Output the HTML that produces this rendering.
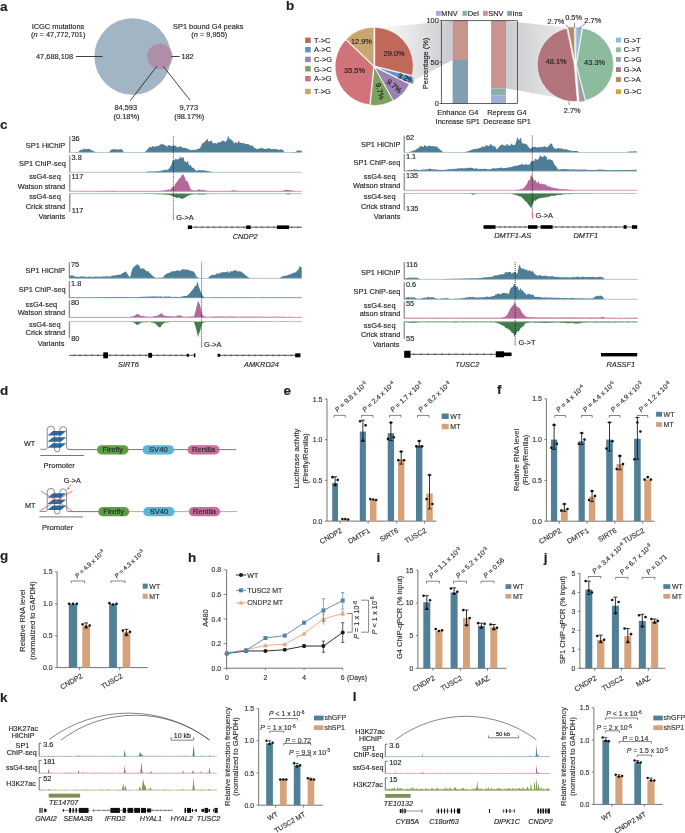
<!DOCTYPE html>
<html><head><meta charset="utf-8"><style>
html,body{margin:0;padding:0;background:#fff;width:685px;height:833px;overflow:hidden}
svg{display:block;will-change:transform;font-family:"Liberation Sans", sans-serif;fill:#231f20}
</style></head><body>
<svg width="685" height="833" viewBox="0 0 685 833">
<rect width="685" height="833" fill="#fff"/>
<text x="0" y="10.6" font-size="13.5" font-weight="bold" stroke="#231f20" stroke-width="0.15">a</text>
<circle cx="132.7" cy="56.5" r="38.3" fill="#a2b5c5"/>
<circle cx="159.9" cy="56.5" r="12.7" fill="#b2819f" fill-opacity="0.75"/>
<text x="58" y="28.9" font-size="7.4" text-anchor="middle" stroke="#231f20" stroke-width="0.15">ICGC mutations</text>
<text x="58.2" y="37.4" font-size="7.4" text-anchor="middle" stroke="#231f20" stroke-width="0.15">(<tspan font-style="italic">n</tspan> = 47,772,701)</text>
<text x="73" y="59.2" font-size="7.4" text-anchor="end" stroke="#231f20" stroke-width="0.15">47,688,108</text>
<line x1="76" y1="56.5" x2="102.5" y2="56.5" stroke="#231f20" stroke-width="0.85"/>
<text x="208.2" y="29.3" font-size="7.4" text-anchor="middle" stroke="#231f20" stroke-width="0.15">SP1 bound G4 peaks</text>
<text x="209.3" y="37.4" font-size="7.4" text-anchor="middle" stroke="#231f20" stroke-width="0.15">(<tspan font-style="italic">n</tspan> = 9,955)</text>
<line x1="171.2" y1="56.5" x2="179.6" y2="56.5" stroke="#231f20" stroke-width="0.85"/>
<text x="181.4" y="59.4" font-size="7.4" stroke="#231f20" stroke-width="0.15">182</text>
<line x1="156.8" y1="66.4" x2="130.2" y2="100.7" stroke="#231f20" stroke-width="0.85"/>
<line x1="163.3" y1="66.4" x2="190.1" y2="100.2" stroke="#231f20" stroke-width="0.85"/>
<text x="125.8" y="110.2" font-size="7.4" text-anchor="middle" stroke="#231f20" stroke-width="0.15">84,593</text>
<text x="126.5" y="118.8" font-size="7.4" text-anchor="middle" stroke="#231f20" stroke-width="0.15">(0.18%)</text>
<text x="188.8" y="110.2" font-size="7.4" text-anchor="middle" stroke="#231f20" stroke-width="0.15">9,773</text>
<text x="189.2" y="118.8" font-size="7.4" text-anchor="middle" stroke="#231f20" stroke-width="0.15">(98.17%)</text>
<text x="285.9" y="10.3" font-size="13.5" font-weight="bold" stroke="#231f20" stroke-width="0.15">b</text>
<defs><linearGradient id="gl" x1="374" y1="0" x2="453" y2="0" gradientUnits="userSpaceOnUse"><stop offset="0" stop-color="#ffffff"/><stop offset="1" stop-color="#c9cacd"/></linearGradient><linearGradient id="gr" x1="506" y1="0" x2="575" y2="0" gradientUnits="userSpaceOnUse"><stop offset="0" stop-color="#cbccce"/><stop offset="1" stop-color="#eeeef0"/></linearGradient></defs>
<path d="M374.6 27.9 L452.6 20.7 L452.6 59.9 L408.1 83.3Z" fill="url(#gl)"/>
<path d="M506 20.7 L569 28 L577 101 L506 88.5Z" fill="url(#gr)"/>
<rect x="305.1" y="37.6" width="5.6" height="5.4" fill="#c0695a"/>
<text x="314.1" y="43" font-size="7.4" stroke="#231f20" stroke-width="0.15">T-&gt;C</text>
<rect x="305.1" y="47" width="5.6" height="5.4" fill="#5f93c5"/>
<text x="314.1" y="52.4" font-size="7.4" stroke="#231f20" stroke-width="0.15">A-&gt;C</text>
<rect x="305.1" y="56.7" width="5.6" height="5.4" fill="#9c82b4"/>
<text x="314.1" y="62.1" font-size="7.4" stroke="#231f20" stroke-width="0.15">C-&gt;G</text>
<rect x="305.1" y="66.1" width="5.6" height="5.4" fill="#79a35e"/>
<text x="314.1" y="71.5" font-size="7.4" stroke="#231f20" stroke-width="0.15">G-&gt;C</text>
<rect x="305.1" y="76" width="5.6" height="5.4" fill="#d0737a"/>
<text x="314.1" y="81.4" font-size="7.4" stroke="#231f20" stroke-width="0.15">A-&gt;G</text>
<rect x="305.1" y="88.8" width="5.6" height="5.4" fill="#c9a66f"/>
<text x="314.1" y="94.2" font-size="7.4" stroke="#231f20" stroke-width="0.15">T-&gt;G</text>
<path d="M374.8 66 L374.8 27.5 A38.5 38.5 0 0 1 412.09 75.57 Z" fill="#c0695a" stroke="#fff" stroke-width="0.6"/>
<path d="M375.8 67 L413.09 76.57 A38.5 38.5 0 0 1 410.43 83.83 Z" fill="#5f93c5" stroke="#fff" stroke-width="0.6"/>
<path d="M374.7 67.2 L409.33 84.03 A38.5 38.5 0 0 1 393.46 100.82 Z" fill="#9c82b4" stroke="#fff" stroke-width="0.6"/>
<path d="M374.2 67 L392.96 100.62 A38.5 38.5 0 0 1 370.34 105.31 Z" fill="#79a35e" stroke="#fff" stroke-width="0.6"/>
<path d="M373.6 66.4 L369.74 104.71 A38.5 38.5 0 0 1 345.7 39.87 Z" fill="#d0737a" stroke="#fff" stroke-width="0.6"/>
<path d="M373.9 65.8 L346 39.27 A38.5 38.5 0 0 1 373.9 27.3 Z" fill="#c9a66f" stroke="#fff" stroke-width="0.6"/>
<text x="394.2" y="55.9" font-size="7.4" text-anchor="middle" stroke="#231f20" stroke-width="0.15">29.0%</text>
<text x="361.4" y="44.3" font-size="7.4" text-anchor="middle" stroke="#231f20" stroke-width="0.15">12.9%</text>
<text x="354.5" y="73" font-size="7.4" text-anchor="middle" stroke="#231f20" stroke-width="0.15">35.5%</text>
<text x="405" y="80.6" font-size="7.4" text-anchor="middle" stroke="#231f20" stroke-width="0.15" transform="rotate(22 405 80.6)">3.2%</text>
<text x="392.5" y="88" font-size="7.4" text-anchor="middle" stroke="#231f20" stroke-width="0.15" transform="rotate(40 392.5 88)">9.7%</text>
<text x="377.6" y="92" font-size="7.4" text-anchor="middle" stroke="#231f20" stroke-width="0.15" transform="rotate(75 377.6 92)">9.7%</text>
<rect x="453.3" y="20.7" width="14.7" height="39.2" fill="#c9938f"/>
<rect x="452.6" y="20.7" width="15.4" height="39.2" fill="#c9938f"/>
<rect x="452.6" y="59.9" width="15.4" height="43.6" fill="#819fb3"/>
<rect x="491.1" y="20.7" width="14.9" height="67.8" fill="#c9938f"/>
<rect x="491.1" y="88.5" width="14.9" height="7" fill="#86b0a8"/>
<rect x="491.1" y="95.5" width="14.9" height="8" fill="#a0b0d4"/>
<rect x="441.3" y="20.7" width="76" height="82.8" fill="none" stroke="#231f20" stroke-width="0.7"/>
<line x1="439.6" y1="103.5" x2="441.3" y2="103.5" stroke="#231f20" stroke-width="0.7"/>
<text x="438.8" y="106.1" font-size="7.4" text-anchor="end" stroke="#231f20" stroke-width="0.15">0</text>
<line x1="439.6" y1="62.1" x2="441.3" y2="62.1" stroke="#231f20" stroke-width="0.7"/>
<text x="438.8" y="64.7" font-size="7.4" text-anchor="end" stroke="#231f20" stroke-width="0.15">50</text>
<line x1="439.6" y1="20.7" x2="441.3" y2="20.7" stroke="#231f20" stroke-width="0.7"/>
<text x="438.8" y="23.3" font-size="7.4" text-anchor="end" stroke="#231f20" stroke-width="0.15">100</text>
<text x="427.6" y="63.4" font-size="7.4" text-anchor="middle" stroke="#231f20" stroke-width="0.15" transform="rotate(-90 427.6 63.4)">Percentage (%)</text>
<text x="457.8" y="115.4" font-size="7.4" text-anchor="middle" stroke="#231f20" stroke-width="0.15">Enhance G4</text>
<text x="457.8" y="124.2" font-size="7.4" text-anchor="middle" stroke="#231f20" stroke-width="0.15">Increase SP1</text>
<text x="507" y="115.4" font-size="7.4" text-anchor="middle" stroke="#231f20" stroke-width="0.15">Repress G4</text>
<text x="507" y="124.2" font-size="7.4" text-anchor="middle" stroke="#231f20" stroke-width="0.15">Decrease SP1</text>
<rect x="436" y="10.9" width="4.8" height="4.9" fill="#a0b0d4"/>
<text x="441.3" y="15.8" font-size="7.4" stroke="#231f20" stroke-width="0.15">MNV</text>
<rect x="462.4" y="10.9" width="4.8" height="4.9" fill="#86b0a8"/>
<text x="467.7" y="15.8" font-size="7.4" stroke="#231f20" stroke-width="0.15">Del</text>
<rect x="483" y="10.9" width="4.8" height="4.9" fill="#c9938f"/>
<text x="488.3" y="15.8" font-size="7.4" stroke="#231f20" stroke-width="0.15">SNV</text>
<rect x="507.2" y="10.9" width="4.8" height="4.9" fill="#819fb3"/>
<text x="512.5" y="15.8" font-size="7.4" stroke="#231f20" stroke-width="0.15">Ins</text>
<path d="M576 64 L576 27 A37 37 0 0 1 582.25 27.53 Z" fill="#8fb8d9" stroke="#fff" stroke-width="0.5"/>
<path d="M576.5 64.6 L582.75 28.13 A37 37 0 0 1 585.7 100.44 Z" fill="#8dbb9d" stroke="#fff" stroke-width="0.5"/>
<path d="M576.1 65.2 L585.3 101.04 A37 37 0 0 1 579.12 102.08 Z" fill="#9b9ea6" stroke="#fff" stroke-width="0.5"/>
<path d="M574.2 64.6 L577.22 101.48 A37 37 0 0 1 566.81 28.35 Z" fill="#b2747c" stroke="#fff" stroke-width="0.5"/>
<path d="M575.3 63.8 L567.91 27.55 A37 37 0 0 1 574.14 26.82 Z" fill="#b08b6b" stroke="#fff" stroke-width="0.5"/>
<path d="M575.6 63.8 L574.44 26.82 A37 37 0 0 1 575.6 26.8 Z" fill="#d9a531" stroke="#fff" stroke-width="0.5"/>
<text x="556.2" y="64.3" font-size="7.4" text-anchor="middle" stroke="#231f20" stroke-width="0.15">48.1%</text>
<text x="594.6" y="64.8" font-size="7.4" text-anchor="middle" stroke="#231f20" stroke-width="0.15">43.3%</text>
<text x="556" y="23.7" font-size="7.4" text-anchor="middle" stroke="#231f20" stroke-width="0.15">2.7%</text>
<text x="573.6" y="20.2" font-size="7.4" text-anchor="middle" stroke="#231f20" stroke-width="0.15">0.5%</text>
<text x="592.8" y="22.8" font-size="7.4" text-anchor="middle" stroke="#231f20" stroke-width="0.15">2.7%</text>
<text x="572.2" y="113" font-size="7.4" text-anchor="middle" stroke="#231f20" stroke-width="0.15">2.7%</text>
<line x1="565.8" y1="25" x2="569.5" y2="28.4" stroke="#231f20" stroke-width="0.5"/>
<line x1="574.4" y1="22.6" x2="574.6" y2="27.6" stroke="#231f20" stroke-width="0.5"/>
<line x1="585.6" y1="23.4" x2="579" y2="28.4" stroke="#231f20" stroke-width="0.5"/>
<line x1="568.6" y1="101.8" x2="569.6" y2="105" stroke="#231f20" stroke-width="0.5"/>
<rect x="616" y="37.7" width="4.9" height="4.8" fill="#8fb8d9"/>
<text x="623.7" y="42.6" font-size="7.4" stroke="#231f20" stroke-width="0.15">G-&gt;T</text>
<rect x="616" y="47.4" width="4.9" height="4.8" fill="#8dbb9d"/>
<text x="623.7" y="52.3" font-size="7.4" stroke="#231f20" stroke-width="0.15">C-&gt;T</text>
<rect x="616" y="57" width="4.9" height="4.8" fill="#9b9ea6"/>
<text x="623.7" y="61.9" font-size="7.4" stroke="#231f20" stroke-width="0.15">C-&gt;G</text>
<rect x="616" y="67.2" width="4.9" height="4.8" fill="#b2747c"/>
<text x="623.7" y="72.1" font-size="7.4" stroke="#231f20" stroke-width="0.15">G-&gt;A</text>
<rect x="616" y="77.1" width="4.9" height="4.8" fill="#b08b6b"/>
<text x="623.7" y="82" font-size="7.4" stroke="#231f20" stroke-width="0.15">C-&gt;A</text>
<rect x="616" y="89.3" width="4.9" height="4.8" fill="#d9a531"/>
<text x="623.7" y="94.2" font-size="7.4" stroke="#231f20" stroke-width="0.15">G-&gt;C</text>
<text x="0" y="129.2" font-size="13.5" font-weight="bold" stroke="#231f20" stroke-width="0.15">c</text>
<text x="65.3" y="147.8" font-size="7.4" text-anchor="end" stroke="#231f20" stroke-width="0.15">SP1 HiChIP</text>
<text x="65.9" y="166.2" font-size="7.4" text-anchor="end" stroke="#231f20" stroke-width="0.15">SP1 ChIP-seq</text>
<text x="60.8" y="178.9" font-size="7.4" text-anchor="end" stroke="#231f20" stroke-width="0.15">ssG4-seq</text>
<text x="65.2" y="188.7" font-size="7.4" text-anchor="end" stroke="#231f20" stroke-width="0.15">Watson strand</text>
<text x="60.8" y="199.3" font-size="7.4" text-anchor="end" stroke="#231f20" stroke-width="0.15">ssG4-seq</text>
<text x="65.2" y="209.1" font-size="7.4" text-anchor="end" stroke="#231f20" stroke-width="0.15">Crick strand</text>
<text x="65.2" y="219.3" font-size="7.4" text-anchor="end" stroke="#231f20" stroke-width="0.15">Variants</text>
<path d="M70.2 152.6L70.2 152.39L70.7 152.36L71.2 152.34L71.7 152.31L72.2 152.3L72.7 152.26L73.2 152.22L73.7 152.21L74.2 152.18L74.7 152.21L75.2 152.19L75.7 152.18L76.2 152.01L76.7 151.99L77.2 151.96L77.7 152.09L78.2 151.88L78.7 151.46L79.2 150.98L79.7 150.56L80.2 150.19L80.7 149.85L81.2 149.8L81.7 149.68L82.2 149.53L82.7 149.47L83.2 149.4L83.7 148.7L84.2 148.61L84.7 148.52L85.2 149.26L85.7 149.3L86.2 149.39L86.7 148.93L87.2 148.9L87.7 149.04L88.2 148.83L88.7 149.05L89.2 149.07L89.7 149.12L90.2 149.15L90.7 149.48L91.2 150.28L91.7 150.44L92.2 150.69L92.7 150.85L93.2 150.96L93.7 151.16L94.2 151.44L94.7 151.7L95.2 151.95L95.7 152.1L96.2 152.27L96.7 152.28L97.2 152.32L97.7 152.33L98.2 152.32L98.7 152.33L99.2 152.34L99.7 152.34L100.2 152.25L100.7 152.26L101.2 152.25L101.7 152.33L102.2 152.32L102.7 152.32L103.2 152.32L103.7 152.34L104.2 152.34L104.7 152.28L105.2 152.28L105.7 152.28L106.2 152.33L106.7 152.34L107.2 152.33L107.7 152.31L108.2 152.3L108.7 152.31L109.2 152.05L109.7 151.49L110.2 150.92L110.7 150.04L111.2 149.7L111.7 149.6L112.2 149.49L112.7 149.52L113.2 149.27L113.7 149.1L114.2 149.03L114.7 148.98L115.2 149.51L115.7 149.57L116.2 149.44L116.7 149.23L117.2 149.32L117.7 149.42L118.2 149.45L118.7 149.62L119.2 149.62L119.7 149.18L120.2 149.27L120.7 149.38L121.2 149.12L121.7 149.2L122.2 149.49L122.7 150.57L123.2 151.23L123.7 151.9L124.2 152.3L124.7 152.3L125.2 152.29L125.7 152.26L126.2 152.26L126.7 152.26L127.2 152.34L127.7 152.34L128.2 152.32L128.7 152.27L129.2 152.29L129.7 152.28L130.2 152.3L130.7 152.3L131.2 152.29L131.7 152.33L132.2 152.33L132.7 152.33L133.2 152.28L133.7 152.27L134.2 152.27L134.7 152.31L135.2 152.31L135.7 152.31L136.2 152.3L136.7 152.3L137.2 152.31L137.7 152.29L138.2 152.29L138.7 152.29L139.2 152.33L139.7 152.33L140.2 152.33L140.7 152.28L141.2 152.28L141.7 152.28L142.2 152.3L142.7 152.31L143.2 152.3L143.7 152.34L144.2 152.34L144.7 152.34L145.2 152.01L145.7 151.31L146.2 150.58L146.7 150.31L147.2 149.66L147.7 148.96L148.2 148.53L148.7 147.71L149.2 147.4L149.7 146.9L150.2 147.05L150.7 146.89L151.2 147.33L151.7 147.16L152.2 147.08L152.7 146.1L153.2 145.99L153.7 146.04L154.2 147.18L154.7 147.02L155.2 146.96L155.7 145.82L156.2 145.97L156.7 145.91L157.2 146.24L157.7 146.17L158.2 145.99L158.7 145.52L159.2 145.49L159.7 145.17L160.2 144.47L160.7 144.42L161.2 144.22L161.7 144.23L162.2 143.7L162.7 143.55L163.2 144.54L163.7 144.74L164.2 144.88L164.7 144.89L165.2 144.82L165.7 145.4L166.2 146.41L166.7 146.44L167.2 146.65L167.7 145.55L168.2 145.38L168.7 145.22L169.2 145.32L169.7 145.1L170.2 145.13L170.7 146.28L171.2 146.08L171.7 146.24L172.2 145.62L172.7 145.64L173.2 145.9L173.7 145.31L174.2 145.65L174.7 145.69L175.2 145.63L175.7 145.52L176.2 145.75L176.7 147.23L177.2 147.22L177.7 147.18L178.2 146.95L178.7 146.91L179.2 147L179.7 146.27L180.2 146.3L180.7 146.56L181.2 146.8L181.7 146.97L182.2 147.05L182.7 147.82L183.2 147.9L183.7 147.99L184.2 147.71L184.7 147.94L185.2 147.92L185.7 147.89L186.2 148.17L186.7 148.3L187.2 148.77L187.7 149.03L188.2 149.33L188.7 149.29L189.2 149.37L189.7 149.7L190.2 150.08L190.7 150.18L191.2 150.17L191.7 149.95L192.2 149.93L192.7 149.96L193.2 149.68L193.7 149.61L194.2 149.74L194.7 150.2L195.2 150.16L195.7 149.91L196.2 149.4L196.7 149.12L197.2 148.97L197.7 149.14L198.2 148.84L198.7 148.64L199.2 148.58L199.7 148.36L200.2 148L200.7 146.59L201.2 145.44L201.7 144.43L202.2 143.84L202.7 142.95L203.2 142.81L203.7 142.82L204.2 142.6L204.7 142.28L205.2 141.3L205.7 140.59L206.2 140.39L206.7 139.03L207.2 139.36L207.7 139.09L208.2 141.8L208.7 141.42L209.2 141.4L209.7 140.93L210.2 141.31L210.7 141.31L211.2 140.56L211.7 140.47L212.2 141.28L212.7 143.44L213.2 143.17L213.7 143.4L214.2 142.76L214.7 143.08L215.2 142.71L215.7 143.51L216.2 143.67L216.7 143.71L217.2 142.41L217.7 142.46L218.2 142.44L218.7 142.61L219.2 142.59L219.7 142.33L220.2 142.05L220.7 141.75L221.2 141.79L221.7 141.28L222.2 140.85L222.7 140.7L223.2 140.77L223.7 140.66L224.2 140.15L224.7 142.1L225.2 141.88L225.7 141.83L226.2 140.75L226.7 140.53L227.2 140.1L227.7 136.85L228.2 136.28L228.7 136.73L229.2 138.17L229.7 139.3L230.2 139.69L230.7 138.67L231.2 139.15L231.7 140.13L232.2 140.6L232.7 141.11L233.2 141.32L233.7 143.02L234.2 143.19L234.7 143.27L235.2 141.94L235.7 141.95L236.2 142.25L236.7 143.33L237.2 142.97L237.7 142.91L238.2 141.37L238.7 141.44L239.2 140.94L239.7 142.42L240.2 142.77L240.7 142.83L241.2 142.86L241.7 142.91L242.2 143.4L242.7 142.6L243.2 143.12L243.7 143.13L244.2 143.22L244.7 143.49L245.2 143.64L245.7 144.37L246.2 144.04L246.7 144.2L247.2 143.85L247.7 144.08L248.2 144.3L248.7 144.6L249.2 144.5L249.7 144.7L250.2 145.48L250.7 145.66L251.2 145.75L251.7 145.17L252.2 145.43L252.7 145.9L253.2 146.6L253.7 147.05L254.2 147.6L254.7 148.09L255.2 148.29L255.7 148.27L256.2 149.12L256.7 149.06L257.2 149.07L257.7 148.75L258.2 148.83L258.7 148.92L259.2 148.39L259.7 148.41L260.2 148.45L260.7 148.02L261.2 148.02L261.7 148.02L262.2 148.23L262.7 148.1L263.2 148.08L263.7 148.96L264.2 149.06L264.7 149.03L265.2 148.93L265.7 148.91L266.2 148.76L266.7 148.68L267.2 148.58L267.7 148.68L268.2 148.2L268.7 148.17L269.2 148.35L269.7 148.63L270.2 148.81L270.7 148.65L271.2 149.24L271.7 149.34L272.2 149.3L272.7 148.97L273.2 148.82L273.7 148.97L274.2 149.05L274.7 149.13L275.2 149.18L275.7 149.04L276.2 149.13L276.7 149.08L277.2 149.59L277.7 149.58L278.2 149.65L278.7 149.67L279.2 149.77L279.7 149.7L280.2 149.37L280.7 149.19L281.2 149.2L281.7 149.79L282.2 149.88L282.7 149.87L283.2 149.76L283.7 151.31L284.2 152.25L284.7 152.26L285.2 152.24L285.7 152.23L286.2 152.24L286.7 152.22L287.2 152.21L287.7 152.25L288.2 152.23L288.7 152.23L289.2 152.17L289.7 152.17L290.2 152.16L290.7 152.12L291.2 152.1L291.7 152.1L292.2 152.01L292.7 152L293.2 152L293.7 152.1L294.2 152.1L294.7 152.09L295.2 152.05L295.7 152.02L296.2 151.73L296.7 150.89L297.2 150.41L297.7 150.49L298.2 150.59L298.7 150.6L299.2 150.6L299.7 150.83L300.2 150.8L300.7 150.78L301.2 150.48L301.7 150.42L301.7 152.6Z" fill="#4d7d97"/>
<path d="M70.2 172.4L70.2 172.2L70.7 172.2L71.2 172.21L71.7 172.23L72.2 172.23L72.7 172.22L73.2 172.19L73.7 172.19L74.2 172.19L74.7 172.22L75.2 172.22L75.7 172.21L76.2 172.22L76.7 172.23L77.2 172.22L77.7 172.21L78.2 172.21L78.7 172.21L79.2 172.22L79.7 172.22L80.2 172.23L80.7 172.17L81.2 172.18L81.7 172.17L82.2 172.22L82.7 172.22L83.2 172.22L83.7 172.19L84.2 172.19L84.7 172.19L85.2 172.21L85.7 172.2L86.2 172.21L86.7 172.21L87.2 172.2L87.7 172.2L88.2 172.17L88.7 172.18L89.2 172.17L89.7 172.19L90.2 172.19L90.7 172.19L91.2 172.21L91.7 172.2L92.2 172.21L92.7 172.22L93.2 172.23L93.7 172.23L94.2 172.22L94.7 172.22L95.2 172.21L95.7 172.22L96.2 172.23L96.7 172.22L97.2 172.23L97.7 172.23L98.2 172.22L98.7 172.23L99.2 172.23L99.7 172.23L100.2 172.2L100.7 172.2L101.2 172.2L101.7 172.21L102.2 172.22L102.7 172.22L103.2 172.18L103.7 172.19L104.2 172.19L104.7 172.19L105.2 172.19L105.7 172.19L106.2 172.22L106.7 172.22L107.2 172.22L107.7 172.21L108.2 172.2L108.7 172.2L109.2 172.18L109.7 172.18L110.2 172.18L110.7 172.2L111.2 172.2L111.7 172.2L112.2 172.18L112.7 172.18L113.2 172.17L113.7 172.21L114.2 172.21L114.7 172.21L115.2 172.19L115.7 172.19L116.2 172.19L116.7 172.19L117.2 172.19L117.7 172.19L118.2 172.21L118.7 172.21L119.2 172.2L119.7 172.2L120.2 172.19L120.7 172.19L121.2 172.19L121.7 172.18L122.2 172.18L122.7 172.18L123.2 172.19L123.7 172.19L124.2 172.19L124.7 172.19L125.2 172.18L125.7 172.17L126.2 172.17L126.7 172.17L127.2 172.19L127.7 172.2L128.2 172.2L128.7 172.21L129.2 172.2L129.7 172.21L130.2 172.2L130.7 172.2L131.2 172.2L131.7 172.19L132.2 172.19L132.7 172.19L133.2 172.21L133.7 172.21L134.2 172.21L134.7 172.21L135.2 172.21L135.7 172.21L136.2 172.18L136.7 172.18L137.2 172.18L137.7 172.21L138.2 172.2L138.7 172.21L139.2 172.22L139.7 172.21L140.2 172.22L140.7 172.21L141.2 172.21L141.7 172.21L142.2 172.21L142.7 172.22L143.2 172.21L143.7 172.22L144.2 172.22L144.7 172.21L145.2 172.14L145.7 171.94L146.2 171.82L146.7 171.81L147.2 171.77L147.7 171.76L148.2 171.63L148.7 171.59L149.2 171.58L149.7 171.55L150.2 171.51L150.7 171.5L151.2 171.51L151.7 171.49L152.2 171.47L152.7 171.49L153.2 171.48L153.7 171.47L154.2 171.25L154.7 171.18L155.2 171.17L155.7 171.26L156.2 171.23L156.7 171.24L157.2 171.28L157.7 171.24L158.2 171.23L158.7 170.98L159.2 170.93L159.7 170.93L160.2 171.01L160.7 170.92L161.2 170.83L161.7 170.57L162.2 170.46L162.7 170.36L163.2 170.13L163.7 170.09L164.2 169.88L164.7 169.84L165.2 169.8L165.7 169.64L166.2 170.03L166.7 169.83L167.2 169.74L167.7 169.72L168.2 169.56L168.7 168.84L169.2 168.48L169.7 167.86L170.2 167.05L170.7 165.95L171.2 165.06L171.7 164.11L172.2 161.48L172.7 160.74L173.2 159.62L173.7 160.61L174.2 160.34L174.7 160.03L175.2 159L175.7 158.67L176.2 158.68L176.7 159.38L177.2 159.41L177.7 159.39L178.2 159.33L178.7 158.9L179.2 159.02L179.7 157.73L180.2 156.87L180.7 156.46L181.2 158.14L181.7 158.09L182.2 158.1L182.7 157.12L183.2 157.32L183.7 157.42L184.2 160.69L184.7 161.23L185.2 161.54L185.7 161.64L186.2 162.22L186.7 162.51L187.2 160.74L187.7 161.21L188.2 162.31L188.7 164.18L189.2 164.89L189.7 165.49L190.2 164.81L190.7 165.31L191.2 165.91L191.7 167.31L192.2 167.58L192.7 167.93L193.2 167.52L193.7 167.96L194.2 168.56L194.7 169.51L195.2 169.96L195.7 170.35L196.2 170.78L196.7 170.73L197.2 170.68L197.7 170.2L198.2 170.23L198.7 170.19L199.2 170.07L199.7 170.11L200.2 170.13L200.7 170.24L201.2 170.27L201.7 170.3L202.2 170.4L202.7 170.47L203.2 170.42L203.7 170.09L204.2 170.16L204.7 170.15L205.2 170.63L205.7 170.74L206.2 170.89L206.7 170.74L207.2 170.86L207.7 170.99L208.2 171.18L208.7 171.24L209.2 171.39L209.7 171.44L210.2 171.6L210.7 171.78L211.2 172.02L211.7 172.2L212.2 172.31L212.7 172.29L213.2 172.29L213.7 172.29L214.2 172.3L214.7 172.3L215.2 172.31L215.7 172.3L216.2 172.3L216.7 172.29L217.2 172.29L217.7 172.29L218.2 172.29L218.7 172.3L219.2 172.31L219.7 172.31L220.2 172.3L220.7 172.3L221.2 172.3L221.7 172.29L222.2 172.28L222.7 172.29L223.2 172.3L223.7 172.3L224.2 172.3L224.7 172.31L225.2 172.31L225.7 172.31L226.2 172.29L226.7 172.29L227.2 172.3L227.7 172.31L228.2 172.3L228.7 172.3L229.2 172.3L229.7 172.3L230.2 172.31L230.7 172.29L231.2 172.29L231.7 172.29L232.2 172.31L232.7 172.31L233.2 172.3L233.7 172.31L234.2 172.31L234.7 172.3L235.2 172.3L235.7 172.3L236.2 172.3L236.7 172.31L237.2 172.31L237.7 172.31L238.2 172.29L238.7 172.29L239.2 172.29L239.7 172.29L240.2 172.29L240.7 172.29L241.2 172.31L241.7 172.3L242.2 172.31L242.7 172.3L243.2 172.29L243.7 172.29L244.2 172.3L244.7 172.3L245.2 172.3L245.7 172.3L246.2 172.31L246.7 172.3L247.2 172.3L247.7 172.3L248.2 172.3L248.7 172.3L249.2 172.3L249.7 172.3L250.2 172.29L250.7 172.29L251.2 172.29L251.7 172.29L252.2 172.3L252.7 172.3L253.2 172.29L253.7 172.29L254.2 172.29L254.7 172.29L255.2 172.29L255.7 172.3L256.2 172.31L256.7 172.31L257.2 172.31L257.7 172.29L258.2 172.29L258.7 172.29L259.2 172.29L259.7 172.29L260.2 172.28L260.7 172.29L261.2 172.29L261.7 172.29L262.2 172.3L262.7 172.3L263.2 172.29L263.7 172.29L264.2 172.29L264.7 172.29L265.2 172.29L265.7 172.29L266.2 172.3L266.7 172.3L267.2 172.3L267.7 172.3L268.2 172.3L268.7 172.3L269.2 172.3L269.7 172.3L270.2 172.3L270.7 172.3L271.2 172.29L271.7 172.29L272.2 172.29L272.7 172.3L273.2 172.3L273.7 172.3L274.2 172.31L274.7 172.31L275.2 172.31L275.7 172.31L276.2 172.31L276.7 172.31L277.2 172.28L277.7 172.29L278.2 172.28L278.7 172.31L279.2 172.3L279.7 172.3L280.2 172.3L280.7 172.3L281.2 172.3L281.7 172.31L282.2 172.31L282.7 172.31L283.2 172.29L283.7 172.29L284.2 172.29L284.7 172.29L285.2 172.29L285.7 172.29L286.2 172.29L286.7 172.3L287.2 172.3L287.7 172.3L288.2 172.3L288.7 172.3L289.2 172.31L289.7 172.31L290.2 172.31L290.7 172.29L291.2 172.3L291.7 172.3L292.2 172.31L292.7 172.31L293.2 172.31L293.7 172.3L294.2 172.3L294.7 172.3L295.2 172.3L295.7 172.31L296.2 172.31L296.7 172.29L297.2 172.29L297.7 172.3L298.2 172.31L298.7 172.31L299.2 172.31L299.7 172.3L300.2 172.3L300.7 172.3L301.2 172.29L301.7 172.29L301.7 172.4Z" fill="#4d7d97"/>
<path d="M70.2 191.4L70.2 191.21L70.7 191.21L71.2 191.2L71.7 191.21L72.2 191.21L72.7 191.21L73.2 191.17L73.7 191.17L74.2 191.17L74.7 191.19L75.2 191.18L75.7 191.18L76.2 191.2L76.7 191.2L77.2 191.19L77.7 191.14L78.2 191.13L78.7 191.13L79.2 191.12L79.7 191.12L80.2 191.11L80.7 191.14L81.2 191.14L81.7 191.14L82.2 191.15L82.7 191.15L83.2 191.15L83.7 191.1L84.2 191.1L84.7 191.1L85.2 191.12L85.7 191.12L86.2 191.11L86.7 191.13L87.2 191.12L87.7 191.12L88.2 191.13L88.7 191.12L89.2 191.13L89.7 191.13L90.2 191.13L90.7 191.13L91.2 191.12L91.7 191.13L92.2 191.11L92.7 191.05L93.2 191.04L93.7 191.03L94.2 191.13L94.7 191.11L95.2 191.11L95.7 191.07L96.2 191.06L96.7 191.05L97.2 191.02L97.7 191.03L98.2 191.01L98.7 191.06L99.2 191.07L99.7 191.05L100.2 191.03L100.7 191.04L101.2 191.03L101.7 191.03L102.2 191.03L102.7 191.02L103.2 191.05L103.7 191.06L104.2 191.04L104.7 191.07L105.2 191.07L105.7 191.06L106.2 191.01L106.7 191.02L107.2 191.01L107.7 191.04L108.2 191.04L108.7 191.01L109.2 191.05L109.7 191.05L110.2 191L110.7 190.92L111.2 190.84L111.7 190.73L112.2 190.74L112.7 190.79L113.2 190.83L113.7 190.82L114.2 190.89L114.7 190.96L115.2 191.05L115.7 191.04L116.2 191.05L116.7 191.02L117.2 191.02L117.7 191.03L118.2 190.99L118.7 191L119.2 191L119.7 191.04L120.2 191.04L120.7 191.04L121.2 191.04L121.7 191.04L122.2 191.06L122.7 190.98L123.2 190.97L123.7 190.97L124.2 191.02L124.7 191.02L125.2 191.03L125.7 190.97L126.2 190.95L126.7 190.97L127.2 191.02L127.7 191.03L128.2 191.03L128.7 191.02L129.2 191.01L129.7 191L130.2 191.05L130.7 191.06L131.2 191.04L131.7 191.01L132.2 191.02L132.7 191.03L133.2 191.06L133.7 191.05L134.2 191.06L134.7 191.01L135.2 191.01L135.7 191L136.2 191.03L136.7 191.03L137.2 191.02L137.7 190.99L138.2 191L138.7 191L139.2 190.98L139.7 190.98L140.2 191L140.7 191.04L141.2 191.03L141.7 191.04L142.2 191.01L142.7 191.03L143.2 191.03L143.7 191.06L144.2 191.04L144.7 191.06L145.2 190.97L145.7 190.96L146.2 190.97L146.7 191.01L147.2 191L147.7 191L148.2 191.02L148.7 191.03L149.2 191.03L149.7 190.95L150.2 190.95L150.7 190.94L151.2 191.02L151.7 191.02L152.2 191.01L152.7 191.01L153.2 191.02L153.7 191.01L154.2 190.96L154.7 190.95L155.2 190.95L155.7 191.01L156.2 191L156.7 190.99L157.2 191L157.7 191L158.2 191L158.7 191.03L159.2 191.05L159.7 191.03L160.2 191.02L160.7 190.93L161.2 190.86L161.7 190.64L162.2 190.55L162.7 190.44L163.2 190.53L163.7 190.48L164.2 190.43L164.7 190.16L165.2 190.02L165.7 190L166.2 189.97L166.7 189.9L167.2 189.79L167.7 189.7L168.2 189.61L168.7 189.52L169.2 189.78L169.7 189.78L170.2 189.67L170.7 189.07L171.2 188.57L171.7 188.08L172.2 187.55L172.7 186.91L173.2 186.43L173.7 186.72L174.2 186.27L174.7 185.86L175.2 184.01L175.7 183.16L176.2 182.36L176.7 182.35L177.2 181.67L177.7 180.54L178.2 180.2L178.7 179.03L179.2 178.41L179.7 178.16L180.2 177.65L180.7 177.64L181.2 175.91L181.7 175.4L182.2 175.08L182.7 174.28L183.2 174.32L183.7 175.36L184.2 176.39L184.7 177.05L185.2 177.76L185.7 180.25L186.2 180.88L186.7 181.49L187.2 180.31L187.7 181.71L188.2 182.81L188.7 184.17L189.2 185.54L189.7 186.75L190.2 188.37L190.7 189.49L191.2 189.75L191.7 189.87L192.2 190.07L192.7 190.22L193.2 190.12L193.7 190.29L194.2 190.46L194.7 190.8L195.2 190.81L195.7 190.64L196.2 190.45L196.7 190.33L197.2 190.14L197.7 189.65L198.2 189.56L198.7 189.57L199.2 189.52L199.7 189.53L200.2 189.63L200.7 189.91L201.2 189.93L201.7 189.95L202.2 189.67L202.7 189.64L203.2 189.73L203.7 190.02L204.2 190.13L204.7 190.23L205.2 190.29L205.7 190.45L206.2 190.54L206.7 190.76L207.2 190.89L207.7 190.97L208.2 190.95L208.7 190.94L209.2 190.95L209.7 191.03L210.2 191.02L210.7 191.03L211.2 190.98L211.7 190.98L212.2 190.97L212.7 191.03L213.2 191.03L213.7 191.04L214.2 190.97L214.7 190.97L215.2 190.95L215.7 190.97L216.2 190.97L216.7 190.97L217.2 191.06L217.7 191.06L218.2 191.06L218.7 190.97L219.2 190.96L219.7 190.95L220.2 190.98L220.7 190.97L221.2 190.97L221.7 190.97L222.2 190.98L222.7 190.98L223.2 190.97L223.7 190.97L224.2 190.96L224.7 190.99L225.2 191L225.7 190.98L226.2 191.02L226.7 191.02L227.2 191.02L227.7 191L228.2 191.01L228.7 191.01L229.2 190.97L229.7 190.97L230.2 190.91L230.7 190.79L231.2 190.66L231.7 190.55L232.2 190.49L232.7 190.37L233.2 190.32L233.7 190.37L234.2 190.49L234.7 190.55L235.2 190.56L235.7 190.61L236.2 190.72L236.7 190.78L237.2 190.85L237.7 190.94L238.2 191L238.7 191.01L239.2 191.01L239.7 191.02L240.2 191L240.7 191.01L241.2 190.97L241.7 190.98L242.2 190.97L242.7 191.03L243.2 191.05L243.7 191.03L244.2 190.99L244.7 190.98L245.2 190.99L245.7 191.01L246.2 190.99L246.7 191L247.2 191.04L247.7 191.03L248.2 191.02L248.7 190.96L249.2 190.97L249.7 190.95L250.2 191.03L250.7 191.03L251.2 191.02L251.7 191.03L252.2 191.03L252.7 191.05L253.2 191L253.7 190.99L254.2 190.98L254.7 190.98L255.2 190.98L255.7 190.99L256.2 191.01L256.7 191L257.2 191.01L257.7 191L258.2 191L258.7 191.01L259.2 191.05L259.7 191.05L260.2 191.04L260.7 190.97L261.2 190.99L261.7 190.98L262.2 190.99L262.7 190.99L263.2 190.99L263.7 190.99L264.2 190.99L264.7 191L265.2 191.04L265.7 191.05L266.2 191.06L266.7 190.99L267.2 190.99L267.7 190.99L268.2 190.98L268.7 190.97L269.2 190.98L269.7 190.97L270.2 190.99L270.7 190.98L271.2 191.01L271.7 191.01L272.2 191L272.7 190.96L273.2 190.98L273.7 190.96L274.2 190.99L274.7 191L275.2 190.99L275.7 190.98L276.2 190.99L276.7 190.97L277.2 191.02L277.7 191L278.2 191.02L278.7 191.01L279.2 191.01L279.7 191.01L280.2 191.03L280.7 191.03L281.2 191.04L281.7 190.98L282.2 190.91L282.7 190.74L283.2 190.66L283.7 190.54L284.2 190.36L284.7 190.07L285.2 189.91L285.7 189.77L286.2 189.66L286.7 189.68L287.2 189.79L287.7 189.95L288.2 190.04L288.7 190.06L289.2 190.22L289.7 190.28L290.2 190.31L290.7 190.41L291.2 190.45L291.7 190.47L292.2 190.53L292.7 190.63L293.2 190.73L293.7 190.79L294.2 190.88L294.7 190.96L295.2 191.05L295.7 191.13L296.2 191.2L296.7 191.22L297.2 191.22L297.7 191.22L298.2 191.19L298.7 191.18L299.2 191.19L299.7 191.18L300.2 191.18L300.7 191.17L301.2 191.18L301.7 191.19L301.7 191.4Z" fill="#b4689a"/>
<path d="M70.2 193.5L70.2 193.77L70.7 193.77L71.2 193.77L71.7 193.78L72.2 193.78L72.7 193.78L73.2 193.79L73.7 193.78L74.2 193.79L74.7 193.76L75.2 193.78L75.7 193.77L76.2 193.79L76.7 193.78L77.2 193.77L77.7 193.81L78.2 193.8L78.7 193.81L79.2 193.77L79.7 193.76L80.2 193.76L80.7 193.84L81.2 193.85L81.7 193.84L82.2 193.82L82.7 193.81L83.2 193.8L83.7 193.81L84.2 193.8L84.7 193.8L85.2 193.83L85.7 193.83L86.2 193.83L86.7 193.78L87.2 193.78L87.7 193.77L88.2 193.82L88.7 193.82L89.2 193.82L89.7 193.81L90.2 193.82L90.7 193.81L91.2 193.8L91.7 193.8L92.2 193.8L92.7 193.8L93.2 193.8L93.7 193.79L94.2 193.79L94.7 193.8L95.2 193.81L95.7 193.76L96.2 193.77L96.7 193.76L97.2 193.76L97.7 193.77L98.2 193.76L98.7 193.79L99.2 193.8L99.7 193.78L100.2 193.78L100.7 193.79L101.2 193.78L101.7 193.78L102.2 193.77L102.7 193.78L103.2 193.84L103.7 193.84L104.2 193.85L104.7 193.78L105.2 193.78L105.7 193.78L106.2 193.77L106.7 193.78L107.2 193.77L107.7 193.78L108.2 193.79L108.7 193.78L109.2 193.82L109.7 193.82L110.2 193.82L110.7 193.84L111.2 193.84L111.7 193.84L112.2 193.79L112.7 193.8L113.2 193.79L113.7 193.82L114.2 193.83L114.7 193.82L115.2 193.79L115.7 193.78L116.2 193.78L116.7 193.77L117.2 193.77L117.7 193.78L118.2 193.77L118.7 193.77L119.2 193.77L119.7 193.8L120.2 193.79L120.7 193.79L121.2 193.79L121.7 193.79L122.2 193.79L122.7 193.81L123.2 193.82L123.7 193.81L124.2 193.82L124.7 193.81L125.2 193.82L125.7 193.81L126.2 193.81L126.7 193.81L127.2 193.78L127.7 193.79L128.2 193.79L128.7 193.77L129.2 193.77L129.7 193.76L130.2 193.77L130.7 193.76L131.2 193.77L131.7 193.84L132.2 193.84L132.7 193.82L133.2 193.82L133.7 193.82L134.2 193.82L134.7 193.8L135.2 193.81L135.7 193.81L136.2 193.8L136.7 193.8L137.2 193.81L137.7 193.78L138.2 193.78L138.7 193.77L139.2 193.84L139.7 193.85L140.2 193.85L140.7 193.86L141.2 193.86L141.7 193.87L142.2 193.84L142.7 193.83L143.2 193.84L143.7 193.93L144.2 193.94L144.7 193.96L145.2 193.91L145.7 193.92L146.2 193.94L146.7 193.88L147.2 193.89L147.7 193.91L148.2 193.96L148.7 193.98L149.2 193.97L149.7 193.94L150.2 193.97L150.7 193.98L151.2 194.02L151.7 194.02L152.2 194.04L152.7 194.03L153.2 194.06L153.7 194.06L154.2 194.07L154.7 194.07L155.2 194.06L155.7 194.21L156.2 194.23L156.7 194.25L157.2 194.19L157.7 194.23L158.2 194.24L158.7 194.29L159.2 194.31L159.7 194.35L160.2 194.29L160.7 194.31L161.2 194.35L161.7 194.35L162.2 194.39L162.7 194.38L163.2 194.38L163.7 194.37L164.2 194.44L164.7 194.49L165.2 194.5L165.7 194.49L166.2 194.65L166.7 194.71L167.2 194.8L167.7 194.84L168.2 194.85L168.7 194.98L169.2 194.87L169.7 194.89L170.2 194.99L170.7 195.52L171.2 195.62L171.7 195.8L172.2 195.91L172.7 196.04L173.2 196.2L173.7 196.7L174.2 196.84L174.7 197.11L175.2 197.35L175.7 197.45L176.2 197.69L176.7 197.73L177.2 197.92L177.7 198.24L178.2 197.46L178.7 197.36L179.2 197.48L179.7 198.09L180.2 198.36L180.7 198.35L181.2 198.76L181.7 198.65L182.2 198.73L182.7 198.5L183.2 198.47L183.7 198.23L184.2 197.91L184.7 197.69L185.2 197.54L185.7 196.92L186.2 196.63L186.7 196.43L187.2 196.13L187.7 195.78L188.2 195.63L188.7 195.56L189.2 195.25L189.7 195.08L190.2 194.95L190.7 194.7L191.2 194.58L191.7 194.66L192.2 194.63L192.7 194.54L193.2 194.32L193.7 194.3L194.2 194.24L194.7 194.24L195.2 194.24L195.7 194.25L196.2 194.17L196.7 194.19L197.2 194.21L197.7 194.38L198.2 194.42L198.7 194.45L199.2 194.41L199.7 194.49L200.2 194.47L200.7 194.46L201.2 194.44L201.7 194.45L202.2 194.54L202.7 194.48L203.2 194.51L203.7 194.45L204.2 194.42L204.7 194.4L205.2 194.31L205.7 194.29L206.2 194.2L206.7 194.15L207.2 194.08L207.7 194.02L208.2 193.97L208.7 193.91L209.2 193.87L209.7 193.85L210.2 193.82L210.7 193.81L211.2 193.78L211.7 193.77L212.2 193.78L212.7 193.82L213.2 193.83L213.7 193.83L214.2 193.81L214.7 193.8L215.2 193.8L215.7 193.77L216.2 193.76L216.7 193.77L217.2 193.82L217.7 193.82L218.2 193.82L218.7 193.81L219.2 193.8L219.7 193.79L220.2 193.8L220.7 193.82L221.2 193.81L221.7 193.79L222.2 193.79L222.7 193.79L223.2 193.82L223.7 193.82L224.2 193.82L224.7 193.84L225.2 193.84L225.7 193.85L226.2 193.79L226.7 193.79L227.2 193.79L227.7 193.81L228.2 193.82L228.7 193.82L229.2 193.83L229.7 193.82L230.2 193.83L230.7 193.85L231.2 193.84L231.7 193.84L232.2 193.79L232.7 193.79L233.2 193.79L233.7 193.79L234.2 193.78L234.7 193.79L235.2 193.78L235.7 193.79L236.2 193.79L236.7 193.84L237.2 193.83L237.7 193.85L238.2 193.76L238.7 193.77L239.2 193.77L239.7 193.81L240.2 193.8L240.7 193.8L241.2 193.79L241.7 193.77L242.2 193.78L242.7 193.8L243.2 193.81L243.7 193.79L244.2 193.77L244.7 193.76L245.2 193.76L245.7 193.8L246.2 193.79L246.7 193.79L247.2 193.83L247.7 193.83L248.2 193.82L248.7 193.79L249.2 193.81L249.7 193.79L250.2 193.76L250.7 193.77L251.2 193.76L251.7 193.8L252.2 193.81L252.7 193.8L253.2 193.83L253.7 193.82L254.2 193.82L254.7 193.79L255.2 193.78L255.7 193.79L256.2 193.8L256.7 193.8L257.2 193.8L257.7 193.81L258.2 193.8L258.7 193.8L259.2 193.79L259.7 193.8L260.2 193.8L260.7 193.78L261.2 193.77L261.7 193.77L262.2 193.84L262.7 193.83L263.2 193.84L263.7 193.76L264.2 193.77L264.7 193.76L265.2 193.83L265.7 193.83L266.2 193.83L266.7 193.77L267.2 193.77L267.7 193.77L268.2 193.81L268.7 193.81L269.2 193.8L269.7 193.78L270.2 193.8L270.7 193.79L271.2 193.8L271.7 193.79L272.2 193.8L272.7 193.82L273.2 193.82L273.7 193.82L274.2 193.84L274.7 193.83L275.2 193.84L275.7 193.79L276.2 193.79L276.7 193.78L277.2 193.77L277.7 193.77L278.2 193.76L278.7 193.83L279.2 193.84L279.7 193.83L280.2 193.83L280.7 193.82L281.2 193.83L281.7 193.8L282.2 193.79L282.7 193.79L283.2 193.78L283.7 193.78L284.2 193.78L284.7 193.83L285.2 193.87L285.7 194L286.2 194.01L286.7 194.13L287.2 194.2L287.7 194.49L288.2 194.49L288.7 194.4L289.2 194.31L289.7 194.23L290.2 194.15L290.7 194.02L291.2 193.93L291.7 193.85L292.2 193.83L292.7 193.83L293.2 193.83L293.7 193.78L294.2 193.79L294.7 193.77L295.2 193.8L295.7 193.8L296.2 193.8L296.7 193.77L297.2 193.76L297.7 193.77L298.2 193.83L298.7 193.83L299.2 193.82L299.7 193.82L300.2 193.83L300.7 193.82L301.2 193.82L301.7 193.83L301.7 193.5Z" fill="#3f7c4c"/>
<line x1="69.8" y1="152.4" x2="302" y2="152.4" stroke="#a6c0cf" stroke-width="0.6"/>
<line x1="69.8" y1="172.2" x2="302" y2="172.2" stroke="#a6c0cf" stroke-width="0.6"/>
<line x1="69.8" y1="191.2" x2="302" y2="191.2" stroke="#c985b0" stroke-width="0.6"/>
<line x1="69.8" y1="193.7" x2="302" y2="193.7" stroke="#9fc3a6" stroke-width="0.6"/>
<line x1="69.8" y1="136.2" x2="69.8" y2="152.6" stroke="#333333" stroke-width="0.7"/>
<line x1="69.8" y1="155.2" x2="69.8" y2="172.4" stroke="#333333" stroke-width="0.7"/>
<line x1="69.8" y1="174" x2="69.8" y2="191.4" stroke="#333333" stroke-width="0.7"/>
<line x1="69.8" y1="193.5" x2="69.8" y2="211.9" stroke="#333333" stroke-width="0.7"/>
<text x="71.5" y="140.8" font-size="7.4" stroke="#231f20" stroke-width="0.15">36</text>
<text x="71.5" y="159.9" font-size="7.4" stroke="#231f20" stroke-width="0.15">3.8</text>
<text x="71.5" y="178.9" font-size="7.4" stroke="#231f20" stroke-width="0.15">117</text>
<text x="71.7" y="212.5" font-size="7.4" stroke="#231f20" stroke-width="0.15">117</text>
<line x1="173.4" y1="136.2" x2="173.4" y2="213.8" stroke="#111" stroke-width="0.7" stroke-dasharray="1.1,0.9"/>
<line x1="173.4" y1="213.8" x2="173.4" y2="220" stroke="#e2382f" stroke-width="0.8"/>
<text x="176.2" y="219.7" font-size="7.4" stroke="#231f20" stroke-width="0.15">G-&gt;A</text>
<line x1="188" y1="227.2" x2="302" y2="227.2" stroke="#231f20" stroke-width="0.75"/>
<line x1="196" y1="226.1" x2="196" y2="228.3" stroke="#231f20" stroke-width="0.55"/>
<line x1="202" y1="226.1" x2="202" y2="228.3" stroke="#231f20" stroke-width="0.55"/>
<line x1="208" y1="226.1" x2="208" y2="228.3" stroke="#231f20" stroke-width="0.55"/>
<line x1="214" y1="226.1" x2="214" y2="228.3" stroke="#231f20" stroke-width="0.55"/>
<line x1="220" y1="226.1" x2="220" y2="228.3" stroke="#231f20" stroke-width="0.55"/>
<line x1="226" y1="226.1" x2="226" y2="228.3" stroke="#231f20" stroke-width="0.55"/>
<line x1="232" y1="226.1" x2="232" y2="228.3" stroke="#231f20" stroke-width="0.55"/>
<line x1="238" y1="226.1" x2="238" y2="228.3" stroke="#231f20" stroke-width="0.55"/>
<line x1="244" y1="226.1" x2="244" y2="228.3" stroke="#231f20" stroke-width="0.55"/>
<line x1="250" y1="226.1" x2="250" y2="228.3" stroke="#231f20" stroke-width="0.55"/>
<line x1="256" y1="226.1" x2="256" y2="228.3" stroke="#231f20" stroke-width="0.55"/>
<line x1="262" y1="226.1" x2="262" y2="228.3" stroke="#231f20" stroke-width="0.55"/>
<line x1="268" y1="226.1" x2="268" y2="228.3" stroke="#231f20" stroke-width="0.55"/>
<line x1="274" y1="226.1" x2="274" y2="228.3" stroke="#231f20" stroke-width="0.55"/>
<line x1="280" y1="226.1" x2="280" y2="228.3" stroke="#231f20" stroke-width="0.55"/>
<line x1="286" y1="226.1" x2="286" y2="228.3" stroke="#231f20" stroke-width="0.55"/>
<line x1="292" y1="226.1" x2="292" y2="228.3" stroke="#231f20" stroke-width="0.55"/>
<line x1="298" y1="226.1" x2="298" y2="228.3" stroke="#231f20" stroke-width="0.55"/>
<rect x="187.8" y="225.4" width="4.2" height="3.6" fill="#000"/>
<rect x="246.2" y="225.4" width="4.5" height="3.6" fill="#000"/>
<rect x="276.9" y="225.4" width="12.2" height="3.6" fill="#000"/>
<text x="245.2" y="239" font-size="7.4" text-anchor="middle" font-style="italic" stroke="#231f20" stroke-width="0.15">CNDP2</text>
<text x="400.4" y="146.8" font-size="7.4" text-anchor="end" stroke="#231f20" stroke-width="0.15">SP1 HiChIP</text>
<text x="400.4" y="165.4" font-size="7.4" text-anchor="end" stroke="#231f20" stroke-width="0.15">SP1 ChIP-seq</text>
<text x="395.5" y="178.9" font-size="7.4" text-anchor="end" stroke="#231f20" stroke-width="0.15">ssG4-seq</text>
<text x="400.4" y="188.4" font-size="7.4" text-anchor="end" stroke="#231f20" stroke-width="0.15">Watson strand</text>
<text x="395.5" y="199.3" font-size="7.4" text-anchor="end" stroke="#231f20" stroke-width="0.15">ssG4-seq</text>
<text x="400.4" y="208.7" font-size="7.4" text-anchor="end" stroke="#231f20" stroke-width="0.15">Crick strand</text>
<text x="400.4" y="218.7" font-size="7.4" text-anchor="end" stroke="#231f20" stroke-width="0.15">Variants</text>
<path d="M404.6 152.6L404.6 152.41L405.1 152.38L405.6 152.35L406.1 152.3L406.6 152.27L407.1 152.24L407.6 152.18L408.1 152.15L408.6 152.1L409.1 152.07L409.6 152.01L410.1 151.95L410.6 151.85L411.1 151.61L411.6 151.44L412.1 151L412.6 150.83L413.1 150.59L413.6 150.61L414.1 150.3L414.6 150.18L415.1 150.14L415.6 149.95L416.1 149.49L416.6 148.95L417.1 148.66L417.6 148.29L418.1 148.43L418.6 147.88L419.1 147.76L419.6 146.62L420.1 146.26L420.6 146.19L421.1 146.18L421.6 146.15L422.1 146L422.6 147.09L423.1 146.88L423.6 147.04L424.1 145.25L424.6 145.33L425.1 145.26L425.6 146.08L426.1 145.78L426.6 145.98L427.1 146.86L427.6 146.56L428.1 146.4L428.6 145.65L429.1 145.58L429.6 145.44L430.1 146.01L430.6 146.08L431.1 146.09L431.6 146.4L432.1 146.36L432.6 146.16L433.1 146.02L433.6 146.18L434.1 146.3L434.6 146.59L435.1 146.64L435.6 146.84L436.1 145.87L436.6 146.25L437.1 146.7L437.6 147.55L438.1 147.99L438.6 148.52L439.1 148.47L439.6 148.98L440.1 149.48L440.6 149.96L441.1 150.43L441.6 150.82L442.1 151.35L442.6 151.79L443.1 152.18L443.6 152.23L444.1 152.23L444.6 152.24L445.1 152.25L445.6 152.24L446.1 152.24L446.6 152.17L447.1 152.18L447.6 152.16L448.1 152.19L448.6 152.21L449.1 152.2L449.6 152.16L450.1 152.15L450.6 152.16L451.1 152.21L451.6 152.2L452.1 152.21L452.6 152.2L453.1 152.19L453.6 152.21L454.1 152.17L454.6 152.19L455.1 152.18L455.6 152.18L456.1 152.18L456.6 152.19L457.1 152.2L457.6 152.2L458.1 152.22L458.6 152.26L459.1 152.26L459.6 152.25L460.1 152.23L460.6 152.24L461.1 152.25L461.6 152.2L462.1 152.2L462.6 152.2L463.1 152.24L463.6 152.24L464.1 152.23L464.6 152.21L465.1 152.15L465.6 151.96L466.1 151.72L466.6 151.56L467.1 151.34L467.6 151.38L468.1 151.27L468.6 151.06L469.1 150.79L469.6 150.67L470.1 150.58L470.6 150.32L471.1 150.1L471.6 150.06L472.1 149.79L472.6 149.59L473.1 149.6L473.6 149.3L474.1 149.11L474.6 148.91L475.1 149.12L475.6 149.02L476.1 148.86L476.6 148.94L477.1 148.77L477.6 148.79L478.1 148.17L478.6 148.27L479.1 148.14L479.6 148.12L480.1 148L480.6 147.97L481.1 147.14L481.6 146.78L482.1 146.69L482.6 146.73L483.1 146.58L483.6 146.49L484.1 147.09L484.6 147.04L485.1 146.74L485.6 145.19L486.1 145.19L486.6 145.17L487.1 145.81L487.6 145.65L488.1 145.41L488.6 146.14L489.1 146.04L489.6 145.85L490.1 144.08L490.6 144.31L491.1 144.42L491.6 144.99L492.1 145.22L492.6 145.38L493.1 146.24L493.6 146.59L494.1 146.64L494.6 145.64L495.1 145.93L495.6 147.08L496.1 148.43L496.6 149.12L497.1 149.61L497.6 148.79L498.1 148.11L498.6 147.29L499.1 146.55L499.6 146.29L500.1 145.57L500.6 145.55L501.1 145.11L501.6 144.58L502.1 144.72L502.6 144.41L503.1 144.69L503.6 145.37L504.1 145.68L504.6 145.44L505.1 145.59L505.6 145.74L506.1 145.69L506.6 144.08L507.1 144.09L507.6 144.01L508.1 145.6L508.6 145.45L509.1 145.44L509.6 145.26L510.1 145.64L510.6 145.22L511.1 143.54L511.6 143.8L512.1 143.47L512.6 145.28L513.1 145.05L513.6 145.12L514.1 144.86L514.6 144.93L515.1 144.64L515.6 142.94L516.1 141.99L516.6 140.66L517.1 137.6L517.6 137.7L518.1 137.97L518.6 139.91L519.1 139.74L519.6 140.29L520.1 137.75L520.6 138.01L521.1 138.38L521.6 141.85L522.1 143.26L522.6 143.81L523.1 142.99L523.6 143.48L524.1 143.73L524.6 143.49L525.1 143.68L525.6 143.95L526.1 144.24L526.6 144.46L527.1 144.62L527.6 145.71L528.1 145.88L528.6 146.88L529.1 147.76L529.6 148.35L530.1 148.95L530.6 148.54L531.1 148.34L531.6 148L532.1 147.19L532.6 147.31L533.1 147.29L533.6 146.76L534.1 146.77L534.6 146.64L535.1 146.96L535.6 147.07L536.1 146.8L536.6 147.79L537.1 147.66L537.6 147.58L538.1 147.03L538.6 146.82L539.1 146.86L539.6 147.44L540.1 147.43L540.6 147.41L541.1 146.84L541.6 146.67L542.1 146.64L542.6 146.88L543.1 146.87L543.6 147.08L544.1 146.28L544.6 146.34L545.1 146.61L545.6 147.33L546.1 147.34L546.6 147.31L547.1 147.06L547.6 146.83L548.1 146.85L548.6 146.02L549.1 145.13L549.6 144.71L550.1 144.26L550.6 143.61L551.1 143.17L551.6 143.89L552.1 143.72L552.6 145.8L553.1 146.7L553.6 147.53L554.1 148.15L554.6 148.47L555.1 148.61L555.6 148.45L556.1 148.84L556.6 148.63L557.1 148.73L557.6 147.93L558.1 148.03L558.6 148L559.1 148.45L559.6 148.42L560.1 148.44L560.6 148.38L561.1 148.42L561.6 148.51L562.1 148.8L562.6 148.81L563.1 148.91L563.6 149.37L564.1 149.49L564.6 149.51L565.1 148.93L565.6 148.96L566.1 149.17L566.6 149.63L567.1 149.6L567.6 149.81L568.1 149.8L568.6 150.13L569.1 150.33L569.6 150.37L570.1 150.58L570.6 150.67L571.1 150.8L571.6 150.87L572.1 150.91L572.6 150.91L573.1 150.95L573.6 150.97L574.1 150.78L574.6 150.85L575.1 150.9L575.6 150.92L576.1 150.94L576.6 151.05L577.1 150.99L577.6 151.1L578.1 151.51L578.6 151.98L579.1 152.28L579.6 152.29L580.1 152.29L580.6 152.29L581.1 152.29L581.6 152.3L582.1 152.31L582.6 152.3L583.1 152.31L583.6 152.32L584.1 152.32L584.6 152.34L585.1 152.33L585.6 152.33L586.1 152.32L586.6 152.33L587.1 152.34L587.6 152.28L588.1 152.28L588.6 152.28L589.1 152.26L589.6 152.26L590.1 152.26L590.6 152.31L591.1 152.31L591.6 152.31L592.1 152.3L592.6 152.31L593.1 152.3L593.6 152.34L594.1 152.34L594.6 152.35L595.1 152.29L595.6 152.3L596.1 152.29L596.6 152.32L597.1 152.33L597.6 152.33L598.1 152.33L598.6 152.33L599.1 152.33L599.6 152.28L600.1 152.29L600.6 152.3L601.1 152.3L601.6 152.3L602.1 152.29L602.6 152.32L603.1 152.32L603.6 152.33L604.1 152.32L604.6 152.33L605.1 152.33L605.6 152.29L606.1 152.29L606.6 152.29L607.1 152.34L607.6 152.34L608.1 152.33L608.6 152.31L609.1 152.32L609.6 152.31L610.1 152.26L610.6 152.27L611.1 152.27L611.6 152.27L612.1 152.26L612.6 152.26L613.1 152.28L613.6 152.29L614.1 152.28L614.6 152.28L615.1 152.29L615.6 152.28L616.1 152.34L616.6 152.34L617.1 152.34L617.6 152.27L618.1 152.28L618.6 152.28L619.1 152.33L619.6 152.33L620.1 152.34L620.6 152.3L621.1 152.31L621.6 152.31L622.1 152.29L622.6 152.29L623.1 152.29L623.6 152.33L624.1 152.33L624.6 152.33L625.1 152.3L625.6 152.24L626.1 152.17L626.6 152.13L627.1 152.03L627.6 151.98L628.1 151.78L628.6 151.68L629.1 151.6L629.6 151.49L630.1 151.43L630.6 151.42L631.1 151.41L631.6 151.41L632.1 151.41L632.6 151.45L633.1 151.44L633.6 151.48L634.1 151.3L634.6 151.29L635.1 151.25L635.6 151.22L636.1 151.14L636.6 151.18L636.6 152.6Z" fill="#4d7d97"/>
<path d="M404.6 171.3L404.6 170.95L405.1 170.85L405.6 170.72L406.1 170.77L406.6 170.67L407.1 170.6L407.6 170.36L408.1 170.22L408.6 170.15L409.1 170.1L409.6 170.02L410.1 169.92L410.6 169.9L411.1 169.78L411.6 169.75L412.1 169.9L412.6 169.79L413.1 169.77L413.6 169.41L414.1 169.33L414.6 169.32L415.1 169.4L415.6 169.49L416.1 169.47L416.6 169.72L417.1 169.75L417.6 169.83L418.1 169.93L418.6 169.99L419.1 170.08L419.6 170.13L420.1 170.19L420.6 170.08L421.1 169.89L421.6 169.85L422.1 169.77L422.6 169.58L423.1 169.51L423.6 169.44L424.1 169.68L424.6 169.64L425.1 169.6L425.6 169.35L426.1 169.34L426.6 169.19L427.1 169.38L427.6 169.34L428.1 169.22L428.6 168.86L429.1 168.82L429.6 168.81L430.1 168.8L430.6 168.81L431.1 168.89L431.6 169.28L432.1 169.35L432.6 169.41L433.1 169.25L433.6 169.32L434.1 169.43L434.6 169.41L435.1 169.42L435.6 169.43L436.1 169.41L436.6 169.43L437.1 169.52L437.6 169.74L438.1 169.76L438.6 169.83L439.1 169.9L439.6 169.96L440.1 170.01L440.6 169.81L441.1 169.77L441.6 169.69L442.1 169.99L442.6 169.94L443.1 169.92L443.6 169.77L444.1 169.75L444.6 169.73L445.1 169.67L445.6 169.7L446.1 169.68L446.6 169.52L447.1 169.41L447.6 169.44L448.1 169.37L448.6 169.28L449.1 169.27L449.6 169.11L450.1 169.04L450.6 169.02L451.1 169.27L451.6 169.18L452.1 169.27L452.6 169.07L453.1 169.07L453.6 168.99L454.1 168.65L454.6 168.65L455.1 168.63L455.6 168.96L456.1 168.84L456.6 168.9L457.1 168.33L457.6 168.4L458.1 168.3L458.6 168.57L459.1 168.47L459.6 168.52L460.1 168.37L460.6 168.24L461.1 168.15L461.6 168.19L462.1 168.11L462.6 168.15L463.1 168.41L463.6 168.39L464.1 168.52L464.6 168.35L465.1 168.41L465.6 168.27L466.1 167.84L466.6 167.85L467.1 167.73L467.6 168.17L468.1 168.13L468.6 168.12L469.1 167.73L469.6 167.67L470.1 167.64L470.6 167.69L471.1 167.7L471.6 167.67L472.1 168L472.6 168.01L473.1 168.15L473.6 168.72L474.1 168.7L474.6 168.77L475.1 168.42L475.6 168.6L476.1 168.59L476.6 168.37L477.1 168.44L477.6 168.46L478.1 169.08L478.6 169.16L479.1 169.19L479.6 168.8L480.1 168.85L480.6 168.83L481.1 168.94L481.6 168.94L482.1 169.01L482.6 168.89L483.1 168.94L483.6 168.86L484.1 168.68L484.6 168.66L485.1 168.67L485.6 168.93L486.1 168.93L486.6 168.94L487.1 169.23L487.6 169.31L488.1 169.35L488.6 169.17L489.1 169.13L489.6 169.14L490.1 169.2L490.6 169.17L491.1 169.13L491.6 168.65L492.1 168.56L492.6 168.46L493.1 168.37L493.6 168.37L494.1 168.17L494.6 168.58L495.1 168.54L495.6 168.47L496.1 168.61L496.6 168.58L497.1 168.36L497.6 168.04L498.1 167.91L498.6 167.8L499.1 168.17L499.6 168.07L500.1 168.01L500.6 167.57L501.1 167.56L501.6 167.5L502.1 168.29L502.6 168.24L503.1 168.25L503.6 168L504.1 168.03L504.6 168L505.1 168.1L505.6 168.01L506.1 168.1L506.6 167.67L507.1 167.64L507.6 167.75L508.1 167.14L508.6 167.17L509.1 167.16L509.6 167.22L510.1 167.31L510.6 167.14L511.1 167.19L511.6 166.99L512.1 166.7L512.6 166.57L513.1 166.58L513.6 166.27L514.1 166.03L514.6 165.82L515.1 165.65L515.6 165.86L516.1 165.86L516.6 165.64L517.1 165.79L517.6 165.82L518.1 165.5L518.6 165.28L519.1 165.1L519.6 165.09L520.1 164.73L520.6 164.41L521.1 164.42L521.6 164.31L522.1 163.99L522.6 163.86L523.1 165.05L523.6 164.86L524.1 164.65L524.6 164.78L525.1 164.5L525.6 164.29L526.1 164.4L526.6 164.54L527.1 164.65L527.6 164.63L528.1 164.54L528.6 164.63L529.1 164.46L529.6 164.53L530.1 163.9L530.6 162.15L531.1 161.46L531.6 160.93L532.1 160.75L532.6 161.2L533.1 161.05L533.6 160.82L534.1 160.93L534.6 160.56L535.1 159.01L535.6 158.83L536.1 158.5L536.6 159.69L537.1 159.86L537.6 159.92L538.1 158.91L538.6 159.01L539.1 158.18L539.6 156.05L540.1 155.49L540.6 155.51L541.1 157.34L541.6 156.53L542.1 156.42L542.6 157.09L543.1 157.23L543.6 156.62L544.1 155.33L544.6 155.66L545.1 155.63L545.6 156.5L546.1 156.64L546.6 156.6L547.1 159.48L547.6 160.01L548.1 159.74L548.6 158.9L549.1 159.16L549.6 159.23L550.1 159.58L550.6 159.72L551.1 160.01L551.6 160.01L552.1 160.14L552.6 160.56L553.1 161.57L553.6 162.81L554.1 163.91L554.6 164.41L555.1 165.2L555.6 166.21L556.1 166.23L556.6 167.3L557.1 168.03L557.6 169.06L558.1 169.17L558.6 169.18L559.1 169.63L559.6 169.59L560.1 169.49L560.6 169.1L561.1 169.04L561.6 169.04L562.1 169.34L562.6 169.31L563.1 169.32L563.6 169.01L564.1 168.9L564.6 168.92L565.1 169.01L565.6 169.1L566.1 169.14L566.6 169.36L567.1 169.39L567.6 169.35L568.1 169.25L568.6 169.33L569.1 169.38L569.6 169.4L570.1 169.37L570.6 169.48L571.1 169.56L571.6 169.58L572.1 169.53L572.6 169.26L573.1 169.32L573.6 169.3L574.1 169.55L574.6 169.54L575.1 169.53L575.6 169.82L576.1 169.82L576.6 169.81L577.1 169.61L577.6 169.6L578.1 169.64L578.6 169.62L579.1 169.61L579.6 169.64L580.1 169.81L580.6 169.76L581.1 169.79L581.6 169.57L582.1 169.6L582.6 169.61L583.1 169.54L583.6 169.53L584.1 169.55L584.6 169.61L585.1 169.59L585.6 169.56L586.1 169.74L586.6 169.73L587.1 169.71L587.6 169.92L588.1 169.9L588.6 169.88L589.1 169.83L589.6 169.81L590.1 169.89L590.6 169.9L591.1 169.9L591.6 169.92L592.1 169.97L592.6 169.98L593.1 170.02L593.6 170.01L594.1 170.01L594.6 170.09L595.1 170.13L595.6 170.06L596.1 170.03L596.6 169.85L597.1 169.8L597.6 169.76L598.1 169.65L598.6 169.62L599.1 169.62L599.6 169.62L600.1 169.56L600.6 169.55L601.1 169.59L601.6 169.61L602.1 169.71L602.6 169.77L603.1 169.81L603.6 169.83L604.1 169.62L604.6 169.69L605.1 169.72L605.6 169.89L606.1 169.97L606.6 170.01L607.1 170.11L607.6 170.12L608.1 170.19L608.6 170.05L609.1 170.08L609.6 170.14L610.1 170.28L610.6 170.28L611.1 170.21L611.6 170.13L612.1 170.1L612.6 170.12L613.1 170.1L613.6 170.07L614.1 170.01L614.6 170.11L615.1 170.11L615.6 170.08L616.1 170.12L616.6 170.08L617.1 170.09L617.6 170.11L618.1 170.04L618.6 169.99L619.1 169.74L619.6 169.75L620.1 169.67L620.6 170L621.1 169.97L621.6 169.95L622.1 169.89L622.6 169.94L623.1 169.9L623.6 169.75L624.1 169.75L624.6 169.77L625.1 170.02L625.6 170.03L626.1 170.02L626.6 170.03L627.1 170.06L627.6 170.08L628.1 169.96L628.6 169.99L629.1 170.01L629.6 170.1L630.1 170.1L630.6 170.09L631.1 170.03L631.6 170L632.1 169.94L632.6 169.78L633.1 169.73L633.6 169.72L634.1 169.92L634.6 169.89L635.1 169.84L635.6 169.69L636.1 169.62L636.6 169.58L636.6 171.3Z" fill="#4d7d97"/>
<path d="M404.6 190.4L404.6 190.29L405.1 190.29L405.6 190.29L406.1 190.3L406.6 190.3L407.1 190.3L407.6 190.31L408.1 190.31L408.6 190.31L409.1 190.31L409.6 190.31L410.1 190.31L410.6 190.29L411.1 190.29L411.6 190.3L412.1 190.28L412.6 190.28L413.1 190.28L413.6 190.28L414.1 190.28L414.6 190.28L415.1 190.29L415.6 190.29L416.1 190.29L416.6 190.29L417.1 190.29L417.6 190.29L418.1 190.29L418.6 190.28L419.1 190.28L419.6 190.28L420.1 190.28L420.6 190.28L421.1 190.3L421.6 190.3L422.1 190.3L422.6 190.29L423.1 190.29L423.6 190.29L424.1 190.27L424.6 190.27L425.1 190.27L425.6 190.27L426.1 190.27L426.6 190.27L427.1 190.27L427.6 190.28L428.1 190.27L428.6 190.29L429.1 190.29L429.6 190.29L430.1 190.29L430.6 190.29L431.1 190.29L431.6 190.26L432.1 190.26L432.6 190.26L433.1 190.27L433.6 190.26L434.1 190.27L434.6 190.29L435.1 190.28L435.6 190.29L436.1 190.25L436.6 190.26L437.1 190.26L437.6 190.27L438.1 190.27L438.6 190.27L439.1 190.28L439.6 190.27L440.1 190.28L440.6 190.27L441.1 190.27L441.6 190.27L442.1 190.26L442.6 190.26L443.1 190.26L443.6 190.26L444.1 190.26L444.6 190.26L445.1 190.25L445.6 190.25L446.1 190.25L446.6 190.28L447.1 190.28L447.6 190.28L448.1 190.25L448.6 190.24L449.1 190.25L449.6 190.26L450.1 190.26L450.6 190.26L451.1 190.26L451.6 190.26L452.1 190.26L452.6 190.26L453.1 190.26L453.6 190.26L454.1 190.27L454.6 190.27L455.1 190.27L455.6 190.26L456.1 190.25L456.6 190.26L457.1 190.24L457.6 190.24L458.1 190.24L458.6 190.26L459.1 190.26L459.6 190.26L460.1 190.23L460.6 190.23L461.1 190.23L461.6 190.25L462.1 190.25L462.6 190.24L463.1 190.25L463.6 190.26L464.1 190.26L464.6 190.25L465.1 190.25L465.6 190.25L466.1 190.26L466.6 190.26L467.1 190.26L467.6 190.25L468.1 190.25L468.6 190.26L469.1 190.25L469.6 190.24L470.1 190.24L470.6 190.23L471.1 190.22L471.6 190.23L472.1 190.22L472.6 190.22L473.1 190.21L473.6 190.25L474.1 190.25L474.6 190.24L475.1 190.25L475.6 190.26L476.1 190.25L476.6 190.25L477.1 190.24L477.6 190.24L478.1 190.24L478.6 190.24L479.1 190.25L479.6 190.25L480.1 190.26L480.6 190.25L481.1 190.23L481.6 190.23L482.1 190.23L482.6 190.21L483.1 190.21L483.6 190.21L484.1 190.25L484.6 190.24L485.1 190.25L485.6 190.23L486.1 190.23L486.6 190.23L487.1 190.21L487.6 190.21L488.1 190.21L488.6 190.21L489.1 190.21L489.6 190.21L490.1 190.19L490.6 190.2L491.1 190.2L491.6 190.2L492.1 190.21L492.6 190.21L493.1 190.21L493.6 190.21L494.1 190.21L494.6 190.23L495.1 190.22L495.6 190.22L496.1 190.2L496.6 190.2L497.1 190.2L497.6 190.22L498.1 190.23L498.6 190.23L499.1 190.2L499.6 190.19L500.1 190.2L500.6 190.21L501.1 190.2L501.6 190.2L502.1 190.18L502.6 190.19L503.1 190.19L503.6 190.19L504.1 190.19L504.6 190.2L505.1 190.24L505.6 190.23L506.1 190.23L506.6 190.19L507.1 190.2L507.6 190.2L508.1 190.21L508.6 190.2L509.1 190.2L509.6 190.21L510.1 190.21L510.6 190.2L511.1 190.22L511.6 190.22L512.1 190.22L512.6 190.19L513.1 190.19L513.6 190.19L514.1 190.2L514.6 190.21L515.1 190.2L515.6 190.12L516.1 190.04L516.6 189.98L517.1 189.86L517.6 189.75L518.1 189.68L518.6 189.63L519.1 189.53L519.6 189.44L520.1 189.44L520.6 189.19L521.1 188.99L521.6 189.03L522.1 188.94L522.6 188.78L523.1 188.14L523.6 187.9L524.1 187.64L524.6 187.23L525.1 186.5L525.6 185.72L526.1 184.87L526.6 184.4L527.1 183.44L527.6 182.5L528.1 181.08L528.6 180.36L529.1 180.92L529.6 179.6L530.1 179.16L530.6 176.1L531.1 174.94L531.6 174.66L532.1 176.86L532.6 177.18L533.1 177.8L533.6 179.6L534.1 180.34L534.6 180.64L535.1 179.81L535.6 180.62L536.1 180.87L536.6 182.72L537.1 182.93L537.6 183.14L538.1 181.84L538.6 181.78L539.1 182L539.6 183.93L540.1 183.92L540.6 183.94L541.1 183.45L541.6 183.63L542.1 183.71L542.6 184.15L543.1 184.3L543.6 184.34L544.1 184.1L544.6 184.48L545.1 184.55L545.6 184.66L546.1 184.77L546.6 184.97L547.1 186.19L547.6 186.38L548.1 186.56L548.6 186.07L549.1 186.28L549.6 186.6L550.1 186.96L550.6 186.99L551.1 187.23L551.6 187.44L552.1 187.64L552.6 187.82L553.1 187.46L553.6 187.66L554.1 187.82L554.6 188.23L555.1 188.31L555.6 188.37L556.1 188.37L556.6 188.35L557.1 188.52L557.6 188.44L558.1 188.51L558.6 188.65L559.1 189.02L559.6 189.1L560.1 189.14L560.6 189.07L561.1 189.13L561.6 189.14L562.1 189.24L562.6 189.27L563.1 189.37L563.6 189.14L564.1 189.19L564.6 189.26L565.1 189.3L565.6 189.35L566.1 189.37L566.6 189.37L567.1 189.4L567.6 189.48L568.1 189.65L568.6 189.69L569.1 189.71L569.6 189.71L570.1 189.75L570.6 189.79L571.1 189.87L571.6 189.92L572.1 189.97L572.6 190.02L573.1 190.06L573.6 190.1L574.1 190.15L574.6 190.18L575.1 190.21L575.6 190.17L576.1 190.18L576.6 190.17L577.1 190.22L577.6 190.22L578.1 190.22L578.6 190.18L579.1 190.18L579.6 190.18L580.1 190.23L580.6 190.23L581.1 190.23L581.6 190.18L582.1 190.19L582.6 190.18L583.1 190.19L583.6 190.19L584.1 190.19L584.6 190.21L585.1 190.2L585.6 190.2L586.1 190.21L586.6 190.2L587.1 190.2L587.6 190.21L588.1 190.21L588.6 190.21L589.1 190.24L589.6 190.24L590.1 190.24L590.6 190.24L591.1 190.25L591.6 190.25L592.1 190.22L592.6 190.21L593.1 190.22L593.6 190.21L594.1 190.21L594.6 190.21L595.1 190.24L595.6 190.24L596.1 190.24L596.6 190.22L597.1 190.22L597.6 190.23L598.1 190.24L598.6 190.23L599.1 190.23L599.6 190.22L600.1 190.22L600.6 190.23L601.1 190.22L601.6 190.23L602.1 190.23L602.6 190.23L603.1 190.23L603.6 190.23L604.1 190.24L604.6 190.24L605.1 190.25L605.6 190.25L606.1 190.25L606.6 190.25L607.1 190.24L607.6 190.24L608.1 190.24L608.6 190.28L609.1 190.27L609.6 190.27L610.1 190.27L610.6 190.27L611.1 190.27L611.6 190.26L612.1 190.26L612.6 190.26L613.1 190.28L613.6 190.27L614.1 190.28L614.6 190.26L615.1 190.26L615.6 190.27L616.1 190.27L616.6 190.28L617.1 190.27L617.6 190.28L618.1 190.28L618.6 190.28L619.1 190.26L619.6 190.26L620.1 190.26L620.6 190.29L621.1 190.29L621.6 190.29L622.1 190.29L622.6 190.29L623.1 190.29L623.6 190.28L624.1 190.28L624.6 190.28L625.1 190.3L625.6 190.3L626.1 190.3L626.6 190.28L627.1 190.28L627.6 190.28L628.1 190.29L628.6 190.3L629.1 190.29L629.6 190.27L630.1 190.27L630.6 190.27L631.1 190.28L631.6 190.28L632.1 190.28L632.6 190.28L633.1 190.28L633.6 190.29L634.1 190.28L634.6 190.28L635.1 190.28L635.6 190.31L636.1 190.3L636.6 190.31L636.6 190.4Z" fill="#b4689a"/>
<path d="M404.6 193.2L404.6 193.42L405.1 193.41L405.6 193.42L406.1 193.39L406.6 193.38L407.1 193.39L407.6 193.39L408.1 193.39L408.6 193.39L409.1 193.41L409.6 193.41L410.1 193.4L410.6 193.42L411.1 193.41L411.6 193.41L412.1 193.41L412.6 193.4L413.1 193.4L413.6 193.43L414.1 193.43L414.6 193.43L415.1 193.42L415.6 193.42L416.1 193.43L416.6 193.41L417.1 193.4L417.6 193.4L418.1 193.43L418.6 193.44L419.1 193.44L419.6 193.44L420.1 193.45L420.6 193.45L421.1 193.4L421.6 193.4L422.1 193.4L422.6 193.43L423.1 193.43L423.6 193.42L424.1 193.44L424.6 193.43L425.1 193.43L425.6 193.42L426.1 193.41L426.6 193.42L427.1 193.44L427.6 193.45L428.1 193.44L428.6 193.44L429.1 193.43L429.6 193.43L430.1 193.44L430.6 193.45L431.1 193.44L431.6 193.43L432.1 193.43L432.6 193.43L433.1 193.44L433.6 193.43L434.1 193.45L434.6 193.47L435.1 193.46L435.6 193.46L436.1 193.44L436.6 193.44L437.1 193.44L437.6 193.43L438.1 193.44L438.6 193.44L439.1 193.46L439.6 193.46L440.1 193.47L440.6 193.47L441.1 193.47L441.6 193.48L442.1 193.44L442.6 193.45L443.1 193.44L443.6 193.47L444.1 193.47L444.6 193.48L445.1 193.43L445.6 193.44L446.1 193.43L446.6 193.49L447.1 193.49L447.6 193.49L448.1 193.44L448.6 193.43L449.1 193.44L449.6 193.48L450.1 193.47L450.6 193.48L451.1 193.49L451.6 193.49L452.1 193.49L452.6 193.47L453.1 193.48L453.6 193.48L454.1 193.49L454.6 193.49L455.1 193.49L455.6 193.49L456.1 193.5L456.6 193.5L457.1 193.5L457.6 193.5L458.1 193.5L458.6 193.46L459.1 193.45L459.6 193.46L460.1 193.47L460.6 193.46L461.1 193.46L461.6 193.51L462.1 193.52L462.6 193.5L463.1 193.46L463.6 193.47L464.1 193.48L464.6 193.5L465.1 193.49L465.6 193.5L466.1 193.5L466.6 193.5L467.1 193.51L467.6 193.53L468.1 193.52L468.6 193.52L469.1 193.49L469.6 193.49L470.1 193.51L470.6 193.69L471.1 193.89L471.6 194.05L472.1 194.39L472.6 194.62L473.1 194.75L473.6 194.57L474.1 194.41L474.6 194.29L475.1 194.13L475.6 193.96L476.1 193.8L476.6 193.61L477.1 193.49L477.6 193.49L478.1 193.5L478.6 193.5L479.1 193.51L479.6 193.55L480.1 193.54L480.6 193.54L481.1 193.53L481.6 193.53L482.1 193.52L482.6 193.52L483.1 193.51L483.6 193.51L484.1 193.47L484.6 193.47L485.1 193.47L485.6 193.51L486.1 193.5L486.6 193.51L487.1 193.5L487.6 193.49L488.1 193.5L488.6 193.47L489.1 193.48L489.6 193.46L490.1 193.49L490.6 193.5L491.1 193.5L491.6 193.54L492.1 193.55L492.6 193.54L493.1 193.53L493.6 193.52L494.1 193.53L494.6 193.47L495.1 193.46L495.6 193.47L496.1 193.53L496.6 193.52L497.1 193.52L497.6 193.5L498.1 193.49L498.6 193.49L499.1 193.48L499.6 193.49L500.1 193.49L500.6 193.5L501.1 193.5L501.6 193.49L502.1 193.51L502.6 193.52L503.1 193.5L503.6 193.48L504.1 193.48L504.6 193.48L505.1 193.5L505.6 193.51L506.1 193.51L506.6 193.53L507.1 193.52L507.6 193.52L508.1 193.5L508.6 193.49L509.1 193.49L509.6 193.46L510.1 193.49L510.6 193.6L511.1 193.74L511.6 193.83L512.1 193.97L512.6 194.21L513.1 194.33L513.6 194.42L514.1 194.46L514.6 194.56L515.1 194.71L515.6 195.11L516.1 195.29L516.6 195.43L517.1 195.32L517.6 195.38L518.1 195.6L518.6 196.04L519.1 196.21L519.6 196.7L520.1 196.36L520.6 196.58L521.1 196.82L521.6 197.15L522.1 197.64L522.6 197.9L523.1 198.77L523.6 199.14L524.1 199.44L524.6 200.49L525.1 201.11L525.6 201.7L526.1 201.62L526.6 202L527.1 202.52L527.6 203.65L528.1 204.29L528.6 204.68L529.1 205.42L529.6 205.71L530.1 206.78L530.6 207.56L531.1 207.97L531.6 207.06L532.1 204.81L532.6 204.7L533.1 203.83L533.6 202.24L534.1 200.81L534.6 199.96L535.1 200.92L535.6 200.68L536.1 200.5L536.6 199.41L537.1 199.29L537.6 199.23L538.1 199.05L538.6 198.6L539.1 198.62L539.6 198.3L540.1 197.98L540.6 197.96L541.1 197.91L541.6 197.8L542.1 197.71L542.6 197.79L543.1 197.69L543.6 197.77L544.1 197.53L544.6 197.54L545.1 197.43L545.6 197.42L546.1 197.19L546.6 197.22L547.1 196.88L547.6 196.79L548.1 196.63L548.6 197.03L549.1 196.82L549.6 196.83L550.1 195.99L550.6 196.01L551.1 195.87L551.6 195.81L552.1 195.64L552.6 195.68L553.1 195.9L553.6 195.82L554.1 195.65L554.6 195.86L555.1 195.78L555.6 195.6L556.1 195.18L556.6 195.13L557.1 195.01L557.6 194.93L558.1 194.83L558.6 194.81L559.1 195.13L559.6 195.02L560.1 195.03L560.6 194.89L561.1 194.8L561.6 194.81L562.1 194.49L562.6 194.51L563.1 194.42L563.6 194.31L564.1 194.31L564.6 194.22L565.1 194.27L565.6 194.23L566.1 194.21L566.6 194.09L567.1 194.07L567.6 194.06L568.1 194.25L568.6 194.19L569.1 194.18L569.6 193.97L570.1 193.95L570.6 193.93L571.1 194.07L571.6 194.03L572.1 194.02L572.6 193.89L573.1 193.83L573.6 193.81L574.1 193.76L574.6 193.76L575.1 193.71L575.6 193.82L576.1 193.8L576.6 193.81L577.1 193.83L577.6 193.82L578.1 193.8L578.6 193.74L579.1 193.73L579.6 193.72L580.1 193.75L580.6 193.74L581.1 193.75L581.6 193.67L582.1 193.68L582.6 193.65L583.1 193.63L583.6 193.63L584.1 193.64L584.6 193.75L585.1 193.74L585.6 193.72L586.1 193.7L586.6 193.7L587.1 193.7L587.6 193.66L588.1 193.68L588.6 193.66L589.1 193.65L589.6 193.65L590.1 193.63L590.6 193.61L591.1 193.63L591.6 193.61L592.1 193.6L592.6 193.6L593.1 193.58L593.6 193.53L594.1 193.54L594.6 193.52L595.1 193.52L595.6 193.5L596.1 193.5L596.6 193.57L597.1 193.57L597.6 193.57L598.1 193.48L598.6 193.47L599.1 193.47L599.6 193.52L600.1 193.51L600.6 193.51L601.1 193.48L601.6 193.47L602.1 193.47L602.6 193.48L603.1 193.46L603.6 193.46L604.1 193.52L604.6 193.51L605.1 193.51L605.6 193.5L606.1 193.5L606.6 193.5L607.1 193.47L607.6 193.47L608.1 193.47L608.6 193.48L609.1 193.48L609.6 193.48L610.1 193.48L610.6 193.48L611.1 193.48L611.6 193.45L612.1 193.45L612.6 193.45L613.1 193.46L613.6 193.45L614.1 193.44L614.6 193.47L615.1 193.47L615.6 193.46L616.1 193.46L616.6 193.45L617.1 193.45L617.6 193.42L618.1 193.42L618.6 193.43L619.1 193.42L619.6 193.42L620.1 193.42L620.6 193.42L621.1 193.43L621.6 193.42L622.1 193.45L622.6 193.45L623.1 193.45L623.6 193.45L624.1 193.44L624.6 193.43L625.1 193.42L625.6 193.42L626.1 193.41L626.6 193.44L627.1 193.44L627.6 193.44L628.1 193.41L628.6 193.41L629.1 193.41L629.6 193.43L630.1 193.43L630.6 193.43L631.1 193.43L631.6 193.42L632.1 193.43L632.6 193.42L633.1 193.42L633.6 193.41L634.1 193.4L634.6 193.4L635.1 193.39L635.6 193.38L636.1 193.38L636.6 193.38L636.6 193.2Z" fill="#3f7c4c"/>
<line x1="404.2" y1="152.4" x2="636.7" y2="152.4" stroke="#a6c0cf" stroke-width="0.6"/>
<line x1="404.2" y1="171.1" x2="636.7" y2="171.1" stroke="#a6c0cf" stroke-width="0.6"/>
<line x1="404.2" y1="190.2" x2="636.7" y2="190.2" stroke="#c985b0" stroke-width="0.6"/>
<line x1="404.2" y1="193.4" x2="636.7" y2="193.4" stroke="#9fc3a6" stroke-width="0.6"/>
<line x1="404.2" y1="135.5" x2="404.2" y2="152.6" stroke="#333333" stroke-width="0.7"/>
<line x1="404.2" y1="154.2" x2="404.2" y2="171.3" stroke="#333333" stroke-width="0.7"/>
<line x1="404.2" y1="172.9" x2="404.2" y2="190.4" stroke="#333333" stroke-width="0.7"/>
<line x1="404.2" y1="193.2" x2="404.2" y2="210.3" stroke="#333333" stroke-width="0.7"/>
<text x="405.9" y="140.1" font-size="7.4" stroke="#231f20" stroke-width="0.15">62</text>
<text x="405.9" y="158.9" font-size="7.4" stroke="#231f20" stroke-width="0.15">1.1</text>
<text x="405.9" y="177.8" font-size="7.4" stroke="#231f20" stroke-width="0.15">135</text>
<text x="406.1" y="210.9" font-size="7.4" stroke="#231f20" stroke-width="0.15">135</text>
<line x1="532.3" y1="135.5" x2="532.3" y2="212.5" stroke="#111" stroke-width="0.7" stroke-dasharray="1.1,0.9"/>
<line x1="532.3" y1="212.5" x2="532.3" y2="218.7" stroke="#e2382f" stroke-width="0.8"/>
<text x="535.5" y="218.4" font-size="7.4" stroke="#231f20" stroke-width="0.15">G-&gt;A</text>
<line x1="483.5" y1="227" x2="637" y2="227" stroke="#231f20" stroke-width="0.75"/>
<line x1="500" y1="225.9" x2="500" y2="228.1" stroke="#231f20" stroke-width="0.55"/>
<line x1="505" y1="225.9" x2="505" y2="228.1" stroke="#231f20" stroke-width="0.55"/>
<line x1="510" y1="225.9" x2="510" y2="228.1" stroke="#231f20" stroke-width="0.55"/>
<line x1="515" y1="225.9" x2="515" y2="228.1" stroke="#231f20" stroke-width="0.55"/>
<line x1="520" y1="225.9" x2="520" y2="228.1" stroke="#231f20" stroke-width="0.55"/>
<line x1="525" y1="225.9" x2="525" y2="228.1" stroke="#231f20" stroke-width="0.55"/>
<line x1="556" y1="225.9" x2="556" y2="228.1" stroke="#231f20" stroke-width="0.55"/>
<line x1="562" y1="225.9" x2="562" y2="228.1" stroke="#231f20" stroke-width="0.55"/>
<line x1="568" y1="225.9" x2="568" y2="228.1" stroke="#231f20" stroke-width="0.55"/>
<line x1="574" y1="225.9" x2="574" y2="228.1" stroke="#231f20" stroke-width="0.55"/>
<line x1="580" y1="225.9" x2="580" y2="228.1" stroke="#231f20" stroke-width="0.55"/>
<line x1="586" y1="225.9" x2="586" y2="228.1" stroke="#231f20" stroke-width="0.55"/>
<line x1="592" y1="225.9" x2="592" y2="228.1" stroke="#231f20" stroke-width="0.55"/>
<line x1="598" y1="225.9" x2="598" y2="228.1" stroke="#231f20" stroke-width="0.55"/>
<line x1="604" y1="225.9" x2="604" y2="228.1" stroke="#231f20" stroke-width="0.55"/>
<line x1="610" y1="225.9" x2="610" y2="228.1" stroke="#231f20" stroke-width="0.55"/>
<line x1="616" y1="225.9" x2="616" y2="228.1" stroke="#231f20" stroke-width="0.55"/>
<rect x="483.5" y="225.2" width="12" height="3.6" fill="#000"/>
<rect x="528" y="225.2" width="9.4" height="3.6" fill="#000"/>
<rect x="540.7" y="225.2" width="11.9" height="3.6" fill="#000"/>
<rect x="623.6" y="225.2" width="3" height="3.6" fill="#000"/>
<rect x="632" y="225.2" width="5.2" height="3.6" fill="#000"/>
<text x="512.7" y="238.3" font-size="7.4" text-anchor="middle" font-style="italic" stroke="#231f20" stroke-width="0.15">DMTF1-AS</text>
<text x="585.8" y="238.3" font-size="7.4" text-anchor="middle" font-style="italic" stroke="#231f20" stroke-width="0.15">DMTF1</text>
<text x="65" y="273.2" font-size="7.4" text-anchor="end" stroke="#231f20" stroke-width="0.15">SP1 HiChIP</text>
<text x="65.7" y="292" font-size="7.4" text-anchor="end" stroke="#231f20" stroke-width="0.15">SP1 ChIP-seq</text>
<text x="57.2" y="306.5" font-size="7.4" text-anchor="end" stroke="#231f20" stroke-width="0.15">ssG4-seq</text>
<text x="65" y="315.1" font-size="7.4" text-anchor="end" stroke="#231f20" stroke-width="0.15">Watson strand</text>
<text x="60.6" y="327" font-size="7.4" text-anchor="end" stroke="#231f20" stroke-width="0.15">ssG4-seq</text>
<text x="65" y="335.3" font-size="7.4" text-anchor="end" stroke="#231f20" stroke-width="0.15">Crick strand</text>
<text x="64.4" y="345.5" font-size="7.4" text-anchor="end" stroke="#231f20" stroke-width="0.15">Variants</text>
<path d="M69.7 278.4L69.7 275.92L70.2 275.75L70.7 275.57L71.2 275.44L71.7 275.3L72.2 275.22L72.7 275.49L73.2 275.78L73.7 276.13L74.2 276.1L74.7 276.41L75.2 276.53L75.7 276.86L76.2 276.77L76.7 276.84L77.2 276.8L77.7 276.8L78.2 276.74L78.7 276.82L79.2 276.79L79.7 276.8L80.2 276.41L80.7 276.47L81.2 276.49L81.7 276.48L82.2 276.58L82.7 276.52L83.2 276.52L83.7 276.57L84.2 276.52L84.7 276.65L85.2 276.61L85.7 276.66L86.2 276.98L86.7 276.98L87.2 276.98L87.7 276.67L88.2 276.66L88.7 276.67L89.2 276.54L89.7 276.59L90.2 276.61L90.7 276.73L91.2 276.7L91.7 276.75L92.2 276.86L92.7 276.88L93.2 276.86L93.7 276.93L94.2 276.87L94.7 276.88L95.2 276.49L95.7 276.45L96.2 276.41L96.7 276.66L97.2 276.68L97.7 276.71L98.2 276.78L98.7 276.87L99.2 276.85L99.7 276.67L100.2 276.64L100.7 276.66L101.2 276.52L101.7 276.56L102.2 276.53L102.7 276.42L103.2 276.46L103.7 276.44L104.2 276.6L104.7 276.59L105.2 276.54L105.7 276.25L106.2 276.17L106.7 276.12L107.2 276.46L107.7 276.4L108.2 276.39L108.7 276.51L109.2 276.48L109.7 276.36L110.2 276.44L110.7 276.43L111.2 276.36L111.7 275.75L112.2 275.69L112.7 275.57L113.2 275.57L113.7 275.44L114.2 275.43L114.7 275.44L115.2 275.41L115.7 275.28L116.2 275.37L116.7 275.3L117.2 275.09L117.7 274.73L118.2 274.65L118.7 274.47L119.2 274.83L119.7 274.83L120.2 274.59L120.7 274.46L121.2 274.32L121.7 274.12L122.2 273.12L122.7 273.01L123.2 272.64L123.7 272.39L124.2 272.46L124.7 272.06L125.2 271.71L125.7 271.53L126.2 271.45L126.7 273.12L127.2 273.59L127.7 274.32L128.2 275.15L128.7 275.75L129.2 276.34L129.7 276.91L130.2 276.71L130.7 275.01L131.2 272.88L131.7 271.09L132.2 269.13L132.7 268.85L133.2 267.85L133.7 267.07L134.2 266.54L134.7 266.43L135.2 266.1L135.7 265L136.2 265.21L136.7 264.53L137.2 264.24L137.7 264.37L138.2 265.24L138.7 265.11L139.2 265.78L139.7 266.36L140.2 268.24L140.7 268.86L141.2 269.11L141.7 267.86L142.2 268.38L142.7 268.73L143.2 268.27L143.7 268.5L144.2 268.62L144.7 269.86L145.2 270.02L145.7 270.07L146.2 271.07L146.7 271.6L147.2 271.43L147.7 271.06L148.2 271.05L148.7 271.4L149.2 272.97L149.7 273.1L150.2 273.26L150.7 273.97L151.2 274.4L151.7 274.98L152.2 275.14L152.7 275.73L153.2 276.24L153.7 276.69L154.2 277.02L154.7 277.3L155.2 277.46L155.7 277.79L156.2 277.98L156.7 277.93L157.2 277.89L157.7 277.86L158.2 277.8L158.7 277.75L159.2 277.69L159.7 277.77L160.2 277.74L160.7 277.68L161.2 277.57L161.7 277.57L162.2 277.5L162.7 277.54L163.2 277.24L163.7 276.62L164.2 275.69L164.7 274.95L165.2 274.48L165.7 274.41L166.2 274.15L166.7 273.89L167.2 273.31L167.7 272.96L168.2 272.92L168.7 273.02L169.2 272.8L169.7 272.4L170.2 272.38L170.7 272.22L171.2 271.97L171.7 271.35L172.2 271.22L172.7 271.01L173.2 271.36L173.7 271.52L174.2 271.08L174.7 271.22L175.2 271.3L175.7 270.88L176.2 270.42L176.7 270.53L177.2 270.31L177.7 270.34L178.2 270.53L178.7 270.5L179.2 271.04L179.7 270.92L180.2 271.05L180.7 269.97L181.2 269.66L181.7 269.77L182.2 269.64L182.7 269.32L183.2 269.1L183.7 269.44L184.2 269.27L184.7 269.64L185.2 269.48L185.7 269.68L186.2 269.81L186.7 268.97L187.2 269.44L187.7 269.64L188.2 270.25L188.7 269.94L189.2 270.27L189.7 270.37L190.2 270.44L190.7 270.86L191.2 271.1L191.7 271.06L192.2 271.42L192.7 270.92L193.2 271.37L193.7 271.64L194.2 272.38L194.7 272.78L195.2 273.39L195.7 275.13L196.2 275.78L196.7 276.68L197.2 277.04L197.7 277.39L198.2 277.75L198.7 278.07L199.2 278.29L199.7 278.28L200.2 278.28L200.7 278.28L201.2 278.27L201.7 278.26L202.2 278.25L202.7 278.25L203.2 278.27L203.7 278.27L204.2 278.27L204.7 278.24L205.2 278.25L205.7 278.24L206.2 278.22L206.7 278.22L207.2 278.21L207.7 278.22L208.2 278.01L208.7 277.51L209.2 276.73L209.7 276.13L210.2 275.59L210.7 275.59L211.2 275.49L211.7 275.29L212.2 274.9L212.7 274.85L213.2 274.63L213.7 275.11L214.2 274.89L214.7 274.86L215.2 274.57L215.7 274.46L216.2 274.49L216.7 273.25L217.2 273.16L217.7 273.06L218.2 273.93L218.7 273.85L219.2 273.78L219.7 272.81L220.2 272.58L220.7 272.44L221.2 272.68L221.7 272.67L222.2 272.53L222.7 272.04L223.2 272.25L223.7 271.97L224.2 272.13L224.7 271.95L225.2 272.02L225.7 272.34L226.2 272.3L226.7 272.32L227.2 271.14L227.7 271.17L228.2 271.16L228.7 272.81L229.2 272.69L229.7 272.63L230.2 271.22L230.7 270.78L231.2 270.89L231.7 271.72L232.2 271.39L232.7 271.33L233.2 270.46L233.7 270.67L234.2 270.27L234.7 270.47L235.2 270.56L235.7 270.29L236.2 270.39L236.7 270.78L237.2 270.59L237.7 271.53L238.2 271.63L238.7 271.82L239.2 270.93L239.7 271.02L240.2 271.17L240.7 271.64L241.2 271.79L241.7 271.78L242.2 272.7L242.7 272.73L243.2 273.16L243.7 273.86L244.2 273.98L244.7 274.49L245.2 274.92L245.7 275.42L246.2 275.81L246.7 276.06L247.2 276.44L247.7 276.83L248.2 277.18L248.7 277.47L249.2 277.73L249.7 278.08L250.2 278.23L250.7 278.23L251.2 278.19L251.7 278.19L252.2 278.19L252.7 278.19L253.2 278.2L253.7 278.2L254.2 278.21L254.7 278.22L255.2 278.22L255.7 278.23L256.2 278.23L256.7 278.24L257.2 278.22L257.7 278.22L258.2 278.23L258.7 278.21L259.2 278.22L259.7 278.22L260.2 278.25L260.7 278.25L261.2 278.25L261.7 278.23L262.2 278.24L262.7 278.24L263.2 278.25L263.7 278.25L264.2 278.25L264.7 278.24L265.2 278.24L265.7 278.24L266.2 278.26L266.7 278.27L267.2 278.27L267.7 278.24L268.2 278.25L268.7 278.25L269.2 278.26L269.7 278.26L270.2 278.26L270.7 278.28L271.2 278.29L271.7 278.28L272.2 278.27L272.7 278.27L273.2 278.27L273.7 278.28L274.2 278.28L274.7 278.28L275.2 278.28L275.7 278.29L276.2 278.29L276.7 278.3L277.2 278.3L277.7 278.3L278.2 278.29L278.7 278.29L279.2 278.16L279.7 277.95L280.2 277.69L280.7 277.41L281.2 277.02L281.7 276.78L282.2 276.49L282.7 276.35L283.2 276.22L283.7 276.07L284.2 275.95L284.7 275.79L285.2 275.64L285.7 275.86L286.2 275.84L286.7 275.62L287.2 275.23L287.7 275.15L288.2 275.08L288.7 274.67L289.2 274.48L289.7 274.19L290.2 274.51L290.7 274.28L291.2 274.18L291.7 273.55L292.2 273.35L292.7 273.39L293.2 272.72L293.7 272.7L294.2 272.48L294.7 273.13L295.2 272.61L295.7 272.1L296.2 271.47L296.7 271.15L297.2 270.41L297.7 270.25L298.2 269.4L298.7 268.96L299.2 266.98L299.7 266.36L300.2 265.64L300.7 267.7L301.2 267.47L301.7 266.55L301.7 278.4Z" fill="#4d7d97"/>
<path d="M69.7 298.1L69.7 297.41L70.2 297.4L70.7 297.37L71.2 297.28L71.7 297.31L72.2 297.29L72.7 297.21L73.2 297.18L73.7 297.18L74.2 297.33L74.7 297.29L75.2 297.32L75.7 297.38L76.2 297.37L76.7 297.37L77.2 297.18L77.7 297.18L78.2 297.18L78.7 297.17L79.2 297.16L79.7 297.17L80.2 297.38L80.7 297.37L81.2 297.37L81.7 297.27L82.2 297.31L82.7 297.27L83.2 297.18L83.7 297.18L84.2 297.17L84.7 297.23L85.2 297.22L85.7 297.22L86.2 297.23L86.7 297.25L87.2 297.27L87.7 297.21L88.2 297.23L88.7 297.21L89.2 297.34L89.7 297.31L90.2 297.34L90.7 297.27L91.2 297.27L91.7 297.28L92.2 297.3L92.7 297.32L93.2 297.3L93.7 297.17L94.2 297.18L94.7 297.19L95.2 297.18L95.7 297.2L96.2 297.19L96.7 297.14L97.2 297.11L97.7 297.12L98.2 297.13L98.7 297.14L99.2 297.17L99.7 297.26L100.2 297.26L100.7 297.21L101.2 297.11L101.7 297.12L102.2 297.15L102.7 297.01L103.2 297.04L103.7 297.05L104.2 297.22L104.7 297.21L105.2 297.22L105.7 297.06L106.2 297.1L106.7 297.07L107.2 297.12L107.7 297.09L108.2 297.12L108.7 297.07L109.2 297.02L109.7 297.06L110.2 297.24L110.7 297.25L111.2 297.25L111.7 297.05L112.2 297.07L112.7 297.05L113.2 296.96L113.7 297L114.2 296.99L114.7 297.1L115.2 297.15L115.7 297.1L116.2 297.17L116.7 297.19L117.2 297.19L117.7 296.99L118.2 296.96L118.7 296.96L119.2 297.04L119.7 297.01L120.2 296.98L120.7 297.11L121.2 297.1L121.7 297.05L122.2 296.95L122.7 296.95L123.2 296.92L123.7 297.09L124.2 297.04L124.7 297.06L125.2 297.13L125.7 297.1L126.2 297.08L126.7 297.18L127.2 297.13L127.7 297.12L128.2 297.09L128.7 297.08L129.2 297.08L129.7 297.17L130.2 297.17L130.7 297.17L131.2 297.17L131.7 297.18L132.2 297.13L132.7 297.05L133.2 297.06L133.7 297.1L134.2 297.12L134.7 297.13L135.2 297.12L135.7 297.13L136.2 297.11L136.7 297.13L137.2 297.06L137.7 297.1L138.2 297.05L138.7 296.98L139.2 296.95L139.7 296.97L140.2 296.91L140.7 296.9L141.2 296.82L141.7 296.81L142.2 296.78L142.7 296.79L143.2 296.68L143.7 296.64L144.2 296.61L144.7 296.81L145.2 296.72L145.7 296.73L146.2 296.7L146.7 296.68L147.2 296.66L147.7 296.46L148.2 296.45L148.7 296.4L149.2 296.47L149.7 296.45L150.2 296.44L150.7 296.44L151.2 296.45L151.7 296.5L152.2 296.5L152.7 296.52L153.2 296.47L153.7 296.37L154.2 296.33L154.7 296.34L155.2 296.38L155.7 296.4L156.2 296.46L156.7 296.46L157.2 296.46L157.7 296.43L158.2 296.63L158.7 296.6L159.2 296.69L159.7 296.32L160.2 296.36L160.7 296.33L161.2 296.74L161.7 296.67L162.2 296.72L162.7 296.73L163.2 296.71L163.7 296.71L164.2 296.4L164.7 296.38L165.2 296.4L165.7 296.55L166.2 296.63L166.7 296.58L167.2 296.57L167.7 296.59L168.2 296.55L168.7 296.55L169.2 296.57L169.7 296.55L170.2 296.65L170.7 296.66L171.2 296.69L171.7 296.89L172.2 296.86L172.7 296.92L173.2 296.88L173.7 296.91L174.2 296.92L174.7 296.73L175.2 296.72L175.7 296.78L176.2 296.83L176.7 296.87L177.2 296.9L177.7 297.08L178.2 297.09L178.7 297.13L179.2 296.99L179.7 297.04L180.2 296.98L180.7 296.71L181.2 296.64L181.7 296.51L182.2 296.41L182.7 296.31L183.2 296.24L183.7 296.14L184.2 296.1L184.7 296.02L185.2 296.12L185.7 296.09L186.2 295.88L186.7 295.88L187.2 295.53L187.7 295.1L188.2 294.96L188.7 294.59L189.2 293.82L189.7 293.18L190.2 292.48L190.7 291.66L191.2 291.26L191.7 290.89L192.2 290.2L192.7 289.39L193.2 288.93L193.7 288.31L194.2 287.29L194.7 286.39L195.2 286.11L195.7 286.06L196.2 285.07L196.7 284.78L197.2 281.6L197.7 282.59L198.2 283.42L198.7 286.71L199.2 287.64L199.7 288.69L200.2 290.21L200.7 291.59L201.2 292.87L201.7 293.56L202.2 294.66L202.7 295.75L203.2 296.49L203.7 296.72L204.2 296.97L204.7 297.26L205.2 297.4L205.7 297.36L206.2 297.39L206.7 297.38L207.2 297.41L207.7 297.38L208.2 297.38L208.7 297.41L209.2 297.29L209.7 297.29L210.2 297.31L210.7 297.4L211.2 297.41L211.7 297.41L212.2 297.27L212.7 297.28L213.2 297.28L213.7 297.27L214.2 297.27L214.7 297.31L215.2 297.25L215.7 297.24L216.2 297.25L216.7 297.35L217.2 297.35L217.7 297.36L218.2 297.35L218.7 297.35L219.2 297.34L219.7 297.39L220.2 297.38L220.7 297.39L221.2 297.27L221.7 297.29L222.2 297.3L222.7 297.29L223.2 297.29L223.7 297.26L224.2 297.31L224.7 297.31L225.2 297.29L225.7 297.25L226.2 297.25L226.7 297.28L227.2 297.24L227.7 297.24L228.2 297.23L228.7 297.39L229.2 297.4L229.7 297.36L230.2 297.25L230.7 297.27L231.2 297.26L231.7 297.28L232.2 297.24L232.7 297.25L233.2 297.19L233.7 297.21L234.2 297.22L234.7 297.33L235.2 297.32L235.7 297.34L236.2 297.35L236.7 297.34L237.2 297.37L237.7 297.2L238.2 297.21L238.7 297.21L239.2 297.23L239.7 297.24L240.2 297.25L240.7 297.36L241.2 297.35L241.7 297.33L242.2 297.31L242.7 297.33L243.2 297.32L243.7 297.34L244.2 297.35L244.7 297.35L245.2 297.23L245.7 297.25L246.2 297.22L246.7 297.2L247.2 297.18L247.7 297.19L248.2 297.22L248.7 297.23L249.2 297.26L249.7 297.31L250.2 297.33L250.7 297.3L251.2 297.36L251.7 297.35L252.2 297.33L252.7 297.28L253.2 297.27L253.7 297.26L254.2 297.24L254.7 297.24L255.2 297.23L255.7 297.38L256.2 297.37L256.7 297.38L257.2 297.41L257.7 297.41L258.2 297.4L258.7 297.18L259.2 297.2L259.7 297.21L260.2 297.28L260.7 297.27L261.2 297.25L261.7 297.22L262.2 297.23L262.7 297.23L263.2 297.18L263.7 297.18L264.2 297.18L264.7 297.19L265.2 297.2L265.7 297.19L266.2 297.36L266.7 297.37L267.2 297.38L267.7 297.25L268.2 297.26L268.7 297.27L269.2 297.32L269.7 297.3L270.2 297.32L270.7 297.3L271.2 297.29L271.7 297.27L272.2 297.27L272.7 297.28L273.2 297.23L273.7 297.34L274.2 297.31L274.7 297.3L275.2 297.29L275.7 297.28L276.2 297.29L276.7 297.19L277.2 297.21L277.7 297.19L278.2 297.25L278.7 297.25L279.2 297.23L279.7 297.27L280.2 297.27L280.7 297.26L281.2 297.28L281.7 297.26L282.2 297.27L282.7 297.34L283.2 297.36L283.7 297.35L284.2 297.34L284.7 297.34L285.2 297.31L285.7 297.21L286.2 297.23L286.7 297.21L287.2 297.22L287.7 297.21L288.2 297.19L288.7 297.36L289.2 297.35L289.7 297.36L290.2 297.21L290.7 297.22L291.2 297.21L291.7 297.34L292.2 297.35L292.7 297.33L293.2 297.26L293.7 297.27L294.2 297.29L294.7 297.39L295.2 297.36L295.7 297.38L296.2 297.21L296.7 297.21L297.2 297.22L297.7 297.38L298.2 297.36L298.7 297.34L299.2 297.23L299.7 297.24L300.2 297.22L300.7 297.28L301.2 297.27L301.7 297.26L301.7 298.1Z" fill="#4d7d97"/>
<path d="M69.7 317.5L69.7 316.99L70.2 316.98L70.7 317L71.2 316.97L71.7 316.97L72.2 316.99L72.7 316.98L73.2 316.98L73.7 316.96L74.2 317L74.7 316.98L75.2 316.99L75.7 317.03L76.2 317.03L76.7 317.04L77.2 316.98L77.7 316.99L78.2 316.97L78.7 316.94L79.2 316.93L79.7 316.95L80.2 317.05L80.7 317.07L81.2 317.07L81.7 316.94L82.2 316.96L82.7 316.95L83.2 317.04L83.7 317.05L84.2 317.04L84.7 317.03L85.2 317.04L85.7 317.04L86.2 317.05L86.7 317.06L87.2 317.06L87.7 317.06L88.2 317.06L88.7 317.06L89.2 317.07L89.7 317.07L90.2 317.07L90.7 316.98L91.2 316.98L91.7 316.98L92.2 316.99L92.7 317L93.2 317.01L93.7 317.01L94.2 316.99L94.7 317.01L95.2 316.96L95.7 316.95L96.2 316.95L96.7 317.01L97.2 317.02L97.7 317.04L98.2 317L98.7 317.01L99.2 317.01L99.7 316.98L100.2 316.99L100.7 316.99L101.2 317.01L101.7 316.99L102.2 316.99L102.7 317.02L103.2 317.01L103.7 316.99L104.2 317.04L104.7 317.03L105.2 317.02L105.7 316.99L106.2 316.98L106.7 316.98L107.2 316.92L107.7 316.94L108.2 316.93L108.7 316.93L109.2 316.93L109.7 316.94L110.2 316.99L110.7 316.99L111.2 316.99L111.7 317.05L112.2 317.04L112.7 317.04L113.2 317L113.7 317L114.2 316.98L114.7 317.05L115.2 317.05L115.7 317.06L116.2 316.93L116.7 316.95L117.2 316.92L117.7 317L118.2 317L118.7 317.02L119.2 317.08L119.7 317.06L120.2 317.06L120.7 317.05L121.2 317.04L121.7 317.03L122.2 316.96L122.7 316.95L123.2 316.96L123.7 316.97L124.2 316.97L124.7 316.94L125.2 316.99L125.7 316.99L126.2 316.99L126.7 317.02L127.2 317.02L127.7 317.03L128.2 317.07L128.7 317.07L129.2 317.07L129.7 317.02L130.2 316.95L130.7 316.84L131.2 316.7L131.7 316.6L132.2 316.49L132.7 316.48L133.2 316.36L133.7 316.26L134.2 315.91L134.7 315.64L135.2 315.23L135.7 314.84L136.2 314.4L136.7 314.13L137.2 314.16L137.7 313.63L138.2 314.16L138.7 314.32L139.2 314.77L139.7 315.1L140.2 315.38L140.7 315.88L141.2 316.11L141.7 315.94L142.2 315.97L142.7 316.05L143.2 316.09L143.7 316.1L144.2 316.18L144.7 316.4L145.2 316.47L145.7 316.49L146.2 316.51L146.7 316.54L147.2 316.6L147.7 316.65L148.2 316.68L148.7 316.73L149.2 316.75L149.7 316.8L150.2 316.78L150.7 316.81L151.2 316.77L151.7 316.71L152.2 316.58L152.7 316.54L153.2 316.47L153.7 316.32L154.2 316.26L154.7 316.17L155.2 316.03L155.7 315.99L156.2 315.97L156.7 315.84L157.2 315.66L157.7 315.32L158.2 315.26L158.7 314.91L159.2 314.54L159.7 314.2L160.2 313.91L160.7 313.53L161.2 313.2L161.7 313.53L162.2 313.8L162.7 314.59L163.2 314.92L163.7 315.17L164.2 315.48L164.7 315.83L165.2 316.06L165.7 315.94L166.2 315.94L166.7 315.94L167.2 316.2L167.7 316.2L168.2 316.22L168.7 316.27L169.2 316.3L169.7 316.3L170.2 316.26L170.7 316.25L171.2 316.28L171.7 316.27L172.2 316.33L172.7 316.34L173.2 316.47L173.7 316.5L174.2 316.49L174.7 316.4L175.2 316.3L175.7 316.17L176.2 316.16L176.7 315.94L177.2 315.83L177.7 315.63L178.2 315.48L178.7 315.32L179.2 315.49L179.7 315.35L180.2 315.55L180.7 315.52L181.2 315.72L181.7 316.08L182.2 316.41L182.7 316.67L183.2 316.79L183.7 316.75L184.2 316.74L184.7 316.69L185.2 316.78L185.7 316.76L186.2 316.75L186.7 316.69L187.2 316.66L187.7 316.67L188.2 316.65L188.7 316.65L189.2 316.6L189.7 316.5L190.2 316.5L190.7 316.5L191.2 316.56L191.7 316.55L192.2 316.51L192.7 316.61L193.2 316.59L193.7 316.62L194.2 315.82L194.7 314.14L195.2 312.35L195.7 310.2L196.2 308.08L196.7 306.24L197.2 304.41L197.7 301.99L198.2 300.48L198.7 302.37L199.2 303.09L199.7 304.07L200.2 305.78L200.7 307.84L201.2 310.05L201.7 312.17L202.2 314.43L202.7 315.14L203.2 315.49L203.7 315.86L204.2 316.23L204.7 316.53L205.2 316.72L205.7 316.7L206.2 316.66L206.7 316.66L207.2 316.65L207.7 316.76L208.2 316.73L208.7 316.74L209.2 316.73L209.7 316.71L210.2 316.73L210.7 316.74L211.2 316.7L211.7 316.67L212.2 316.63L212.7 316.66L213.2 316.64L213.7 316.51L214.2 316.51L214.7 316.48L215.2 316.55L215.7 316.54L216.2 316.58L216.7 316.6L217.2 316.59L217.7 316.62L218.2 316.56L218.7 316.58L219.2 316.6L219.7 316.44L220.2 316.43L220.7 316.45L221.2 316.53L221.7 316.51L222.2 316.52L222.7 316.62L223.2 316.59L223.7 316.63L224.2 316.66L224.7 316.68L225.2 316.69L225.7 316.45L226.2 316.48L226.7 316.46L227.2 316.66L227.7 316.63L228.2 316.63L228.7 316.59L229.2 316.61L229.7 316.63L230.2 316.6L230.7 316.6L231.2 316.61L231.7 316.48L232.2 316.46L232.7 316.46L233.2 316.48L233.7 316.48L234.2 316.51L234.7 316.64L235.2 316.67L235.7 316.66L236.2 316.67L236.7 316.67L237.2 316.65L237.7 316.7L238.2 316.66L238.7 316.66L239.2 316.7L239.7 316.73L240.2 316.73L240.7 316.72L241.2 316.73L241.7 316.72L242.2 316.61L242.7 316.6L243.2 316.62L243.7 316.75L244.2 316.71L244.7 316.72L245.2 316.62L245.7 316.63L246.2 316.65L246.7 316.76L247.2 316.74L247.7 316.74L248.2 316.83L248.7 316.81L249.2 316.79L249.7 316.6L250.2 316.64L250.7 316.63L251.2 316.65L251.7 316.66L252.2 316.63L252.7 316.82L253.2 316.81L253.7 316.82L254.2 316.65L254.7 316.64L255.2 316.63L255.7 316.82L256.2 316.79L256.7 316.83L257.2 316.67L257.7 316.7L258.2 316.67L258.7 316.71L259.2 316.67L259.7 316.68L260.2 316.78L260.7 316.75L261.2 316.77L261.7 316.74L262.2 316.72L262.7 316.71L263.2 316.74L263.7 316.74L264.2 316.74L264.7 316.77L265.2 316.78L265.7 316.82L266.2 316.79L266.7 316.76L267.2 316.78L267.7 316.71L268.2 316.71L268.7 316.75L269.2 316.88L269.7 316.9L270.2 316.89L270.7 316.83L271.2 316.82L271.7 316.84L272.2 316.83L272.7 316.83L273.2 316.85L273.7 316.84L274.2 316.84L274.7 316.83L275.2 316.85L275.7 316.86L276.2 316.88L276.7 316.85L277.2 316.84L277.7 316.87L278.2 316.8L278.7 316.81L279.2 316.81L279.7 316.91L280.2 316.89L280.7 316.91L281.2 316.82L281.7 316.82L282.2 316.8L282.7 316.81L283.2 316.84L283.7 316.85L284.2 316.87L284.7 316.88L285.2 316.89L285.7 316.94L286.2 316.93L286.7 316.92L287.2 316.96L287.7 316.97L288.2 316.96L288.7 316.83L289.2 316.86L289.7 316.84L290.2 316.89L290.7 316.91L291.2 316.89L291.7 316.91L292.2 316.92L292.7 316.92L293.2 317.01L293.7 317.01L294.2 317.03L294.7 316.9L295.2 316.92L295.7 316.93L296.2 316.94L296.7 316.96L297.2 316.95L297.7 316.91L298.2 316.9L298.7 316.93L299.2 316.96L299.7 316.98L300.2 316.98L300.7 317.03L301.2 317.03L301.7 317.03L301.7 317.5Z" fill="#b4689a"/>
<path d="M69.7 321.4L69.7 321.7L70.2 321.71L70.7 321.71L71.2 321.73L71.7 321.74L72.2 321.73L72.7 321.68L73.2 321.68L73.7 321.68L74.2 321.68L74.7 321.69L75.2 321.69L75.7 321.66L76.2 321.66L76.7 321.67L77.2 321.73L77.7 321.74L78.2 321.73L78.7 321.71L79.2 321.71L79.7 321.71L80.2 321.7L80.7 321.7L81.2 321.7L81.7 321.69L82.2 321.7L82.7 321.7L83.2 321.73L83.7 321.72L84.2 321.71L84.7 321.69L85.2 321.69L85.7 321.68L86.2 321.72L86.7 321.73L87.2 321.72L87.7 321.73L88.2 321.72L88.7 321.72L89.2 321.66L89.7 321.66L90.2 321.67L90.7 321.66L91.2 321.66L91.7 321.66L92.2 321.69L92.7 321.7L93.2 321.69L93.7 321.71L94.2 321.71L94.7 321.71L95.2 321.72L95.7 321.7L96.2 321.71L96.7 321.68L97.2 321.69L97.7 321.69L98.2 321.68L98.7 321.68L99.2 321.69L99.7 321.71L100.2 321.71L100.7 321.7L101.2 321.68L101.7 321.69L102.2 321.69L102.7 321.71L103.2 321.7L103.7 321.71L104.2 321.74L104.7 321.75L105.2 321.75L105.7 321.69L106.2 321.7L106.7 321.68L107.2 321.7L107.7 321.7L108.2 321.69L108.7 321.72L109.2 321.73L109.7 321.73L110.2 321.73L110.7 321.73L111.2 321.73L111.7 321.69L112.2 321.69L112.7 321.69L113.2 321.67L113.7 321.68L114.2 321.67L114.7 321.75L115.2 321.74L115.7 321.74L116.2 321.74L116.7 321.73L117.2 321.73L117.7 321.72L118.2 321.71L118.7 321.72L119.2 321.72L119.7 321.72L120.2 321.71L120.7 321.74L121.2 321.73L121.7 321.74L122.2 321.68L122.7 321.68L123.2 321.69L123.7 321.73L124.2 321.74L124.7 321.73L125.2 321.74L125.7 321.74L126.2 321.72L126.7 321.68L127.2 321.68L127.7 321.68L128.2 321.66L128.7 321.67L129.2 321.67L129.7 321.74L130.2 321.78L130.7 321.89L131.2 321.93L131.7 322.02L132.2 322.12L132.7 322.14L133.2 322.26L133.7 322.35L134.2 322.72L134.7 323.23L135.2 323.62L135.7 323.99L136.2 324.47L136.7 324.81L137.2 324.68L137.7 324.98L138.2 324.59L138.7 324.36L139.2 323.93L139.7 323.45L140.2 323.27L140.7 322.88L141.2 322.53L141.7 322.46L142.2 322.46L142.7 322.41L143.2 322.31L143.7 322.27L144.2 322.22L144.7 322.37L145.2 322.33L145.7 322.3L146.2 322.16L146.7 322.13L147.2 322.14L147.7 322.07L148.2 322.06L148.7 322.01L149.2 322.12L149.7 322.08L150.2 322.15L150.7 322.23L151.2 322.4L151.7 322.58L152.2 322.57L152.7 322.75L153.2 322.83L153.7 322.95L154.2 323.13L154.7 323.26L155.2 323.47L155.7 323.84L156.2 324.34L156.7 325.04L157.2 325.3L157.7 325.93L158.2 326.4L158.7 326.91L159.2 327.1L159.7 327.46L160.2 327.38L160.7 327.04L161.2 325.65L161.7 325.03L162.2 324.66L162.7 324.11L163.2 323.68L163.7 323.11L164.2 323.02L164.7 322.94L165.2 322.84L165.7 322.61L166.2 322.58L166.7 322.46L167.2 322.55L167.7 322.46L168.2 322.37L168.7 322.32L169.2 322.22L169.7 322.11L170.2 321.92L170.7 321.93L171.2 321.93L171.7 321.92L172.2 321.91L172.7 321.91L173.2 321.94L173.7 321.94L174.2 321.94L174.7 321.92L175.2 321.95L175.7 321.94L176.2 322.07L176.7 322.09L177.2 322.06L177.7 321.94L178.2 321.94L178.7 321.92L179.2 322.01L179.7 322L180.2 321.99L180.7 321.99L181.2 322.01L181.7 321.98L182.2 322L182.7 322L183.2 321.99L183.7 321.96L184.2 321.96L184.7 321.96L185.2 322.1L185.7 322.08L186.2 322.1L186.7 322.04L187.2 322.02L187.7 322.05L188.2 322.02L188.7 322.01L189.2 322.03L189.7 322.02L190.2 322.02L190.7 322.04L191.2 321.94L191.7 321.96L192.2 321.95L192.7 322.01L193.2 322.04L193.7 322.04L194.2 322.68L194.7 324.24L195.2 325.78L195.7 327.53L196.2 328.96L196.7 331L197.2 333.68L197.7 335.41L198.2 337.5L198.7 333.88L199.2 332.75L199.7 332.23L200.2 330.74L200.7 328.83L201.2 326.8L201.7 324.94L202.2 323.15L202.7 322.7L203.2 322.78L203.7 322.57L204.2 322.39L204.7 322.15L205.2 322.02L205.7 322.03L206.2 322.03L206.7 322.01L207.2 322.01L207.7 321.98L208.2 321.96L208.7 321.98L209.2 322L209.7 321.98L210.2 322.01L210.7 321.98L211.2 321.98L211.7 322L212.2 322.07L212.7 322.07L213.2 322.05L213.7 322.07L214.2 322.07L214.7 322.07L215.2 321.91L215.7 321.91L216.2 321.94L216.7 321.96L217.2 321.98L217.7 321.99L218.2 321.93L218.7 321.92L219.2 321.93L219.7 321.93L220.2 321.94L220.7 321.94L221.2 322.04L221.7 322.06L222.2 322.04L222.7 321.95L223.2 321.94L223.7 321.95L224.2 322.02L224.7 322.03L225.2 322.01L225.7 321.92L226.2 321.93L226.7 321.92L227.2 321.88L227.7 321.9L228.2 321.89L228.7 321.96L229.2 321.98L229.7 321.97L230.2 321.91L230.7 321.92L231.2 321.92L231.7 321.92L232.2 321.92L232.7 321.91L233.2 321.89L233.7 321.89L234.2 321.91L234.7 321.88L235.2 321.86L235.7 321.85L236.2 321.92L236.7 321.91L237.2 321.93L237.7 321.98L238.2 321.96L238.7 321.97L239.2 322L239.7 322L240.2 321.98L240.7 321.96L241.2 321.96L241.7 321.95L242.2 321.84L242.7 321.84L243.2 321.85L243.7 321.91L244.2 321.92L244.7 321.9L245.2 321.92L245.7 321.9L246.2 321.93L246.7 321.92L247.2 321.94L247.7 321.93L248.2 321.95L248.7 321.94L249.2 321.92L249.7 321.94L250.2 321.92L250.7 321.92L251.2 321.93L251.7 321.93L252.2 321.95L252.7 321.97L253.2 321.97L253.7 321.97L254.2 321.87L254.7 321.89L255.2 321.87L255.7 321.91L256.2 321.91L256.7 321.9L257.2 321.85L257.7 321.87L258.2 321.84L258.7 321.88L259.2 321.88L259.7 321.89L260.2 321.86L260.7 321.87L261.2 321.88L261.7 321.91L262.2 321.91L262.7 321.92L263.2 321.9L263.7 321.91L264.2 321.91L264.7 321.9L265.2 321.9L265.7 321.92L266.2 321.88L266.7 321.88L267.2 321.86L267.7 321.87L268.2 321.88L268.7 321.86L269.2 321.82L269.7 321.8L270.2 321.8L270.7 321.89L271.2 321.87L271.7 321.89L272.2 321.86L272.7 321.84L273.2 321.86L273.7 321.82L274.2 321.8L274.7 321.82L275.2 321.85L275.7 321.84L276.2 321.85L276.7 321.86L277.2 321.86L277.7 321.86L278.2 321.84L278.7 321.83L279.2 321.83L279.7 321.91L280.2 321.9L280.7 321.9L281.2 321.85L281.7 321.85L282.2 321.86L282.7 321.9L283.2 321.88L283.7 321.88L284.2 321.85L284.7 321.85L285.2 321.85L285.7 321.88L286.2 321.88L286.7 321.89L287.2 321.84L287.7 321.83L288.2 321.82L288.7 321.77L289.2 321.78L289.7 321.78L290.2 321.86L290.7 321.87L291.2 321.87L291.7 321.76L292.2 321.76L292.7 321.76L293.2 321.84L293.7 321.84L294.2 321.82L294.7 321.84L295.2 321.85L295.7 321.83L296.2 321.86L296.7 321.86L297.2 321.84L297.7 321.84L298.2 321.84L298.7 321.84L299.2 321.83L299.7 321.83L300.2 321.81L300.7 321.82L301.2 321.83L301.7 321.81L301.7 321.4Z" fill="#3f7c4c"/>
<line x1="69.3" y1="278.2" x2="302" y2="278.2" stroke="#a6c0cf" stroke-width="0.6"/>
<line x1="69.3" y1="297.9" x2="302" y2="297.9" stroke="#a6c0cf" stroke-width="0.6"/>
<line x1="69.3" y1="317.3" x2="302" y2="317.3" stroke="#c985b0" stroke-width="0.6"/>
<line x1="69.3" y1="321.6" x2="302" y2="321.6" stroke="#9fc3a6" stroke-width="0.6"/>
<line x1="69.3" y1="262.3" x2="69.3" y2="278.4" stroke="#333333" stroke-width="0.7"/>
<line x1="69.3" y1="281" x2="69.3" y2="298.1" stroke="#333333" stroke-width="0.7"/>
<line x1="69.3" y1="300.3" x2="69.3" y2="317.5" stroke="#333333" stroke-width="0.7"/>
<line x1="69.3" y1="321.4" x2="69.3" y2="338.2" stroke="#333333" stroke-width="0.7"/>
<text x="71" y="266.9" font-size="7.4" stroke="#231f20" stroke-width="0.15">75</text>
<text x="71" y="285.7" font-size="7.4" stroke="#231f20" stroke-width="0.15">1.8</text>
<text x="71" y="305.2" font-size="7.4" stroke="#231f20" stroke-width="0.15">80</text>
<text x="71.2" y="341" font-size="7.4" stroke="#231f20" stroke-width="0.15">80</text>
<line x1="201.6" y1="262.3" x2="201.6" y2="341.5" stroke="#111" stroke-width="0.7" stroke-dasharray="1.1,0.9"/>
<line x1="201.6" y1="341.5" x2="201.6" y2="347.7" stroke="#e2382f" stroke-width="0.8"/>
<text x="204" y="347.4" font-size="7.4" stroke="#231f20" stroke-width="0.15">G-&gt;A</text>
<line x1="69.2" y1="355.3" x2="195.3" y2="355.3" stroke="#231f20" stroke-width="0.75"/>
<line x1="74" y1="354.2" x2="74" y2="356.4" stroke="#231f20" stroke-width="0.55"/>
<line x1="80" y1="354.2" x2="80" y2="356.4" stroke="#231f20" stroke-width="0.55"/>
<line x1="86" y1="354.2" x2="86" y2="356.4" stroke="#231f20" stroke-width="0.55"/>
<line x1="92" y1="354.2" x2="92" y2="356.4" stroke="#231f20" stroke-width="0.55"/>
<line x1="98" y1="354.2" x2="98" y2="356.4" stroke="#231f20" stroke-width="0.55"/>
<line x1="104" y1="354.2" x2="104" y2="356.4" stroke="#231f20" stroke-width="0.55"/>
<line x1="110" y1="354.2" x2="110" y2="356.4" stroke="#231f20" stroke-width="0.55"/>
<line x1="116" y1="354.2" x2="116" y2="356.4" stroke="#231f20" stroke-width="0.55"/>
<line x1="122" y1="354.2" x2="122" y2="356.4" stroke="#231f20" stroke-width="0.55"/>
<line x1="128" y1="354.2" x2="128" y2="356.4" stroke="#231f20" stroke-width="0.55"/>
<line x1="134" y1="354.2" x2="134" y2="356.4" stroke="#231f20" stroke-width="0.55"/>
<line x1="140" y1="354.2" x2="140" y2="356.4" stroke="#231f20" stroke-width="0.55"/>
<line x1="146" y1="354.2" x2="146" y2="356.4" stroke="#231f20" stroke-width="0.55"/>
<line x1="152" y1="354.2" x2="152" y2="356.4" stroke="#231f20" stroke-width="0.55"/>
<line x1="158" y1="354.2" x2="158" y2="356.4" stroke="#231f20" stroke-width="0.55"/>
<line x1="164" y1="354.2" x2="164" y2="356.4" stroke="#231f20" stroke-width="0.55"/>
<line x1="170" y1="354.2" x2="170" y2="356.4" stroke="#231f20" stroke-width="0.55"/>
<line x1="176" y1="354.2" x2="176" y2="356.4" stroke="#231f20" stroke-width="0.55"/>
<line x1="182" y1="354.2" x2="182" y2="356.4" stroke="#231f20" stroke-width="0.55"/>
<line x1="188" y1="354.2" x2="188" y2="356.4" stroke="#231f20" stroke-width="0.55"/>
<rect x="103.3" y="352.3" width="4.7" height="6" fill="#000"/>
<rect x="148.3" y="352.9" width="3.7" height="4.8" fill="#000"/>
<rect x="186.7" y="353.8" width="2.1" height="3" fill="#000"/>
<rect x="193.9" y="353.3" width="1.4" height="4" fill="#000"/>
<text x="128.5" y="367" font-size="7.4" text-anchor="middle" font-style="italic" stroke="#231f20" stroke-width="0.15">SIRT6</text>
<line x1="218.6" y1="355.3" x2="300.4" y2="355.3" stroke="#231f20" stroke-width="0.75"/>
<line x1="225" y1="354.2" x2="225" y2="356.4" stroke="#231f20" stroke-width="0.55"/>
<line x1="231" y1="354.2" x2="231" y2="356.4" stroke="#231f20" stroke-width="0.55"/>
<line x1="237" y1="354.2" x2="237" y2="356.4" stroke="#231f20" stroke-width="0.55"/>
<line x1="243" y1="354.2" x2="243" y2="356.4" stroke="#231f20" stroke-width="0.55"/>
<line x1="249" y1="354.2" x2="249" y2="356.4" stroke="#231f20" stroke-width="0.55"/>
<line x1="255" y1="354.2" x2="255" y2="356.4" stroke="#231f20" stroke-width="0.55"/>
<line x1="261" y1="354.2" x2="261" y2="356.4" stroke="#231f20" stroke-width="0.55"/>
<line x1="267" y1="354.2" x2="267" y2="356.4" stroke="#231f20" stroke-width="0.55"/>
<line x1="273" y1="354.2" x2="273" y2="356.4" stroke="#231f20" stroke-width="0.55"/>
<line x1="279" y1="354.2" x2="279" y2="356.4" stroke="#231f20" stroke-width="0.55"/>
<line x1="285" y1="354.2" x2="285" y2="356.4" stroke="#231f20" stroke-width="0.55"/>
<line x1="291" y1="354.2" x2="291" y2="356.4" stroke="#231f20" stroke-width="0.55"/>
<rect x="217.6" y="353.8" width="2.6" height="3" fill="#000"/>
<rect x="295.2" y="353.3" width="5.2" height="4" fill="#000"/>
<text x="261.5" y="367" font-size="7.4" text-anchor="middle" font-style="italic" stroke="#231f20" stroke-width="0.15">AMKRD24</text>
<text x="400.4" y="274.6" font-size="7.4" text-anchor="end" stroke="#231f20" stroke-width="0.15">SP1 HiChIP</text>
<text x="400.4" y="293.6" font-size="7.4" text-anchor="end" stroke="#231f20" stroke-width="0.15">SP1 ChIP-seq</text>
<text x="395.5" y="307.8" font-size="7.4" text-anchor="end" stroke="#231f20" stroke-width="0.15">ssG4-seq</text>
<text x="400.4" y="316" font-size="7.4" text-anchor="end" stroke="#231f20" stroke-width="0.15">atson strand</text>
<text x="395.5" y="327.7" font-size="7.4" text-anchor="end" stroke="#231f20" stroke-width="0.15">ssG4-seq</text>
<text x="400.4" y="336.6" font-size="7.4" text-anchor="end" stroke="#231f20" stroke-width="0.15">Crick strand</text>
<text x="399.5" y="346.8" font-size="7.4" text-anchor="end" stroke="#231f20" stroke-width="0.15">Variants</text>
<path d="M404.6 279.5L404.6 278.54L405.1 278.47L405.6 278.35L406.1 278.23L406.6 278.16L407.1 278.1L407.6 277.95L408.1 277.85L408.6 277.78L409.1 277.68L409.6 277.63L410.1 277.57L410.6 277.62L411.1 277.57L411.6 277.57L412.1 277.89L412.6 277.97L413.1 277.88L413.6 277.56L414.1 277.5L414.6 277.5L415.1 277.87L415.6 277.93L416.1 277.84L416.6 277.55L417.1 277.71L417.6 277.96L418.1 278.24L418.6 278.54L419.1 278.78L419.6 279.05L420.1 279.28L420.6 279.28L421.1 279.3L421.6 279.31L422.1 279.31L422.6 279.33L423.1 279.33L423.6 279.32L424.1 279.3L424.6 279.3L425.1 279.3L425.6 279.29L426.1 279.3L426.6 279.3L427.1 279.32L427.6 279.32L428.1 279.32L428.6 279.32L429.1 279.33L429.6 279.32L430.1 279.29L430.6 279.29L431.1 279.29L431.6 279.27L432.1 279.28L432.6 279.28L433.1 279.28L433.6 279.29L434.1 279.29L434.6 279.28L435.1 279.28L435.6 279.27L436.1 279.31L436.6 279.31L437.1 279.31L437.6 279.3L438.1 279.3L438.6 279.3L439.1 279.32L439.6 279.32L440.1 279.31L440.6 279.26L441.1 279.23L441.6 279.19L442.1 279.21L442.6 279.18L443.1 279.15L443.6 279.12L444.1 279.1L444.6 279.07L445.1 278.99L445.6 278.96L446.1 278.95L446.6 278.92L447.1 278.89L447.6 278.86L448.1 278.89L448.6 278.88L449.1 278.88L449.6 278.83L450.1 278.84L450.6 278.81L451.1 278.83L451.6 278.8L452.1 278.77L452.6 278.73L453.1 278.72L453.6 278.67L454.1 278.72L454.6 278.7L455.1 278.72L455.6 278.71L456.1 278.67L456.6 278.66L457.1 278.74L457.6 278.72L458.1 278.73L458.6 278.72L459.1 278.72L459.6 278.69L460.1 278.47L460.6 278.5L461.1 278.45L461.6 278.5L462.1 278.53L462.6 278.48L463.1 278.61L463.6 278.63L464.1 278.62L464.6 278.58L465.1 278.61L465.6 278.57L466.1 278.5L466.6 278.46L467.1 278.46L467.6 278.58L468.1 278.6L468.6 278.61L469.1 278.34L469.6 278.35L470.1 278.35L470.6 278.39L471.1 278.37L471.6 278.36L472.1 278.31L472.6 278.32L473.1 278.3L473.6 278.26L474.1 278.24L474.6 278.21L475.1 278.22L475.6 278.24L476.1 278.2L476.6 278.28L477.1 278.25L477.6 278.26L478.1 277.99L478.6 277.93L479.1 277.97L479.6 278.08L480.1 278.01L480.6 278.04L481.1 278.1L481.6 277.99L482.1 278.01L482.6 277.62L483.1 277.52L483.6 277.54L484.1 277.41L484.6 277.38L485.1 277.36L485.6 277.29L486.1 277.24L486.6 277.27L487.1 277.19L487.6 277.2L488.1 277.18L488.6 277.07L489.1 277.02L489.6 276.93L490.1 277.21L490.6 276.99L491.1 276.86L491.6 276.84L492.1 276.66L492.6 276.63L493.1 275.89L493.6 275.76L494.1 275.66L494.6 275.63L495.1 275.48L495.6 275.17L496.1 275.66L496.6 275.32L497.1 275.13L497.6 275.13L498.1 274.97L498.6 274.79L499.1 275.12L499.6 275.14L500.1 274.81L500.6 274.09L501.1 274.12L501.6 273.93L502.1 274.58L502.6 274.44L503.1 274.3L503.6 273.94L504.1 273.95L504.6 273.66L505.1 272.01L505.6 272.06L506.1 271.88L506.6 272.41L507.1 272.44L507.6 272.55L508.1 271.88L508.6 271.88L509.1 271.88L509.6 271.89L510.1 271.84L510.6 271.88L511.1 273.32L511.6 273.44L512.1 273.47L512.6 272.73L513.1 272.83L513.6 272.59L514.1 272.44L514.6 272.09L515.1 272.1L515.6 271.77L516.1 272.64L516.6 273.63L517.1 274.5L517.6 272.31L518.1 270.12L518.6 267.71L519.1 265.6L519.6 265.08L520.1 265.43L520.6 267.18L521.1 268.29L521.6 268.38L522.1 268.44L522.6 269.03L523.1 268.45L523.6 268.4L524.1 269.1L524.6 269.3L525.1 269.54L525.6 270.02L526.1 269.61L526.6 269.57L527.1 269.81L527.6 271.03L528.1 270.84L528.6 270.7L529.1 270.22L529.6 270.57L530.1 270.17L530.6 271.23L531.1 271.69L531.6 271.67L532.1 270.26L532.6 271.04L533.1 271.44L533.6 272.8L534.1 273.27L534.6 273.78L535.1 274.18L535.6 274.66L536.1 275L536.6 275.28L537.1 275.23L537.6 275.44L538.1 275.71L538.6 275.79L539.1 275.79L539.6 274.83L540.1 274.92L540.6 274.95L541.1 275.85L541.6 275.95L542.1 275.95L542.6 275.98L543.1 276L543.6 275.91L544.1 275.71L544.6 275.84L545.1 275.84L545.6 275.77L546.1 275.75L546.6 275.87L547.1 276.15L547.6 276.21L548.1 276.19L548.6 276.38L549.1 276.26L549.6 276.48L550.1 276.45L550.6 276.46L551.1 276.43L551.6 276.11L552.1 276.1L552.6 276.12L553.1 276.8L553.6 276.83L554.1 276.8L554.6 276.82L555.1 276.98L555.6 276.94L556.1 276.84L556.6 276.84L557.1 276.81L557.6 277.13L558.1 277.11L558.6 277.14L559.1 277.15L559.6 277.12L560.1 277.2L560.6 277.24L561.1 277.19L561.6 277.26L562.1 277.15L562.6 277.24L563.1 277.23L563.6 277.43L564.1 277.41L564.6 277.43L565.1 277.14L565.6 277.08L566.1 277.07L566.6 277.28L567.1 277.26L567.6 277.27L568.1 277.4L568.6 277.47L569.1 277.41L569.6 277.13L570.1 277.14L570.6 277.17L571.1 277.39L571.6 277.39L572.1 277.39L572.6 276.74L573.1 276.75L573.6 276.72L574.1 277.31L574.6 277.38L575.1 277.3L575.6 276.94L576.1 277.01L576.6 276.93L577.1 276.65L577.6 276.68L578.1 276.76L578.6 276.87L579.1 276.75L579.6 276.88L580.1 277.35L580.6 277.41L581.1 277.28L581.6 276.75L582.1 276.66L582.6 276.75L583.1 276.86L583.6 276.75L584.1 276.82L584.6 277.23L585.1 277.3L585.6 277.3L586.1 277.06L586.6 277L587.1 277.08L587.6 277.21L588.1 277.25L588.6 277.12L589.1 276.98L589.6 276.91L590.1 276.92L590.6 277L591.1 276.95L591.6 276.94L592.1 276.98L592.6 276.94L593.1 276.92L593.6 276.81L594.1 276.82L594.6 276.89L595.1 277.45L595.6 277.4L596.1 277.47L596.6 276.95L597.1 277.01L597.6 276.98L598.1 277L598.6 276.92L599.1 276.91L599.6 276.89L600.1 276.85L600.6 276.83L601.1 277.27L601.6 277.28L602.1 277.25L602.6 277.3L603.1 277.25L603.6 278.12L604.1 279.27L604.6 279.28L605.1 279.27L605.6 279.28L606.1 279.28L606.6 279.29L607.1 279.3L607.6 279.3L608.1 279.29L608.6 279.31L609.1 279.31L609.6 279.32L610.1 279.29L610.6 279.29L611.1 279.3L611.6 279.27L612.1 279.28L612.6 279.27L613.1 279.28L613.6 279.28L614.1 279.28L614.6 279.3L615.1 279.3L615.6 279.3L616.1 279.31L616.6 279.32L617.1 279.31L617.6 279.3L618.1 279.3L618.6 279.3L619.1 279.3L619.6 279.3L620.1 279.3L620.6 279.28L621.1 279.29L621.6 279.28L622.1 279.29L622.6 279.3L623.1 279.29L623.6 279.29L624.1 279.29L624.6 279.29L625.1 279.32L625.6 279.33L626.1 279.33L626.6 279.32L627.1 279.32L627.6 279.32L628.1 279.28L628.6 279.27L629.1 279.28L629.6 279.32L630.1 279.33L630.6 279.32L631.1 279.32L631.6 279.32L632.1 279.32L632.6 279.3L633.1 279.3L633.6 279.3L634.1 279.29L634.6 279.29L635.1 279.29L635.6 279.32L636.1 279.32L636.6 279.31L637.1 279.28L637.6 279.29L637.6 279.5Z" fill="#4d7d97"/>
<path d="M404.6 299.4L404.6 298.45L405.1 298.21L405.6 298L406.1 297.69L406.6 297.44L407.1 297.3L407.6 297.28L408.1 297.1L408.6 297.1L409.1 297.44L409.6 297.41L410.1 297.46L410.6 297.38L411.1 297.39L411.6 297.53L412.1 297.14L412.6 297.23L413.1 297.3L413.6 297.24L414.1 297.34L414.6 297.55L415.1 297.76L415.6 297.95L416.1 298.16L416.6 298.44L417.1 298.66L417.6 298.84L418.1 298.94L418.6 298.81L419.1 298.7L419.6 298.63L420.1 298.52L420.6 298.4L421.1 298.48L421.6 298.39L422.1 298.29L422.6 297.97L423.1 297.86L423.6 297.77L424.1 297.76L424.6 297.69L425.1 297.61L425.6 297.63L426.1 297.67L426.6 297.63L427.1 297.12L427.6 297.11L428.1 297.07L428.6 297.11L429.1 297.16L429.6 297.16L430.1 297.42L430.6 297.41L431.1 297.29L431.6 297.01L432.1 296.98L432.6 297.18L433.1 297.32L433.6 297.5L434.1 297.67L434.6 297.98L435.1 298.1L435.6 298.23L436.1 298.47L436.6 298.58L437.1 298.75L437.6 298.95L438.1 299.04L438.6 298.97L439.1 298.8L439.6 298.74L440.1 298.65L440.6 298.52L441.1 298.42L441.6 298.34L442.1 298.54L442.6 298.48L443.1 298.42L443.6 298.27L444.1 298.24L444.6 298.15L445.1 297.99L445.6 298.07L446.1 298.19L446.6 298.25L447.1 298.27L447.6 298.35L448.1 298.49L448.6 298.56L449.1 298.65L449.6 298.6L450.1 298.67L450.6 298.75L451.1 298.95L451.6 299.02L452.1 299.04L452.6 298.91L453.1 298.89L453.6 298.86L454.1 298.8L454.6 298.79L455.1 298.74L455.6 298.84L456.1 298.81L456.6 298.81L457.1 298.68L457.6 298.67L458.1 298.61L458.6 298.62L459.1 298.57L459.6 298.53L460.1 298.57L460.6 298.46L461.1 298.41L461.6 298.28L462.1 298.23L462.6 298.15L463.1 298.09L463.6 298.05L464.1 297.98L464.6 297.99L465.1 297.96L465.6 297.83L466.1 297.45L466.6 297.35L467.1 297.22L467.6 297.57L468.1 297.4L468.6 297.38L469.1 297.11L469.6 297.03L470.1 297.07L470.6 297.31L471.1 297.33L471.6 297.35L472.1 296.93L472.6 296.92L473.1 297.07L473.6 297.26L474.1 297.22L474.6 297.32L475.1 297.45L475.6 297.47L476.1 297.51L476.6 297.42L477.1 297.51L477.6 297.48L478.1 297.43L478.6 297.34L479.1 297.39L479.6 297.18L480.1 297.2L480.6 297.23L481.1 297.44L481.6 297.38L482.1 297.37L482.6 297.28L483.1 297.33L483.6 297.21L484.1 297.17L484.6 297.05L485.1 297L485.6 296.93L486.1 296.96L486.6 296.9L487.1 296.52L487.6 296.47L488.1 296.39L488.6 297.04L489.1 297.02L489.6 296.92L490.1 296.78L490.6 296.87L491.1 296.8L491.6 296.28L492.1 296.3L492.6 296.26L493.1 295.9L493.6 295.77L494.1 295.69L494.6 296.07L495.1 295.36L495.6 294.35L496.1 294.34L496.6 294.45L497.1 294.34L497.6 293.58L498.1 293.52L498.6 293.3L499.1 294.31L499.6 294.07L500.1 294.03L500.6 294.31L501.1 294.29L501.6 294.05L502.1 292.74L502.6 292.92L503.1 292.99L503.6 292.88L504.1 292.91L504.6 292.78L505.1 293.42L505.6 293.13L506.1 293.32L506.6 293.07L507.1 293.36L507.6 293.37L508.1 294.13L508.6 294.23L509.1 293.25L509.6 291L510.1 289.51L510.6 288.47L511.1 287.65L511.6 287.14L512.1 287.15L512.6 286.72L513.1 286.42L513.6 285.25L514.1 284.28L514.6 283.52L515.1 284.32L515.6 286.21L516.1 286.75L516.6 286.84L517.1 286.23L517.6 286.84L518.1 287.69L518.6 290.29L519.1 290.28L519.6 290.03L520.1 288.35L520.6 288.45L521.1 288.99L521.6 290.65L522.1 290.37L522.6 290.42L523.1 290.86L523.6 291.93L524.1 292.44L524.6 292.51L525.1 293.36L525.6 293.38L526.1 294.72L526.6 294.89L527.1 294.74L527.6 293.67L528.1 293.73L528.6 293.95L529.1 294.06L529.6 293.88L530.1 293.93L530.6 294.77L531.1 294.91L531.6 295L532.1 294.29L532.6 294.39L533.1 294.39L533.6 295.32L534.1 295.92L534.6 296.67L535.1 296.92L535.6 296.86L536.1 296.95L536.6 296.84L537.1 296.75L537.6 296.88L538.1 296.88L538.6 296.93L539.1 296.91L539.6 297.09L540.1 297.08L540.6 297.12L541.1 297.34L541.6 297.4L542.1 297.36L542.6 297.58L543.1 297.65L543.6 297.64L544.1 297.26L544.6 297.32L545.1 297.38L545.6 297.41L546.1 297.44L546.6 297.4L547.1 297.45L547.6 297.46L548.1 297.47L548.6 297.66L549.1 297.7L549.6 297.69L550.1 297.41L550.6 297.41L551.1 297.46L551.6 297.79L552.1 297.86L552.6 297.85L553.1 297.78L553.6 297.79L554.1 297.82L554.6 297.86L555.1 297.85L555.6 297.83L556.1 297.76L556.6 297.79L557.1 297.77L557.6 297.87L558.1 297.85L558.6 297.87L559.1 297.92L559.6 297.94L560.1 297.97L560.6 298.11L561.1 298.09L561.6 298.16L562.1 298.05L562.6 298.1L563.1 298.06L563.6 298.08L564.1 298.05L564.6 298.11L565.1 297.96L565.6 298.02L566.1 298.01L566.6 298.18L567.1 298.22L567.6 298.27L568.1 298.19L568.6 298.22L569.1 298.2L569.6 298.05L570.1 298.09L570.6 298.07L571.1 298.03L571.6 298.03L572.1 298.05L572.6 298.08L573.1 298.06L573.6 298.08L574.1 298.24L574.6 298.25L575.1 298.23L575.6 298.15L576.1 298.15L576.6 298.18L577.1 298.41L577.6 298.42L578.1 298.42L578.6 298.3L579.1 298.3L579.6 298.27L580.1 298.27L580.6 298.26L581.1 298.26L581.6 298.37L582.1 298.37L582.6 298.34L583.1 298.32L583.6 298.31L584.1 298.33L584.6 298.44L585.1 298.43L585.6 298.41L586.1 298.27L586.6 298.31L587.1 298.3L587.6 298.4L588.1 298.43L588.6 298.44L589.1 298.49L589.6 298.48L590.1 298.47L590.6 298.51L591.1 298.5L591.6 298.53L592.1 298.48L592.6 298.47L593.1 298.11L593.6 297.81L594.1 297.39L594.6 296.85L595.1 296.45L595.6 296.48L596.1 296.44L596.6 295.74L597.1 295.65L597.6 295.63L598.1 296.26L598.6 296.27L599.1 296.15L599.6 295.45L600.1 295.4L600.6 295.48L601.1 295.91L601.6 295.97L602.1 296.21L602.6 296.84L603.1 296.92L603.6 297.87L604.1 299.2L604.6 299.19L605.1 299.19L605.6 299.22L606.1 299.22L606.6 299.22L607.1 299.18L607.6 299.19L608.1 299.19L608.6 299.21L609.1 299.21L609.6 299.21L610.1 299.19L610.6 299.19L611.1 299.19L611.6 299.22L612.1 299.22L612.6 299.22L613.1 299.22L613.6 299.22L614.1 299.22L614.6 299.21L615.1 299.2L615.6 299.21L616.1 299.18L616.6 299.19L617.1 299.17L617.6 299.19L618.1 299.19L618.6 299.19L619.1 299.18L619.6 299.19L620.1 299.18L620.6 299.2L621.1 299.2L621.6 299.2L622.1 299.21L622.6 299.21L623.1 299.22L623.6 299.18L624.1 299.18L624.6 299.18L625.1 299.21L625.6 299.2L626.1 299.21L626.6 299.21L627.1 299.22L627.6 299.21L628.1 299.19L628.6 299.19L629.1 299.18L629.6 299.22L630.1 299.22L630.6 299.22L631.1 299.19L631.6 299.19L632.1 299.19L632.6 299.23L633.1 299.22L633.6 299.23L634.1 299.2L634.6 299.2L635.1 299.2L635.6 299.19L636.1 299.18L636.6 299.19L637.1 299.22L637.6 299.22L637.6 299.4Z" fill="#4d7d97"/>
<path d="M404.6 318.5L404.6 317.88L405.1 317.91L405.6 317.89L406.1 317.75L406.6 317.77L407.1 317.77L407.6 317.9L408.1 317.9L408.6 317.88L409.1 317.78L409.6 317.79L410.1 317.8L410.6 317.72L411.1 317.74L411.6 317.75L412.1 317.8L412.6 317.79L413.1 317.79L413.6 317.8L414.1 317.8L414.6 317.82L415.1 317.87L415.6 317.87L416.1 317.89L416.6 317.72L417.1 317.74L417.6 317.71L418.1 317.77L418.6 317.78L419.1 317.8L419.6 317.76L420.1 317.76L420.6 317.78L421.1 317.79L421.6 317.81L422.1 317.78L422.6 317.76L423.1 317.74L423.6 317.75L424.1 317.86L424.6 317.84L425.1 317.86L425.6 317.88L426.1 317.86L426.6 317.86L427.1 317.78L427.6 317.74L428.1 317.75L428.6 317.9L429.1 317.9L429.6 317.87L430.1 317.85L430.6 317.88L431.1 317.87L431.6 317.83L432.1 317.83L432.6 317.79L433.1 317.72L433.6 317.7L434.1 317.69L434.6 317.7L435.1 317.73L435.6 317.71L436.1 317.78L436.6 317.79L437.1 317.79L437.6 317.73L438.1 317.72L438.6 317.75L439.1 317.84L439.6 317.86L440.1 317.85L440.6 317.8L441.1 317.78L441.6 317.77L442.1 317.84L442.6 317.85L443.1 317.85L443.6 317.73L444.1 317.72L444.6 317.73L445.1 317.72L445.6 317.72L446.1 317.72L446.6 317.8L447.1 317.83L447.6 317.82L448.1 317.91L448.6 317.88L449.1 317.88L449.6 317.78L450.1 317.78L450.6 317.78L451.1 317.79L451.6 317.8L452.1 317.77L452.6 317.89L453.1 317.86L453.6 317.88L454.1 317.79L454.6 317.78L455.1 317.8L455.6 317.83L456.1 317.83L456.6 317.84L457.1 317.78L457.6 317.8L458.1 317.8L458.6 317.84L459.1 317.85L459.6 317.84L460.1 317.88L460.6 317.9L461.1 317.9L461.6 317.76L462.1 317.75L462.6 317.76L463.1 317.78L463.6 317.77L464.1 317.77L464.6 317.71L465.1 317.72L465.6 317.7L466.1 317.77L466.6 317.78L467.1 317.78L467.6 317.84L468.1 317.85L468.6 317.84L469.1 317.8L469.6 317.8L470.1 317.76L470.6 317.74L471.1 317.74L471.6 317.77L472.1 317.7L472.6 317.7L473.1 317.7L473.6 317.85L474.1 317.85L474.6 317.86L475.1 317.83L475.6 317.84L476.1 317.85L476.6 317.75L477.1 317.75L477.6 317.73L478.1 317.76L478.6 317.77L479.1 317.75L479.6 317.85L480.1 317.86L480.6 317.83L481.1 317.85L481.6 317.85L482.1 317.87L482.6 317.85L483.1 317.85L483.6 317.87L484.1 317.84L484.6 317.86L485.1 317.85L485.6 317.73L486.1 317.72L486.6 317.7L487.1 317.87L487.6 317.85L488.1 317.85L488.6 317.81L489.1 317.78L489.6 317.81L490.1 317.76L490.6 317.76L491.1 317.74L491.6 317.83L492.1 317.82L492.6 317.82L493.1 317.8L493.6 317.82L494.1 317.8L494.6 317.79L495.1 317.81L495.6 317.8L496.1 317.85L496.6 317.85L497.1 317.86L497.6 317.79L498.1 317.81L498.6 317.82L499.1 317.85L499.6 317.82L500.1 317.8L500.6 317.77L501.1 317.72L501.6 317.62L502.1 317.53L502.6 317.42L503.1 317.38L503.6 317.08L504.1 317.01L504.6 316.96L505.1 316.94L505.6 316.37L506.1 315.64L506.6 315.48L507.1 314.94L507.6 314.31L508.1 313.04L508.6 312.34L509.1 311.46L509.6 310.11L510.1 309.18L510.6 307.83L511.1 307.99L511.6 306.85L512.1 306.1L512.6 305.5L513.1 305.34L513.6 304.68L514.1 302.64L514.6 302.7L515.1 302.3L515.6 306L516.1 305.78L516.6 305.88L517.1 306.63L517.6 307.21L518.1 308.05L518.6 306.89L519.1 307.29L519.6 308.1L520.1 309.24L520.6 309.71L521.1 310.83L521.6 311.94L522.1 312.64L522.6 313.36L523.1 313.74L523.6 314.47L524.1 315.08L524.6 315.45L525.1 315.85L525.6 316.34L526.1 316.69L526.6 316.79L527.1 316.87L527.6 316.91L528.1 316.93L528.6 316.94L529.1 317.27L529.6 317.34L530.1 317.31L530.6 317.33L531.1 317.36L531.6 317.32L532.1 317.3L532.6 317.32L533.1 317.35L533.6 317.23L534.1 317.25L534.6 317.27L535.1 317.35L535.6 317.41L536.1 317.43L536.6 317.43L537.1 317.46L537.6 317.49L538.1 317.44L538.6 317.47L539.1 317.51L539.6 317.52L540.1 317.51L540.6 317.51L541.1 317.56L541.6 317.59L542.1 317.58L542.6 317.54L543.1 317.55L543.6 317.56L544.1 317.51L544.6 317.52L545.1 317.53L545.6 317.39L546.1 317.41L546.6 317.41L547.1 317.41L547.6 317.36L548.1 317.4L548.6 317.6L549.1 317.58L549.6 317.6L550.1 317.49L550.6 317.47L551.1 317.49L551.6 317.56L552.1 317.56L552.6 317.58L553.1 317.47L553.6 317.41L554.1 317.41L554.6 317.61L555.1 317.65L555.6 317.59L556.1 317.5L556.6 317.53L557.1 317.5L557.6 317.61L558.1 317.65L558.6 317.65L559.1 317.52L559.6 317.54L560.1 317.54L560.6 317.53L561.1 317.52L561.6 317.56L562.1 317.42L562.6 317.38L563.1 317.42L563.6 317.52L564.1 317.54L564.6 317.49L565.1 317.46L565.6 317.5L566.1 317.48L566.6 317.57L567.1 317.57L567.6 317.55L568.1 317.5L568.6 317.48L569.1 317.51L569.6 317.39L570.1 317.39L570.6 317.43L571.1 317.39L571.6 317.43L572.1 317.39L572.6 317.36L573.1 317.4L573.6 317.38L574.1 317.41L574.6 317.4L575.1 317.42L575.6 317.38L576.1 317.4L576.6 317.39L577.1 317.48L577.6 317.49L578.1 317.47L578.6 317.55L579.1 317.58L579.6 317.56L580.1 317.61L580.6 317.62L581.1 317.62L581.6 317.6L582.1 317.65L582.6 317.66L583.1 317.5L583.6 317.47L584.1 317.45L584.6 317.63L585.1 317.6L585.6 317.64L586.1 317.63L586.6 317.59L587.1 317.59L587.6 317.53L588.1 317.49L588.6 317.54L589.1 317.4L589.6 317.42L590.1 317.4L590.6 317.52L591.1 317.53L591.6 317.54L592.1 317.39L592.6 317.38L593.1 317.41L593.6 317.51L594.1 317.54L594.6 317.55L595.1 317.42L595.6 317.42L596.1 317.41L596.6 317.59L597.1 317.61L597.6 317.64L598.1 317.63L598.6 317.62L599.1 317.6L599.6 317.4L600.1 317.37L600.6 317.2L601.1 317.3L601.6 317.12L602.1 317.04L602.6 316.82L603.1 316.73L603.6 317.02L604.1 317.25L604.6 317.54L605.1 317.82L605.6 317.73L606.1 317.75L606.6 317.73L607.1 317.77L607.6 317.76L608.1 317.77L608.6 317.85L609.1 317.88L609.6 317.86L610.1 317.82L610.6 317.82L611.1 317.83L611.6 317.69L612.1 317.71L612.6 317.71L613.1 317.71L613.6 317.73L614.1 317.74L614.6 317.79L615.1 317.8L615.6 317.79L616.1 317.89L616.6 317.89L617.1 317.89L617.6 317.89L618.1 317.88L618.6 317.89L619.1 317.8L619.6 317.81L620.1 317.8L620.6 317.72L621.1 317.71L621.6 317.71L622.1 317.89L622.6 317.89L623.1 317.9L623.6 317.87L624.1 317.89L624.6 317.87L625.1 317.8L625.6 317.8L626.1 317.82L626.6 317.9L627.1 317.87L627.6 317.88L628.1 317.7L628.6 317.72L629.1 317.71L629.6 317.78L630.1 317.77L630.6 317.76L631.1 317.88L631.6 317.84L632.1 317.86L632.6 317.76L633.1 317.79L633.6 317.79L634.1 317.84L634.6 317.83L635.1 317.85L635.6 317.72L636.1 317.75L636.6 317.74L637.1 317.82L637.6 317.83L637.6 318.5Z" fill="#b4689a"/>
<path d="M404.6 321.6L404.6 322.29L405.1 322.35L405.6 322.37L406.1 322.36L406.6 322.41L407.1 322.44L407.6 322.5L408.1 322.57L408.6 322.59L409.1 322.68L409.6 322.75L410.1 322.77L410.6 322.74L411.1 322.77L411.6 322.77L412.1 322.79L412.6 322.82L413.1 322.72L413.6 322.94L414.1 322.82L414.6 322.81L415.1 322.75L415.6 322.66L416.1 322.62L416.6 322.5L417.1 322.5L417.6 322.46L418.1 322.43L418.6 322.42L419.1 322.38L419.6 322.36L420.1 322.34L420.6 322.34L421.1 322.32L421.6 322.31L422.1 322.32L422.6 322.37L423.1 322.35L423.6 322.37L424.1 322.35L424.6 322.35L425.1 322.35L425.6 322.22L426.1 322.21L426.6 322.21L427.1 322.39L427.6 322.38L428.1 322.38L428.6 322.28L429.1 322.27L429.6 322.25L430.1 322.27L430.6 322.29L431.1 322.27L431.6 322.24L432.1 322.25L432.6 322.24L433.1 322.27L433.6 322.25L434.1 322.24L434.6 322.26L435.1 322.26L435.6 322.24L436.1 322.38L436.6 322.36L437.1 322.39L437.6 322.24L438.1 322.25L438.6 322.27L439.1 322.32L439.6 322.32L440.1 322.31L440.6 322.26L441.1 322.26L441.6 322.28L442.1 322.21L442.6 322.23L443.1 322.22L443.6 322.21L444.1 322.22L444.6 322.23L445.1 322.24L445.6 322.23L446.1 322.21L446.6 322.32L447.1 322.3L447.6 322.32L448.1 322.29L448.6 322.3L449.1 322.31L449.6 322.25L450.1 322.22L450.6 322.22L451.1 322.32L451.6 322.31L452.1 322.31L452.6 322.32L453.1 322.28L453.6 322.32L454.1 322.39L454.6 322.4L455.1 322.38L455.6 322.4L456.1 322.4L456.6 322.39L457.1 322.25L457.6 322.26L458.1 322.22L458.6 322.26L459.1 322.25L459.6 322.25L460.1 322.22L460.6 322.22L461.1 322.23L461.6 322.31L462.1 322.29L462.6 322.28L463.1 322.39L463.6 322.39L464.1 322.39L464.6 322.27L465.1 322.26L465.6 322.27L466.1 322.34L466.6 322.37L467.1 322.35L467.6 322.19L468.1 322.21L468.6 322.22L469.1 322.37L469.6 322.38L470.1 322.4L470.6 322.39L471.1 322.37L471.6 322.37L472.1 322.22L472.6 322.23L473.1 322.24L473.6 322.32L474.1 322.32L474.6 322.33L475.1 322.38L475.6 322.39L476.1 322.38L476.6 322.37L477.1 322.37L477.6 322.37L478.1 322.35L478.6 322.35L479.1 322.37L479.6 322.3L480.1 322.28L480.6 322.28L481.1 322.24L481.6 322.23L482.1 322.24L482.6 322.38L483.1 322.37L483.6 322.4L484.1 322.25L484.6 322.27L485.1 322.27L485.6 322.27L486.1 322.28L486.6 322.26L487.1 322.28L487.6 322.3L488.1 322.29L488.6 322.34L489.1 322.32L489.6 322.34L490.1 322.37L490.6 322.4L491.1 322.39L491.6 322.37L492.1 322.38L492.6 322.37L493.1 322.27L493.6 322.25L494.1 322.25L494.6 322.37L495.1 322.41L495.6 322.64L496.1 322.72L496.6 322.88L497.1 323.1L497.6 323.15L498.1 323.41L498.6 323.57L499.1 323.51L499.6 323.68L500.1 323.97L500.6 324.55L501.1 324.88L501.6 325.1L502.1 325.27L502.6 325.46L503.1 325.76L503.6 325.9L504.1 326.15L504.6 326.52L505.1 327.77L505.6 328.01L506.1 328.25L506.6 328.23L507.1 328.3L507.6 328.67L508.1 328.53L508.6 329.39L509.1 329.84L509.6 329.92L510.1 330.58L510.6 330.71L511.1 331.59L511.6 332.63L512.1 332.97L512.6 332.69L513.1 333.12L513.6 333.92L514.1 335.98L514.6 336.19L515.1 335.2L515.6 334.58L516.1 333.78L516.6 333.09L517.1 331.49L517.6 331.4L518.1 330.8L518.6 331.68L519.1 330.66L519.6 330.22L520.1 328.72L520.6 328.26L521.1 327.51L521.6 327.78L522.1 327.11L522.6 326.54L523.1 326.58L523.6 325.96L524.1 325.41L524.6 324.07L525.1 323.8L525.6 323.32L526.1 323.19L526.6 323.08L527.1 323L527.6 322.94L528.1 322.9L528.6 322.8L529.1 322.54L529.6 322.45L530.1 322.44L530.6 322.53L531.1 322.55L531.6 322.56L532.1 322.43L532.6 322.45L533.1 322.51L533.6 322.55L534.1 322.59L534.6 322.62L535.1 322.74L535.6 322.72L536.1 322.77L536.6 322.54L537.1 322.58L537.6 322.61L538.1 322.76L538.6 322.76L539.1 322.74L539.6 322.79L540.1 322.78L540.6 322.79L541.1 322.92L541.6 322.98L542.1 322.99L542.6 322.81L543.1 322.84L543.6 322.87L544.1 322.94L544.6 322.92L545.1 322.95L545.6 322.96L546.1 322.88L546.6 322.9L547.1 322.87L547.6 322.84L548.1 322.78L548.6 322.88L549.1 322.89L549.6 322.8L550.1 322.69L550.6 322.65L551.1 322.63L551.6 322.68L552.1 322.69L552.6 322.63L553.1 322.68L553.6 322.6L554.1 322.62L554.6 322.43L555.1 322.4L555.6 322.47L556.1 322.5L556.6 322.55L557.1 322.52L557.6 322.51L558.1 322.48L558.6 322.51L559.1 322.57L559.6 322.61L560.1 322.61L560.6 322.88L561.1 322.87L561.6 322.95L562.1 322.75L562.6 322.71L563.1 322.73L563.6 322.85L564.1 322.88L564.6 322.91L565.1 322.82L565.6 322.88L566.1 322.89L566.6 323.14L567.1 323.16L567.6 323.22L568.1 323.23L568.6 323.23L569.1 323.28L569.6 323.14L570.1 323.11L570.6 323.18L571.1 323.05L571.6 323.05L572.1 323.07L572.6 323.11L573.1 323.14L573.6 323.21L574.1 323.43L574.6 323.43L575.1 323.47L575.6 323.6L576.1 323.56L576.6 323.62L577.1 323.66L577.6 323.67L578.1 323.62L578.6 323.58L579.1 323.52L579.6 323.44L580.1 323.03L580.6 323.03L581.1 322.95L581.6 322.76L582.1 322.73L582.6 322.69L583.1 322.66L583.6 322.57L584.1 322.53L584.6 322.48L585.1 322.42L585.6 322.45L586.1 322.5L586.6 322.5L587.1 322.54L587.6 322.45L588.1 322.45L588.6 322.44L589.1 322.37L589.6 322.41L590.1 322.39L590.6 322.34L591.1 322.35L591.6 322.35L592.1 322.37L592.6 322.33L593.1 322.35L593.6 322.53L594.1 322.53L594.6 322.5L595.1 322.39L595.6 322.4L596.1 322.39L596.6 322.51L597.1 322.52L597.6 322.53L598.1 322.46L598.6 322.49L599.1 322.45L599.6 322.32L600.1 322.32L600.6 322.35L601.1 322.49L601.6 322.5L602.1 322.49L602.6 322.53L603.1 322.52L603.6 322.54L604.1 322.5L604.6 322.52L605.1 322.47L605.6 322.51L606.1 322.51L606.6 322.52L607.1 322.4L607.6 322.38L608.1 322.4L608.6 322.47L609.1 322.44L609.6 322.47L610.1 322.38L610.6 322.39L611.1 322.38L611.6 322.32L612.1 322.33L612.6 322.33L613.1 322.52L613.6 322.5L614.1 322.51L614.6 322.48L615.1 322.49L615.6 322.48L616.1 322.45L616.6 322.45L617.1 322.43L617.6 322.26L618.1 322.29L618.6 322.29L619.1 322.43L619.6 322.46L620.1 322.46L620.6 322.34L621.1 322.37L621.6 322.34L622.1 322.44L622.6 322.41L623.1 322.44L623.6 322.34L624.1 322.32L624.6 322.33L625.1 322.26L625.6 322.26L626.1 322.28L626.6 322.39L627.1 322.41L627.6 322.42L628.1 322.43L628.6 322.42L629.1 322.44L629.6 322.27L630.1 322.26L630.6 322.25L631.1 322.22L631.6 322.21L632.1 322.23L632.6 322.38L633.1 322.37L633.6 322.37L634.1 322.38L634.6 322.39L635.1 322.37L635.6 322.36L636.1 322.33L636.6 322.35L637.1 322.26L637.6 322.21L637.6 321.6Z" fill="#3f7c4c"/>
<line x1="404.2" y1="279.3" x2="637.6" y2="279.3" stroke="#a6c0cf" stroke-width="0.6"/>
<line x1="404.2" y1="299.2" x2="637.6" y2="299.2" stroke="#a6c0cf" stroke-width="0.6"/>
<line x1="404.2" y1="318.3" x2="637.6" y2="318.3" stroke="#c985b0" stroke-width="0.6"/>
<line x1="404.2" y1="321.8" x2="637.6" y2="321.8" stroke="#9fc3a6" stroke-width="0.6"/>
<line x1="404.2" y1="262" x2="404.2" y2="279.5" stroke="#333333" stroke-width="0.7"/>
<line x1="404.2" y1="281.9" x2="404.2" y2="299.4" stroke="#333333" stroke-width="0.7"/>
<line x1="404.2" y1="301.2" x2="404.2" y2="318.5" stroke="#333333" stroke-width="0.7"/>
<line x1="404.2" y1="321.6" x2="404.2" y2="339.1" stroke="#333333" stroke-width="0.7"/>
<text x="405.9" y="266.6" font-size="7.4" stroke="#231f20" stroke-width="0.15">116</text>
<text x="405.9" y="286.6" font-size="7.4" stroke="#231f20" stroke-width="0.15">0.6</text>
<text x="405.9" y="306.1" font-size="7.4" stroke="#231f20" stroke-width="0.15">55</text>
<text x="406.1" y="341.4" font-size="7.4" stroke="#231f20" stroke-width="0.15">55</text>
<line x1="515.2" y1="262" x2="515.2" y2="339.5" stroke="#111" stroke-width="0.7" stroke-dasharray="1.1,0.9"/>
<line x1="515.2" y1="339.5" x2="515.2" y2="345.7" stroke="#e2382f" stroke-width="0.8"/>
<text x="518.5" y="345.4" font-size="7.4" stroke="#231f20" stroke-width="0.15">G-&gt;T</text>
<line x1="404.2" y1="354.3" x2="511.5" y2="354.3" stroke="#231f20" stroke-width="0.75"/>
<line x1="414" y1="353.2" x2="414" y2="355.4" stroke="#231f20" stroke-width="0.55"/>
<line x1="421" y1="353.2" x2="421" y2="355.4" stroke="#231f20" stroke-width="0.55"/>
<line x1="428" y1="353.2" x2="428" y2="355.4" stroke="#231f20" stroke-width="0.55"/>
<line x1="435" y1="353.2" x2="435" y2="355.4" stroke="#231f20" stroke-width="0.55"/>
<line x1="442" y1="353.2" x2="442" y2="355.4" stroke="#231f20" stroke-width="0.55"/>
<line x1="449" y1="353.2" x2="449" y2="355.4" stroke="#231f20" stroke-width="0.55"/>
<line x1="456" y1="353.2" x2="456" y2="355.4" stroke="#231f20" stroke-width="0.55"/>
<line x1="463" y1="353.2" x2="463" y2="355.4" stroke="#231f20" stroke-width="0.55"/>
<line x1="470" y1="353.2" x2="470" y2="355.4" stroke="#231f20" stroke-width="0.55"/>
<line x1="477" y1="353.2" x2="477" y2="355.4" stroke="#231f20" stroke-width="0.55"/>
<line x1="484" y1="353.2" x2="484" y2="355.4" stroke="#231f20" stroke-width="0.55"/>
<line x1="491" y1="353.2" x2="491" y2="355.4" stroke="#231f20" stroke-width="0.55"/>
<rect x="404.2" y="350.8" width="6.3" height="7" fill="#000"/>
<rect x="495.8" y="351.3" width="8.2" height="6" fill="#000"/>
<rect x="504" y="352.5" width="7.5" height="3.6" fill="#000"/>
<text x="467.3" y="366.8" font-size="7.4" text-anchor="middle" font-style="italic" stroke="#231f20" stroke-width="0.15">TUSC2</text>
<rect x="601" y="353" width="36.2" height="3.4" fill="#000"/>
<text x="620.8" y="366.8" font-size="7.4" text-anchor="middle" font-style="italic" stroke="#231f20" stroke-width="0.15">RASSF1</text>
<text x="0" y="395.3" font-size="13.5" font-weight="bold" stroke="#231f20" stroke-width="0.15">d</text>
<text x="23.9" y="445.9" font-size="7.2" stroke="#231f20" stroke-width="0.15">WT</text>
<line x1="68.5" y1="449.6" x2="236" y2="449.6" stroke="#555" stroke-width="0.8"/>
<path d="M52.9 431.05 L66.2 431.05 L60.9 435.45 L47.4 435.45Z" fill="#2b6aa6"/>
<path d="M52.9 437.3 L66.2 437.3 L60.9 441.7 L47.4 441.7Z" fill="#2b6aa6"/>
<path d="M52.9 443.3 L66.2 443.3 L60.9 447.7 L47.4 447.7Z" fill="#2b6aa6"/>
<path d="M40.3 449.3 L45.6 449.3 Q47.2 449.3 47.2 447.5 L47.2 429.9 A3.7 3.7 0 0 1 54.6 429.9 L54.6 449.2 A2.6 2.6 0 0 0 59.8 449.2 L59.8 430 A3.4 3.4 0 0 1 66.6 430 L66.6 447.3 Q66.6 449.3 68.9 449.3" fill="none" stroke="#4a4a4a" stroke-width="0.65"/>
<line x1="40.3" y1="455.5" x2="84" y2="455.5" stroke="#777" stroke-width="1"/>
<text x="43.6" y="468.2" font-size="7.6" stroke="#231f20" stroke-width="0.15">Promoter</text>
<rect x="97" y="445.15" width="31.5" height="9.3" rx="4.65" fill="#5a9e3f"/>
<text x="112.75" y="452.4" font-size="7.6" text-anchor="middle" fill="#2a2a2a" stroke="#2a2a2a" stroke-width="0.15">Firefly</text>
<rect x="142.6" y="445.15" width="31.5" height="9.3" rx="4.65" fill="#5db3d6"/>
<text x="158.35" y="452.4" font-size="7.6" text-anchor="middle" fill="#2a2a2a" stroke="#2a2a2a" stroke-width="0.15">SV40</text>
<rect x="187.6" y="445.15" width="32" height="9.3" rx="4.65" fill="#c96b9f"/>
<text x="203.6" y="452.4" font-size="7.6" text-anchor="middle" fill="#2a2a2a" stroke="#2a2a2a" stroke-width="0.15">Renilla</text>
<text x="24.9" y="507.6" font-size="7.2" stroke="#231f20" stroke-width="0.15">MT</text>
<line x1="68.5" y1="511.6" x2="98.5" y2="511.6" stroke="#555" stroke-width="0.8"/>
<line x1="128" y1="511.6" x2="237.2" y2="511.6" stroke="#999" stroke-width="0.8"/>
<path d="M52.9 493.25 L66.2 493.25 L60.9 497.65 L47.4 497.65Z" fill="#2b6aa6"/>
<path d="M52.9 499.5 L66.2 499.5 L60.9 503.9 L47.4 503.9Z" fill="#2b6aa6"/>
<path d="M52.9 505.5 L66.2 505.5 L60.9 509.9 L47.4 509.9Z" fill="#2b6aa6"/>
<path d="M40.3 511.5 L45.6 511.5 Q47.2 511.5 47.2 509.7 L47.2 492.1 A3.7 3.7 0 0 1 54.6 492.1 L54.6 511.4 A2.6 2.6 0 0 0 59.8 511.4 L59.8 492.2 A3.4 3.4 0 0 1 66.6 492.2 L66.6 509.5 Q66.6 511.5 68.9 511.5" fill="none" stroke="#4a4a4a" stroke-width="0.65"/>
<line x1="39.3" y1="511.1" x2="72.6" y2="491" stroke="#e0463c" stroke-width="0.7"/>
<line x1="41" y1="491" x2="72.6" y2="511.1" stroke="#e0463c" stroke-width="0.7"/>
<line x1="39.3" y1="516.9" x2="83" y2="516.9" stroke="#777" stroke-width="1"/>
<text x="42" y="530.4" font-size="7.6" stroke="#231f20" stroke-width="0.15">Promoter</text>
<text x="63.8" y="482.7" font-size="7.2" stroke="#231f20" stroke-width="0.15">G-&gt;A</text>
<line x1="71.4" y1="484.3" x2="68.2" y2="488.6" stroke="#e0463c" stroke-width="0.6"/>
<path d="M67.4 489.8 L67.6 487.3 L69.5 488.6Z" fill="#e0463c"/>
<rect x="98.2" y="507.05" width="31" height="9.3" rx="4.65" fill="#5a9e3f"/>
<text x="113.7" y="514.3" font-size="7.6" text-anchor="middle" fill="#2a2a2a" stroke="#2a2a2a" stroke-width="0.15">Firefly</text>
<rect x="143.3" y="507.05" width="31.3" height="9.3" rx="4.65" fill="#5db3d6"/>
<text x="158.95" y="514.3" font-size="7.6" text-anchor="middle" fill="#2a2a2a" stroke="#2a2a2a" stroke-width="0.15">SV40</text>
<rect x="188.8" y="507.05" width="31.3" height="9.3" rx="4.65" fill="#c96b9f"/>
<text x="204.45" y="514.3" font-size="7.6" text-anchor="middle" fill="#2a2a2a" stroke="#2a2a2a" stroke-width="0.15">Renilla</text>
<text x="283.6" y="394.6" font-size="13.5" font-weight="bold" stroke="#231f20" stroke-width="0.15">e</text>
<line x1="327" y1="399" x2="327" y2="521.1" stroke="#3a3a3a" stroke-width="0.7"/>
<line x1="324.8" y1="521.1" x2="327" y2="521.1" stroke="#3a3a3a" stroke-width="0.6"/>
<text x="322.4" y="523.6" font-size="6.9" text-anchor="end" fill="#333" stroke="#333" stroke-width="0.15">0.0</text>
<line x1="324.8" y1="480.4" x2="327" y2="480.4" stroke="#3a3a3a" stroke-width="0.6"/>
<text x="322.4" y="482.9" font-size="6.9" text-anchor="end" fill="#333" stroke="#333" stroke-width="0.15">0.5</text>
<line x1="324.8" y1="439.7" x2="327" y2="439.7" stroke="#3a3a3a" stroke-width="0.6"/>
<text x="322.4" y="442.2" font-size="6.9" text-anchor="end" fill="#333" stroke="#333" stroke-width="0.15">1.0</text>
<line x1="324.8" y1="399" x2="327" y2="399" stroke="#3a3a3a" stroke-width="0.6"/>
<text x="322.4" y="401.5" font-size="6.9" text-anchor="end" fill="#333" stroke="#333" stroke-width="0.15">1.5</text>
<line x1="327" y1="521.1" x2="436.5" y2="521.1" stroke="#3a3a3a" stroke-width="0.7"/>
<line x1="340.2" y1="521.1" x2="340.2" y2="523.7" stroke="#3a3a3a" stroke-width="0.6"/>
<line x1="368.1" y1="521.1" x2="368.1" y2="523.7" stroke="#3a3a3a" stroke-width="0.6"/>
<line x1="396.6" y1="521.1" x2="396.6" y2="523.7" stroke="#3a3a3a" stroke-width="0.6"/>
<line x1="424.5" y1="521.1" x2="424.5" y2="523.7" stroke="#3a3a3a" stroke-width="0.6"/>
<rect x="332.2" y="482.84" width="5.8" height="38.26" fill="#517f97"/>
<rect x="342.1" y="519.47" width="6.4" height="1.63" fill="#d6a27a"/>
<rect x="359.8" y="431.56" width="6.1" height="89.54" fill="#517f97"/>
<rect x="370" y="499.94" width="6.5" height="21.16" fill="#d6a27a"/>
<rect x="387.7" y="433.19" width="6.4" height="87.91" fill="#517f97"/>
<rect x="398" y="459.24" width="6.4" height="61.86" fill="#d6a27a"/>
<rect x="416" y="445.4" width="6.4" height="75.7" fill="#517f97"/>
<rect x="426.3" y="493.42" width="6.4" height="27.68" fill="#d6a27a"/>
<line x1="335.1" y1="485.28" x2="335.1" y2="476.74" stroke="#111" stroke-width="0.85"/>
<line x1="333.1" y1="485.28" x2="337.1" y2="485.28" stroke="#111" stroke-width="0.85"/>
<line x1="333.1" y1="476.74" x2="337.1" y2="476.74" stroke="#111" stroke-width="0.85"/>
<circle cx="332.5" cy="477.14" r="1.3" fill="#111"/>
<circle cx="337.7" cy="479.91" r="1.3" fill="#111"/>
<circle cx="335.1" cy="485.28" r="1.3" fill="#111"/>
<circle cx="342.4" cy="519.07" r="1.3" fill="#111"/>
<circle cx="348.2" cy="519.47" r="1.3" fill="#111"/>
<circle cx="345.3" cy="519.07" r="1.3" fill="#111"/>
<line x1="362.85" y1="441.33" x2="362.85" y2="420.16" stroke="#111" stroke-width="0.85"/>
<line x1="360.85" y1="441.33" x2="364.85" y2="441.33" stroke="#111" stroke-width="0.85"/>
<line x1="360.85" y1="420.16" x2="364.85" y2="420.16" stroke="#111" stroke-width="0.85"/>
<circle cx="360.1" cy="421.3" r="1.3" fill="#111"/>
<circle cx="365.6" cy="425.37" r="1.3" fill="#111"/>
<circle cx="362.85" cy="440.6" r="1.3" fill="#111"/>
<circle cx="370.3" cy="499.12" r="1.3" fill="#111"/>
<circle cx="376.2" cy="499.94" r="1.3" fill="#111"/>
<circle cx="373.25" cy="499.53" r="1.3" fill="#111"/>
<line x1="390.9" y1="440.51" x2="390.9" y2="422.61" stroke="#111" stroke-width="0.85"/>
<line x1="388.9" y1="440.51" x2="392.9" y2="440.51" stroke="#111" stroke-width="0.85"/>
<line x1="388.9" y1="422.61" x2="392.9" y2="422.61" stroke="#111" stroke-width="0.85"/>
<circle cx="388" cy="438.89" r="1.3" fill="#111"/>
<circle cx="393.8" cy="437.26" r="1.3" fill="#111"/>
<circle cx="390.9" cy="422.61" r="1.3" fill="#111"/>
<line x1="401.2" y1="464.12" x2="401.2" y2="451.58" stroke="#111" stroke-width="0.85"/>
<line x1="399.2" y1="464.12" x2="403.2" y2="464.12" stroke="#111" stroke-width="0.85"/>
<line x1="399.2" y1="451.58" x2="403.2" y2="451.58" stroke="#111" stroke-width="0.85"/>
<circle cx="398.3" cy="460.29" r="1.3" fill="#111"/>
<circle cx="404.1" cy="460.29" r="1.3" fill="#111"/>
<circle cx="401.2" cy="451.58" r="1.3" fill="#111"/>
<line x1="419.2" y1="447.03" x2="419.2" y2="441" stroke="#111" stroke-width="0.85"/>
<line x1="417.2" y1="447.03" x2="421.2" y2="447.03" stroke="#111" stroke-width="0.85"/>
<line x1="417.2" y1="441" x2="421.2" y2="441" stroke="#111" stroke-width="0.85"/>
<circle cx="416.3" cy="446.37" r="1.3" fill="#111"/>
<circle cx="422.1" cy="446.37" r="1.3" fill="#111"/>
<circle cx="419.2" cy="441" r="1.3" fill="#111"/>
<line x1="429.5" y1="508.89" x2="429.5" y2="475.11" stroke="#111" stroke-width="0.85"/>
<line x1="427.5" y1="508.89" x2="431.5" y2="508.89" stroke="#111" stroke-width="0.85"/>
<line x1="427.5" y1="475.11" x2="431.5" y2="475.11" stroke="#111" stroke-width="0.85"/>
<circle cx="426.6" cy="499.12" r="1.3" fill="#111"/>
<circle cx="432.4" cy="504.01" r="1.3" fill="#111"/>
<circle cx="429.5" cy="475.11" r="1.3" fill="#111"/>
<path d="M334 417.6 L334 415.4 L345.3 415.4 L345.3 417.6" fill="none" stroke="#333" stroke-width="0.6"/>
<text x="337.6" y="412.6" font-size="6.9" fill="#333" stroke="#333" stroke-width="0.15" transform="rotate(-43 337.6 412.6)"><tspan font-style="italic">P</tspan> = 9.8 x 10<tspan font-size="4.83" dy="-2.3">-5</tspan></text>
<path d="M361.5 417.6 L361.5 415.4 L373 415.4 L373 417.6" fill="none" stroke="#333" stroke-width="0.6"/>
<text x="365.1" y="412.6" font-size="6.9" fill="#333" stroke="#333" stroke-width="0.15" transform="rotate(-43 365.1 412.6)"><tspan font-style="italic">P</tspan> = 2.4 x 10<tspan font-size="4.83" dy="-2.3">-4</tspan></text>
<path d="M389.5 417.6 L389.5 415.4 L401 415.4 L401 417.6" fill="none" stroke="#333" stroke-width="0.6"/>
<text x="393.1" y="412.6" font-size="6.9" fill="#333" stroke="#333" stroke-width="0.15" transform="rotate(-43 393.1 412.6)"><tspan font-style="italic">P</tspan> = 1.7 x 10<tspan font-size="4.83" dy="-2.3">-2</tspan></text>
<path d="M417.5 417.6 L417.5 415.4 L429 415.4 L429 417.6" fill="none" stroke="#333" stroke-width="0.6"/>
<text x="421.1" y="412.6" font-size="6.9" fill="#333" stroke="#333" stroke-width="0.15" transform="rotate(-43 421.1 412.6)"><tspan font-style="italic">P</tspan> = 8.2 x 10<tspan font-size="4.83" dy="-2.3">-3</tspan></text>
<rect x="441.7" y="413.5" width="7" height="5.5" fill="#517f97"/>
<text x="450.3" y="419" font-size="7" fill="#333" stroke="#333" stroke-width="0.15">WT</text>
<rect x="441.7" y="423.8" width="7" height="5.5" fill="#d6a27a"/>
<text x="450.3" y="429.3" font-size="7" fill="#333" stroke="#333" stroke-width="0.15">MT</text>
<text x="299.4" y="458.5" font-size="7.5" text-anchor="middle" fill="#333" stroke="#333" stroke-width="0.15" transform="rotate(-90 299.4 458.5)">Luciferase activity</text>
<text x="308.2" y="458.5" font-size="7.5" text-anchor="middle" fill="#333" stroke="#333" stroke-width="0.15" transform="rotate(-90 308.2 458.5)">(Firefly/Renilla)</text>
<text x="342.6" y="532" font-size="7.2" text-anchor="end" fill="#333" stroke="#333" stroke-width="0.15" transform="rotate(-30 342.6 532)">CNDP2</text>
<text x="370.5" y="532" font-size="7.2" text-anchor="end" fill="#333" stroke="#333" stroke-width="0.15" transform="rotate(-30 370.5 532)">DMTF1</text>
<text x="399" y="532" font-size="7.2" text-anchor="end" fill="#333" stroke="#333" stroke-width="0.15" transform="rotate(-30 399 532)">SIRT6</text>
<text x="426.9" y="532" font-size="7.2" text-anchor="end" fill="#333" stroke="#333" stroke-width="0.15" transform="rotate(-30 426.9 532)">TUSC2</text>
<text x="497.1" y="394" font-size="13.5" font-weight="bold" stroke="#231f20" stroke-width="0.15">f</text>
<line x1="546.4" y1="398.8" x2="546.4" y2="521.2" stroke="#3a3a3a" stroke-width="0.7"/>
<line x1="544.2" y1="521.2" x2="546.4" y2="521.2" stroke="#3a3a3a" stroke-width="0.6"/>
<text x="541.8" y="523.7" font-size="6.9" text-anchor="end" fill="#333" stroke="#333" stroke-width="0.15">0.0</text>
<line x1="544.2" y1="480.4" x2="546.4" y2="480.4" stroke="#3a3a3a" stroke-width="0.6"/>
<text x="541.8" y="482.9" font-size="6.9" text-anchor="end" fill="#333" stroke="#333" stroke-width="0.15">0.5</text>
<line x1="544.2" y1="439.6" x2="546.4" y2="439.6" stroke="#3a3a3a" stroke-width="0.6"/>
<text x="541.8" y="442.1" font-size="6.9" text-anchor="end" fill="#333" stroke="#333" stroke-width="0.15">1.0</text>
<line x1="544.2" y1="398.8" x2="546.4" y2="398.8" stroke="#3a3a3a" stroke-width="0.6"/>
<text x="541.8" y="401.3" font-size="6.9" text-anchor="end" fill="#333" stroke="#333" stroke-width="0.15">1.5</text>
<line x1="546.4" y1="521.2" x2="654.5" y2="521.2" stroke="#3a3a3a" stroke-width="0.7"/>
<line x1="559.4" y1="521.2" x2="559.4" y2="523.8" stroke="#3a3a3a" stroke-width="0.6"/>
<line x1="587" y1="521.2" x2="587" y2="523.8" stroke="#3a3a3a" stroke-width="0.6"/>
<line x1="614.8" y1="521.2" x2="614.8" y2="523.8" stroke="#3a3a3a" stroke-width="0.6"/>
<line x1="642.7" y1="521.2" x2="642.7" y2="523.8" stroke="#3a3a3a" stroke-width="0.6"/>
<rect x="551" y="439.6" width="6.2" height="81.6" fill="#517f97"/>
<rect x="560.9" y="508.96" width="6.9" height="12.24" fill="#d6a27a"/>
<rect x="578.6" y="441.23" width="6.2" height="79.97" fill="#517f97"/>
<rect x="588.8" y="496.72" width="6.5" height="24.48" fill="#d6a27a"/>
<rect x="606.2" y="439.6" width="6.6" height="81.6" fill="#517f97"/>
<rect x="616.4" y="464.08" width="6.9" height="57.12" fill="#d6a27a"/>
<rect x="634.1" y="438.78" width="6.6" height="82.42" fill="#517f97"/>
<rect x="644.3" y="479.58" width="6.9" height="41.62" fill="#d6a27a"/>
<line x1="554.1" y1="449.39" x2="554.1" y2="424.91" stroke="#111" stroke-width="0.85"/>
<line x1="552.1" y1="449.39" x2="556.1" y2="449.39" stroke="#111" stroke-width="0.85"/>
<line x1="552.1" y1="424.91" x2="556.1" y2="424.91" stroke="#111" stroke-width="0.85"/>
<circle cx="554.1" cy="424.91" r="1.3" fill="#111"/>
<circle cx="556.9" cy="443.68" r="1.3" fill="#111"/>
<circle cx="551.3" cy="447.76" r="1.3" fill="#111"/>
<line x1="564.35" y1="511.41" x2="564.35" y2="504.06" stroke="#111" stroke-width="0.85"/>
<line x1="562.35" y1="511.41" x2="566.35" y2="511.41" stroke="#111" stroke-width="0.85"/>
<line x1="562.35" y1="504.06" x2="566.35" y2="504.06" stroke="#111" stroke-width="0.85"/>
<circle cx="564.35" cy="504.06" r="1.3" fill="#111"/>
<circle cx="567.5" cy="508.96" r="1.3" fill="#111"/>
<circle cx="561.2" cy="510.59" r="1.3" fill="#111"/>
<line x1="581.7" y1="444.5" x2="581.7" y2="433.07" stroke="#111" stroke-width="0.85"/>
<line x1="579.7" y1="444.5" x2="583.7" y2="444.5" stroke="#111" stroke-width="0.85"/>
<line x1="579.7" y1="433.07" x2="583.7" y2="433.07" stroke="#111" stroke-width="0.85"/>
<circle cx="581.7" cy="433.07" r="1.3" fill="#111"/>
<circle cx="584.5" cy="439.6" r="1.3" fill="#111"/>
<circle cx="578.9" cy="443.68" r="1.3" fill="#111"/>
<line x1="592.05" y1="501.62" x2="592.05" y2="491.01" stroke="#111" stroke-width="0.85"/>
<line x1="590.05" y1="501.62" x2="594.05" y2="501.62" stroke="#111" stroke-width="0.85"/>
<line x1="590.05" y1="491.01" x2="594.05" y2="491.01" stroke="#111" stroke-width="0.85"/>
<circle cx="592.05" cy="491.01" r="1.3" fill="#111"/>
<circle cx="595" cy="495.9" r="1.3" fill="#111"/>
<circle cx="589.1" cy="499.98" r="1.3" fill="#111"/>
<line x1="609.5" y1="451.02" x2="609.5" y2="422.46" stroke="#111" stroke-width="0.85"/>
<line x1="607.5" y1="451.02" x2="611.5" y2="451.02" stroke="#111" stroke-width="0.85"/>
<line x1="607.5" y1="422.46" x2="611.5" y2="422.46" stroke="#111" stroke-width="0.85"/>
<circle cx="609.5" cy="422.46" r="1.3" fill="#111"/>
<circle cx="612.5" cy="441.23" r="1.3" fill="#111"/>
<circle cx="606.5" cy="448.58" r="1.3" fill="#111"/>
<line x1="619.85" y1="469.79" x2="619.85" y2="455.92" stroke="#111" stroke-width="0.85"/>
<line x1="617.85" y1="469.79" x2="621.85" y2="469.79" stroke="#111" stroke-width="0.85"/>
<line x1="617.85" y1="455.92" x2="621.85" y2="455.92" stroke="#111" stroke-width="0.85"/>
<circle cx="619.85" cy="455.92" r="1.3" fill="#111"/>
<circle cx="623" cy="464.08" r="1.3" fill="#111"/>
<circle cx="616.7" cy="468.98" r="1.3" fill="#111"/>
<line x1="637.4" y1="459.18" x2="637.4" y2="417.57" stroke="#111" stroke-width="0.85"/>
<line x1="635.4" y1="459.18" x2="639.4" y2="459.18" stroke="#111" stroke-width="0.85"/>
<line x1="635.4" y1="417.57" x2="639.4" y2="417.57" stroke="#111" stroke-width="0.85"/>
<circle cx="637.4" cy="422.46" r="1.3" fill="#111"/>
<circle cx="640.4" cy="431.44" r="1.3" fill="#111"/>
<circle cx="634.4" cy="459.18" r="1.3" fill="#111"/>
<circle cx="647.75" cy="477.14" r="1.3" fill="#111"/>
<circle cx="650.9" cy="479.58" r="1.3" fill="#111"/>
<circle cx="644.6" cy="479.58" r="1.3" fill="#111"/>
<path d="M554.8 417.7 L554.8 415.5 L565.6 415.5 L565.6 417.7" fill="none" stroke="#333" stroke-width="0.6"/>
<text x="558.8" y="412.4" font-size="6.9" fill="#333" stroke="#333" stroke-width="0.15" transform="rotate(-43 558.8 412.4)"><tspan font-style="italic">P</tspan> = 4 x 10<tspan font-size="4.83" dy="-2.3">-4</tspan></text>
<path d="M581.4 417.7 L581.4 415.5 L592.2 415.5 L592.2 417.7" fill="none" stroke="#333" stroke-width="0.6"/>
<text x="585.4" y="412.4" font-size="6.9" fill="#333" stroke="#333" stroke-width="0.15" transform="rotate(-43 585.4 412.4)"><tspan font-style="italic">P</tspan> = 4.4 x 10<tspan font-size="4.83" dy="-2.3">-5</tspan></text>
<path d="M609.3 417.7 L609.3 415.5 L620.1 415.5 L620.1 417.7" fill="none" stroke="#333" stroke-width="0.6"/>
<text x="613.3" y="412.4" font-size="6.9" fill="#333" stroke="#333" stroke-width="0.15" transform="rotate(-43 613.3 412.4)"><tspan font-style="italic">P</tspan> = 4.9 x 10<tspan font-size="4.83" dy="-2.3">-2</tspan></text>
<path d="M637.2 417.7 L637.2 415.5 L647.8 415.5 L647.8 417.7" fill="none" stroke="#333" stroke-width="0.6"/>
<text x="641.2" y="412.4" font-size="6.9" fill="#333" stroke="#333" stroke-width="0.15" transform="rotate(-43 641.2 412.4)"><tspan font-style="italic">P</tspan> = 1.2 x 10<tspan font-size="4.83" dy="-2.3">-3</tspan></text>
<rect x="656.1" y="411.8" width="5.9" height="4.9" fill="#517f97"/>
<text x="663.6" y="416.7" font-size="7" fill="#333" stroke="#333" stroke-width="0.15">WT</text>
<rect x="656.1" y="422" width="5.9" height="4.9" fill="#d6a27a"/>
<text x="663.6" y="426.9" font-size="7" fill="#333" stroke="#333" stroke-width="0.15">MT</text>
<text x="519" y="460" font-size="7.5" text-anchor="middle" fill="#333" stroke="#333" stroke-width="0.15" transform="rotate(-90 519 460)">Relative RNA level</text>
<text x="527.8" y="460" font-size="7.5" text-anchor="middle" fill="#333" stroke="#333" stroke-width="0.15" transform="rotate(-90 527.8 460)">(Firefly/Renilla)</text>
<text x="561.8" y="532" font-size="7.2" text-anchor="end" fill="#333" stroke="#333" stroke-width="0.15" transform="rotate(-30 561.8 532)">CNDP2</text>
<text x="589.4" y="532" font-size="7.2" text-anchor="end" fill="#333" stroke="#333" stroke-width="0.15" transform="rotate(-30 589.4 532)">DMTF1</text>
<text x="617.2" y="532" font-size="7.2" text-anchor="end" fill="#333" stroke="#333" stroke-width="0.15" transform="rotate(-30 617.2 532)">SIRT6</text>
<text x="645.1" y="532" font-size="7.2" text-anchor="end" fill="#333" stroke="#333" stroke-width="0.15" transform="rotate(-30 645.1 532)">TUSC2</text>
<text x="0" y="560" font-size="13.5" font-weight="bold" stroke="#231f20" stroke-width="0.15">g</text>
<line x1="57.1" y1="571.9" x2="57.1" y2="667.6" stroke="#3a3a3a" stroke-width="0.7"/>
<line x1="54.9" y1="667.6" x2="57.1" y2="667.6" stroke="#3a3a3a" stroke-width="0.6"/>
<text x="52.5" y="670.1" font-size="6.9" text-anchor="end" fill="#333" stroke="#333" stroke-width="0.15">0.0</text>
<line x1="54.9" y1="635.7" x2="57.1" y2="635.7" stroke="#3a3a3a" stroke-width="0.6"/>
<text x="52.5" y="638.2" font-size="6.9" text-anchor="end" fill="#333" stroke="#333" stroke-width="0.15">0.5</text>
<line x1="54.9" y1="603.8" x2="57.1" y2="603.8" stroke="#3a3a3a" stroke-width="0.6"/>
<text x="52.5" y="606.3" font-size="6.9" text-anchor="end" fill="#333" stroke="#333" stroke-width="0.15">1.0</text>
<line x1="54.9" y1="571.9" x2="57.1" y2="571.9" stroke="#3a3a3a" stroke-width="0.6"/>
<text x="52.5" y="574.4" font-size="6.9" text-anchor="end" fill="#333" stroke="#333" stroke-width="0.15">1.5</text>
<line x1="57.1" y1="667.6" x2="147.7" y2="667.6" stroke="#3a3a3a" stroke-width="0.7"/>
<line x1="79.5" y1="667.6" x2="79.5" y2="670.2" stroke="#3a3a3a" stroke-width="0.6"/>
<line x1="119.7" y1="667.6" x2="119.7" y2="670.2" stroke="#3a3a3a" stroke-width="0.6"/>
<rect x="68.8" y="603.8" width="8.4" height="63.8" fill="#517f97"/>
<rect x="82.3" y="625.49" width="7.7" height="42.11" fill="#d6a27a"/>
<rect x="109.1" y="603.8" width="7.8" height="63.8" fill="#517f97"/>
<rect x="122.6" y="631.87" width="7.7" height="35.73" fill="#d6a27a"/>
<circle cx="69.1" cy="603.8" r="1.3" fill="#111"/>
<circle cx="76.9" cy="603.8" r="1.3" fill="#111"/>
<circle cx="73" cy="603.8" r="1.3" fill="#111"/>
<line x1="86.15" y1="628.04" x2="86.15" y2="622.94" stroke="#111" stroke-width="0.85"/>
<line x1="84.15" y1="628.04" x2="88.15" y2="628.04" stroke="#111" stroke-width="0.85"/>
<line x1="84.15" y1="622.94" x2="88.15" y2="622.94" stroke="#111" stroke-width="0.85"/>
<circle cx="82.6" cy="624.22" r="1.3" fill="#111"/>
<circle cx="89.7" cy="625.49" r="1.3" fill="#111"/>
<circle cx="86.15" cy="626.77" r="1.3" fill="#111"/>
<circle cx="109.4" cy="603.16" r="1.3" fill="#111"/>
<circle cx="116.6" cy="603.8" r="1.3" fill="#111"/>
<circle cx="113" cy="604.44" r="1.3" fill="#111"/>
<line x1="126.45" y1="635.7" x2="126.45" y2="629.32" stroke="#111" stroke-width="0.85"/>
<line x1="124.45" y1="635.7" x2="128.45" y2="635.7" stroke="#111" stroke-width="0.85"/>
<line x1="124.45" y1="629.32" x2="128.45" y2="629.32" stroke="#111" stroke-width="0.85"/>
<circle cx="122.9" cy="630.6" r="1.3" fill="#111"/>
<circle cx="130" cy="631.87" r="1.3" fill="#111"/>
<circle cx="126.45" cy="634.42" r="1.3" fill="#111"/>
<path d="M71.2 583.2 L71.2 581 L84.6 581 L84.6 583.2" fill="none" stroke="#333" stroke-width="0.6"/>
<text x="77.4" y="578.6" font-size="6.3" fill="#333" stroke="#333" stroke-width="0.15" transform="rotate(-43 77.4 578.6)"><tspan font-style="italic">P</tspan> = 4.9 x 10<tspan font-size="4.41" dy="-2.3">-3</tspan></text>
<path d="M110.8 583.2 L110.8 581 L125 581 L125 583.2" fill="none" stroke="#333" stroke-width="0.6"/>
<text x="117" y="578.6" font-size="6.3" fill="#333" stroke="#333" stroke-width="0.15" transform="rotate(-43 117 578.6)"><tspan font-style="italic">P</tspan> = 4.3 x 10<tspan font-size="4.41" dy="-2.3">-3</tspan></text>
<rect x="142.7" y="583.6" width="5" height="5.1" fill="#517f97"/>
<text x="149.3" y="588.7" font-size="7" fill="#333" stroke="#333" stroke-width="0.15">WT</text>
<rect x="142.7" y="593.7" width="5" height="5.1" fill="#d6a27a"/>
<text x="149.3" y="598.8" font-size="7" fill="#333" stroke="#333" stroke-width="0.15">MT</text>
<text x="25.4" y="620.6" font-size="7.5" text-anchor="middle" fill="#333" stroke="#333" stroke-width="0.15" transform="rotate(-90 25.4 620.6)">Relative RNA level</text>
<text x="35" y="620.6" font-size="7.5" text-anchor="middle" fill="#333" stroke="#333" stroke-width="0.15" transform="rotate(-90 35 620.6)">(normalized to GAPDH)</text>
<text x="83.1" y="677.5" font-size="7.2" text-anchor="end" fill="#333" stroke="#333" stroke-width="0.15" transform="rotate(-30 83.1 677.5)">CNDP2</text>
<text x="123.3" y="677.5" font-size="7.2" text-anchor="end" fill="#333" stroke="#333" stroke-width="0.15" transform="rotate(-30 123.3 677.5)">TUSC2</text>
<text x="187.9" y="561.9" font-size="13.5" font-weight="bold" stroke="#231f20" stroke-width="0.15">h</text>
<line x1="226.6" y1="569.8" x2="226.6" y2="668.2" stroke="#3a3a3a" stroke-width="0.7"/>
<line x1="223.6" y1="668.2" x2="226.6" y2="668.2" stroke="#3a3a3a" stroke-width="0.6"/>
<text x="221.2" y="670.7" font-size="6.9" text-anchor="end" fill="#333" stroke="#333" stroke-width="0.15">0.0</text>
<line x1="223.6" y1="643.6" x2="226.6" y2="643.6" stroke="#3a3a3a" stroke-width="0.6"/>
<text x="221.2" y="646.1" font-size="6.9" text-anchor="end" fill="#333" stroke="#333" stroke-width="0.15">0.2</text>
<line x1="223.6" y1="619" x2="226.6" y2="619" stroke="#3a3a3a" stroke-width="0.6"/>
<text x="221.2" y="621.5" font-size="6.9" text-anchor="end" fill="#333" stroke="#333" stroke-width="0.15">0.4</text>
<line x1="223.6" y1="594.4" x2="226.6" y2="594.4" stroke="#3a3a3a" stroke-width="0.6"/>
<text x="221.2" y="596.9" font-size="6.9" text-anchor="end" fill="#333" stroke="#333" stroke-width="0.15">0.6</text>
<line x1="223.6" y1="569.8" x2="226.6" y2="569.8" stroke="#3a3a3a" stroke-width="0.6"/>
<text x="221.2" y="572.3" font-size="6.9" text-anchor="end" fill="#333" stroke="#333" stroke-width="0.15">0.8</text>
<line x1="226.8" y1="668.2" x2="342.7" y2="668.2" stroke="#3a3a3a" stroke-width="0.7"/>
<line x1="226.8" y1="668.2" x2="226.8" y2="670" stroke="#3a3a3a" stroke-width="0.6"/>
<line x1="265.44" y1="668.2" x2="265.44" y2="670" stroke="#3a3a3a" stroke-width="0.6"/>
<line x1="304.08" y1="668.2" x2="304.08" y2="670" stroke="#3a3a3a" stroke-width="0.6"/>
<line x1="342.72" y1="668.2" x2="342.72" y2="670" stroke="#3a3a3a" stroke-width="0.6"/>
<text x="226.8" y="679.9" font-size="6.8" text-anchor="middle" fill="#333" stroke="#333" stroke-width="0.15">0</text>
<text x="265.44" y="679.9" font-size="6.8" text-anchor="middle" fill="#333" stroke="#333" stroke-width="0.15">2</text>
<text x="304.08" y="679.9" font-size="6.8" text-anchor="middle" fill="#333" stroke="#333" stroke-width="0.15">4</text>
<text x="342.72" y="679.9" font-size="6.8" text-anchor="middle" fill="#333" stroke="#333" stroke-width="0.15">6</text>
<text x="347" y="679.9" font-size="6.8" fill="#333" stroke="#333" stroke-width="0.15">(Days)</text>
<text x="207.6" y="618" font-size="7.5" text-anchor="middle" fill="#333" stroke="#333" stroke-width="0.15" transform="rotate(-90 207.6 618)">A480</text>
<path d="M226.8 653.44 L246.12 650.98 L265.44 650.98 L284.76 649.75 L304.08 646.06 L323.4 646.06 L342.72 632.53" fill="none" stroke="#1a1a1a" stroke-width="0.9"/>
<line x1="304.08" y1="647.29" x2="304.08" y2="644.83" stroke="#1a1a1a" stroke-width="0.7"/>
<line x1="302.48" y1="647.29" x2="305.68" y2="647.29" stroke="#1a1a1a" stroke-width="0.7"/>
<line x1="302.48" y1="644.83" x2="305.68" y2="644.83" stroke="#1a1a1a" stroke-width="0.7"/>
<line x1="323.4" y1="652.21" x2="323.4" y2="641.14" stroke="#1a1a1a" stroke-width="0.7"/>
<line x1="321.8" y1="652.21" x2="325" y2="652.21" stroke="#1a1a1a" stroke-width="0.7"/>
<line x1="321.8" y1="641.14" x2="325" y2="641.14" stroke="#1a1a1a" stroke-width="0.7"/>
<line x1="342.72" y1="642.37" x2="342.72" y2="622.69" stroke="#1a1a1a" stroke-width="0.7"/>
<line x1="341.12" y1="642.37" x2="344.32" y2="642.37" stroke="#1a1a1a" stroke-width="0.7"/>
<line x1="341.12" y1="622.69" x2="344.32" y2="622.69" stroke="#1a1a1a" stroke-width="0.7"/>
<circle cx="226.8" cy="653.44" r="2" fill="#1a1a1a"/>
<circle cx="246.12" cy="650.98" r="2" fill="#1a1a1a"/>
<circle cx="265.44" cy="650.98" r="2" fill="#1a1a1a"/>
<circle cx="284.76" cy="649.75" r="2" fill="#1a1a1a"/>
<circle cx="304.08" cy="646.06" r="2" fill="#1a1a1a"/>
<circle cx="323.4" cy="646.06" r="2" fill="#1a1a1a"/>
<circle cx="342.72" cy="632.53" r="2" fill="#1a1a1a"/>
<path d="M226.8 652.83 L246.12 649.75 L265.44 645.45 L284.76 644.22 L304.08 633.76 L323.4 619 L342.72 613.47" fill="none" stroke="#e0a57c" stroke-width="0.9"/>
<line x1="323.4" y1="623.92" x2="323.4" y2="614.08" stroke="#e0a57c" stroke-width="0.7"/>
<line x1="321.8" y1="623.92" x2="325" y2="623.92" stroke="#e0a57c" stroke-width="0.7"/>
<line x1="321.8" y1="614.08" x2="325" y2="614.08" stroke="#e0a57c" stroke-width="0.7"/>
<line x1="342.72" y1="615.31" x2="342.72" y2="611.62" stroke="#e0a57c" stroke-width="0.7"/>
<line x1="341.12" y1="615.31" x2="344.32" y2="615.31" stroke="#e0a57c" stroke-width="0.7"/>
<line x1="341.12" y1="611.62" x2="344.32" y2="611.62" stroke="#e0a57c" stroke-width="0.7"/>
<path d="M226.8 650.43 L229.2 654.53 L224.4 654.53Z" fill="#e0a57c"/>
<path d="M246.12 647.35 L248.52 651.45 L243.72 651.45Z" fill="#e0a57c"/>
<path d="M265.44 643.05 L267.84 647.15 L263.04 647.15Z" fill="#e0a57c"/>
<path d="M284.76 641.82 L287.16 645.92 L282.36 645.92Z" fill="#e0a57c"/>
<path d="M304.08 631.36 L306.48 635.46 L301.68 635.46Z" fill="#e0a57c"/>
<path d="M323.4 616.6 L325.8 620.7 L321 620.7Z" fill="#e0a57c"/>
<path d="M342.72 611.07 L345.12 615.17 L340.32 615.17Z" fill="#e0a57c"/>
<path d="M226.8 653.44 L246.12 650.37 L265.44 638.07 L284.76 635.61 L304.08 622.69 L323.4 610.39 L342.72 600.55" fill="none" stroke="#4e86a8" stroke-width="0.9"/>
<line x1="323.4" y1="621.46" x2="323.4" y2="598.71" stroke="#4e86a8" stroke-width="0.7"/>
<line x1="321.8" y1="621.46" x2="325" y2="621.46" stroke="#4e86a8" stroke-width="0.7"/>
<line x1="321.8" y1="598.71" x2="325" y2="598.71" stroke="#4e86a8" stroke-width="0.7"/>
<line x1="342.72" y1="609.16" x2="342.72" y2="592.56" stroke="#4e86a8" stroke-width="0.7"/>
<line x1="341.12" y1="609.16" x2="344.32" y2="609.16" stroke="#4e86a8" stroke-width="0.7"/>
<line x1="341.12" y1="592.56" x2="344.32" y2="592.56" stroke="#4e86a8" stroke-width="0.7"/>
<rect x="224.8" y="651.44" width="4" height="4" fill="#4e86a8"/>
<rect x="244.12" y="648.37" width="4" height="4" fill="#4e86a8"/>
<rect x="263.44" y="636.07" width="4" height="4" fill="#4e86a8"/>
<rect x="282.76" y="633.61" width="4" height="4" fill="#4e86a8"/>
<rect x="302.08" y="620.69" width="4" height="4" fill="#4e86a8"/>
<rect x="321.4" y="608.39" width="4" height="4" fill="#4e86a8"/>
<rect x="340.72" y="598.55" width="4" height="4" fill="#4e86a8"/>
<line x1="236" y1="575" x2="246.3" y2="575" stroke="#1a1a1a" stroke-width="0.9"/>
<circle cx="241" cy="575" r="2" fill="#1a1a1a"/>
<text x="247.3" y="577.5" font-size="7" fill="#333" stroke="#333" stroke-width="0.15">WT</text>
<line x1="236" y1="590.3" x2="246.3" y2="590.3" stroke="#4e86a8" stroke-width="0.9"/>
<rect x="239" y="588.3" width="4" height="4" fill="#4e86a8"/>
<text x="247.3" y="592.8" font-size="7" fill="#333" stroke="#333" stroke-width="0.15">TUSC2 MT</text>
<line x1="236" y1="602.8" x2="246.3" y2="602.8" stroke="#e0a57c" stroke-width="0.9"/>
<path d="M241 600.4 L243.4 604.5 L238.6 604.5Z" fill="#e0a57c"/>
<text x="247.3" y="605.3" font-size="7" fill="#333" stroke="#333" stroke-width="0.15">CNDP2 MT</text>
<path d="M347 613.5 L352.2 613.5 L352.2 632.2 L347 632.2" fill="none" stroke="#333" stroke-width="0.6"/>
<path d="M361.3 600.2 L368.6 600.2 L368.6 632.2 L361.3 632.2" fill="none" stroke="#333" stroke-width="0.6"/>
<text x="359" y="620" font-size="7.4" text-anchor="middle" fill="#333" stroke="#333" stroke-width="0.15" transform="rotate(-90 359 620)"><tspan font-style="italic">P</tspan> = 1 x 10<tspan font-size="5.18" dy="-2.3">-6</tspan></text>
<text x="376.5" y="615.5" font-size="7.4" text-anchor="middle" fill="#333" stroke="#333" stroke-width="0.15" transform="rotate(-90 376.5 615.5)"><tspan font-style="italic">P</tspan> &lt; 1 x 10<tspan font-size="5.18" dy="-2.3">-6</tspan></text>
<text x="376.5" y="561.8" font-size="13.5" font-weight="bold" stroke="#231f20" stroke-width="0.15">i</text>
<line x1="417.9" y1="570.2" x2="417.9" y2="668.3" stroke="#3a3a3a" stroke-width="0.7"/>
<line x1="415.7" y1="668.3" x2="417.9" y2="668.3" stroke="#3a3a3a" stroke-width="0.6"/>
<text x="413.3" y="670.8" font-size="6.9" text-anchor="end" fill="#333" stroke="#333" stroke-width="0.15">0</text>
<line x1="415.7" y1="635.6" x2="417.9" y2="635.6" stroke="#3a3a3a" stroke-width="0.6"/>
<text x="413.3" y="638.1" font-size="6.9" text-anchor="end" fill="#333" stroke="#333" stroke-width="0.15">5</text>
<line x1="415.7" y1="602.9" x2="417.9" y2="602.9" stroke="#3a3a3a" stroke-width="0.6"/>
<text x="413.3" y="605.4" font-size="6.9" text-anchor="end" fill="#333" stroke="#333" stroke-width="0.15">10</text>
<line x1="415.7" y1="570.2" x2="417.9" y2="570.2" stroke="#3a3a3a" stroke-width="0.6"/>
<text x="413.3" y="572.7" font-size="6.9" text-anchor="end" fill="#333" stroke="#333" stroke-width="0.15">15</text>
<line x1="417.9" y1="668.3" x2="506.7" y2="668.3" stroke="#3a3a3a" stroke-width="0.7"/>
<line x1="432.9" y1="668.3" x2="432.9" y2="670.9" stroke="#3a3a3a" stroke-width="0.6"/>
<line x1="460.3" y1="668.3" x2="460.3" y2="670.9" stroke="#3a3a3a" stroke-width="0.6"/>
<line x1="487.6" y1="668.3" x2="487.6" y2="670.9" stroke="#3a3a3a" stroke-width="0.6"/>
<rect x="423.3" y="602.25" width="7" height="66.05" fill="#517f97"/>
<rect x="435.4" y="630.69" width="7" height="37.61" fill="#d6a27a"/>
<rect x="450.6" y="592.44" width="7" height="75.86" fill="#517f97"/>
<rect x="463" y="617.94" width="7" height="50.36" fill="#d6a27a"/>
<rect x="477.9" y="625.79" width="7" height="42.51" fill="#517f97"/>
<rect x="490.3" y="627.1" width="7" height="41.2" fill="#d6a27a"/>
<line x1="426.8" y1="609.44" x2="426.8" y2="595.71" stroke="#111" stroke-width="0.85"/>
<line x1="424.8" y1="609.44" x2="428.8" y2="609.44" stroke="#111" stroke-width="0.85"/>
<line x1="424.8" y1="595.71" x2="428.8" y2="595.71" stroke="#111" stroke-width="0.85"/>
<circle cx="423.6" cy="595.71" r="1.3" fill="#111"/>
<circle cx="430" cy="600.28" r="1.3" fill="#111"/>
<circle cx="426.8" cy="608.79" r="1.3" fill="#111"/>
<circle cx="435.7" cy="629.06" r="1.3" fill="#111"/>
<circle cx="442.1" cy="630.37" r="1.3" fill="#111"/>
<circle cx="438.9" cy="631.02" r="1.3" fill="#111"/>
<line x1="454.1" y1="593.74" x2="454.1" y2="587.86" stroke="#111" stroke-width="0.85"/>
<line x1="452.1" y1="593.74" x2="456.1" y2="593.74" stroke="#111" stroke-width="0.85"/>
<line x1="452.1" y1="587.86" x2="456.1" y2="587.86" stroke="#111" stroke-width="0.85"/>
<circle cx="450.9" cy="588.51" r="1.3" fill="#111"/>
<circle cx="457.3" cy="591.78" r="1.3" fill="#111"/>
<circle cx="454.1" cy="593.74" r="1.3" fill="#111"/>
<line x1="466.5" y1="625.14" x2="466.5" y2="610.09" stroke="#111" stroke-width="0.85"/>
<line x1="464.5" y1="625.14" x2="468.5" y2="625.14" stroke="#111" stroke-width="0.85"/>
<line x1="464.5" y1="610.09" x2="468.5" y2="610.09" stroke="#111" stroke-width="0.85"/>
<circle cx="463.3" cy="610.09" r="1.3" fill="#111"/>
<circle cx="469.7" cy="617.94" r="1.3" fill="#111"/>
<circle cx="466.5" cy="625.14" r="1.3" fill="#111"/>
<line x1="481.4" y1="627.75" x2="481.4" y2="623.17" stroke="#111" stroke-width="0.85"/>
<line x1="479.4" y1="627.75" x2="483.4" y2="627.75" stroke="#111" stroke-width="0.85"/>
<line x1="479.4" y1="623.17" x2="483.4" y2="623.17" stroke="#111" stroke-width="0.85"/>
<circle cx="478.2" cy="623.17" r="1.3" fill="#111"/>
<circle cx="484.6" cy="623.83" r="1.3" fill="#111"/>
<circle cx="481.4" cy="627.75" r="1.3" fill="#111"/>
<line x1="493.8" y1="629.71" x2="493.8" y2="624.48" stroke="#111" stroke-width="0.85"/>
<line x1="491.8" y1="629.71" x2="495.8" y2="629.71" stroke="#111" stroke-width="0.85"/>
<line x1="491.8" y1="624.48" x2="495.8" y2="624.48" stroke="#111" stroke-width="0.85"/>
<circle cx="490.6" cy="624.48" r="1.3" fill="#111"/>
<circle cx="497" cy="627.75" r="1.3" fill="#111"/>
<circle cx="493.8" cy="629.06" r="1.3" fill="#111"/>
<path d="M426.5 583.4 L426.5 581.2 L439.5 581.2 L439.5 583.4" fill="none" stroke="#333" stroke-width="0.6"/>
<text x="431.5" y="578.4" font-size="6.9" fill="#333" stroke="#333" stroke-width="0.15" transform="rotate(-43 431.5 578.4)"><tspan font-style="italic">P</tspan> = 1.1 x 10<tspan font-size="4.83" dy="-2.3">-3</tspan></text>
<path d="M453.5 583.4 L453.5 581.2 L466.5 581.2 L466.5 583.4" fill="none" stroke="#333" stroke-width="0.6"/>
<text x="458.5" y="578.4" font-size="6.9" fill="#333" stroke="#333" stroke-width="0.15" transform="rotate(-43 458.5 578.4)"><tspan font-style="italic">P</tspan> = 5.2 x 10<tspan font-size="4.83" dy="-2.3">-3</tspan></text>
<path d="M481 583.4 L481 581.2 L494 581.2 L494 583.4" fill="none" stroke="#333" stroke-width="0.6"/>
<text x="486" y="578.4" font-size="6.9" fill="#333" stroke="#333" stroke-width="0.15" transform="rotate(-43 486 578.4)"><tspan font-style="italic">P</tspan> = 0.56</text>
<rect x="505.5" y="584.2" width="5.8" height="4.7" fill="#517f97"/>
<text x="512.9" y="588.9" font-size="7" fill="#333" stroke="#333" stroke-width="0.15">WT</text>
<rect x="505.5" y="594" width="5.8" height="4.7" fill="#d6a27a"/>
<text x="512.9" y="598.7" font-size="7" fill="#333" stroke="#333" stroke-width="0.15">MT</text>
<text x="401.6" y="617.4" font-size="7.5" text-anchor="middle" fill="#333" stroke="#333" stroke-width="0.15" transform="rotate(-90 401.6 617.4)">G4 ChIP-qPCR (% input)</text>
<text x="435.4" y="679.5" font-size="7.2" text-anchor="end" fill="#333" stroke="#333" stroke-width="0.15" transform="rotate(-30 435.4 679.5)">CNDP2</text>
<text x="462.8" y="679.5" font-size="7.2" text-anchor="end" fill="#333" stroke="#333" stroke-width="0.15" transform="rotate(-30 462.8 679.5)">TUSC2</text>
<text x="490.1" y="679.5" font-size="7.2" text-anchor="end" fill="#333" stroke="#333" stroke-width="0.15" transform="rotate(-30 490.1 679.5)">MAZ</text>
<text x="543.7" y="561.5" font-size="13.5" font-weight="bold" stroke="#231f20" stroke-width="0.15">j</text>
<line x1="579.9" y1="573.5" x2="579.9" y2="668.3" stroke="#3a3a3a" stroke-width="0.7"/>
<line x1="577.7" y1="668.3" x2="579.9" y2="668.3" stroke="#3a3a3a" stroke-width="0.6"/>
<text x="575.3" y="670.8" font-size="6.9" text-anchor="end" fill="#333" stroke="#333" stroke-width="0.15">0</text>
<line x1="577.7" y1="649.34" x2="579.9" y2="649.34" stroke="#3a3a3a" stroke-width="0.6"/>
<text x="575.3" y="651.84" font-size="6.9" text-anchor="end" fill="#333" stroke="#333" stroke-width="0.15">1</text>
<line x1="577.7" y1="630.38" x2="579.9" y2="630.38" stroke="#3a3a3a" stroke-width="0.6"/>
<text x="575.3" y="632.88" font-size="6.9" text-anchor="end" fill="#333" stroke="#333" stroke-width="0.15">2</text>
<line x1="577.7" y1="611.42" x2="579.9" y2="611.42" stroke="#3a3a3a" stroke-width="0.6"/>
<text x="575.3" y="613.92" font-size="6.9" text-anchor="end" fill="#333" stroke="#333" stroke-width="0.15">3</text>
<line x1="577.7" y1="592.46" x2="579.9" y2="592.46" stroke="#3a3a3a" stroke-width="0.6"/>
<text x="575.3" y="594.96" font-size="6.9" text-anchor="end" fill="#333" stroke="#333" stroke-width="0.15">4</text>
<line x1="577.7" y1="573.5" x2="579.9" y2="573.5" stroke="#3a3a3a" stroke-width="0.6"/>
<text x="575.3" y="576" font-size="6.9" text-anchor="end" fill="#333" stroke="#333" stroke-width="0.15">5</text>
<line x1="579.9" y1="668.3" x2="665.2" y2="668.3" stroke="#3a3a3a" stroke-width="0.7"/>
<line x1="594.8" y1="668.3" x2="594.8" y2="670.9" stroke="#3a3a3a" stroke-width="0.6"/>
<line x1="621.6" y1="668.3" x2="621.6" y2="670.9" stroke="#3a3a3a" stroke-width="0.6"/>
<line x1="648.4" y1="668.3" x2="648.4" y2="670.9" stroke="#3a3a3a" stroke-width="0.6"/>
<rect x="585.3" y="589.62" width="7" height="78.68" fill="#517f97"/>
<rect x="597" y="639.86" width="7.4" height="28.44" fill="#d6a27a"/>
<rect x="611.9" y="605.73" width="7" height="62.57" fill="#517f97"/>
<rect x="624.3" y="636.07" width="7" height="32.23" fill="#d6a27a"/>
<rect x="638.8" y="620.9" width="7" height="47.4" fill="#517f97"/>
<rect x="651.1" y="620.9" width="7" height="47.4" fill="#d6a27a"/>
<line x1="588.8" y1="594.36" x2="588.8" y2="581.08" stroke="#111" stroke-width="0.85"/>
<line x1="586.8" y1="594.36" x2="590.8" y2="594.36" stroke="#111" stroke-width="0.85"/>
<line x1="586.8" y1="581.08" x2="590.8" y2="581.08" stroke="#111" stroke-width="0.85"/>
<circle cx="585.6" cy="581.08" r="1.3" fill="#111"/>
<circle cx="592" cy="592.46" r="1.3" fill="#111"/>
<circle cx="588.8" cy="590.56" r="1.3" fill="#111"/>
<line x1="600.7" y1="642.7" x2="600.7" y2="635.12" stroke="#111" stroke-width="0.85"/>
<line x1="598.7" y1="642.7" x2="602.7" y2="642.7" stroke="#111" stroke-width="0.85"/>
<line x1="598.7" y1="635.12" x2="602.7" y2="635.12" stroke="#111" stroke-width="0.85"/>
<circle cx="597.3" cy="636.07" r="1.3" fill="#111"/>
<circle cx="604.1" cy="639.86" r="1.3" fill="#111"/>
<circle cx="600.7" cy="641.76" r="1.3" fill="#111"/>
<line x1="615.4" y1="613.32" x2="615.4" y2="597.2" stroke="#111" stroke-width="0.85"/>
<line x1="613.4" y1="613.32" x2="617.4" y2="613.32" stroke="#111" stroke-width="0.85"/>
<line x1="613.4" y1="597.2" x2="617.4" y2="597.2" stroke="#111" stroke-width="0.85"/>
<circle cx="612.2" cy="600.04" r="1.3" fill="#111"/>
<circle cx="618.6" cy="601.94" r="1.3" fill="#111"/>
<circle cx="615.4" cy="613.32" r="1.3" fill="#111"/>
<line x1="627.8" y1="642.7" x2="627.8" y2="628.48" stroke="#111" stroke-width="0.85"/>
<line x1="625.8" y1="642.7" x2="629.8" y2="642.7" stroke="#111" stroke-width="0.85"/>
<line x1="625.8" y1="628.48" x2="629.8" y2="628.48" stroke="#111" stroke-width="0.85"/>
<circle cx="624.6" cy="628.48" r="1.3" fill="#111"/>
<circle cx="631" cy="634.17" r="1.3" fill="#111"/>
<circle cx="627.8" cy="641.76" r="1.3" fill="#111"/>
<line x1="642.3" y1="626.59" x2="642.3" y2="614.26" stroke="#111" stroke-width="0.85"/>
<line x1="640.3" y1="626.59" x2="644.3" y2="626.59" stroke="#111" stroke-width="0.85"/>
<line x1="640.3" y1="614.26" x2="644.3" y2="614.26" stroke="#111" stroke-width="0.85"/>
<circle cx="639.1" cy="615.21" r="1.3" fill="#111"/>
<circle cx="645.5" cy="617.11" r="1.3" fill="#111"/>
<circle cx="642.3" cy="626.59" r="1.3" fill="#111"/>
<line x1="654.6" y1="622.8" x2="654.6" y2="619" stroke="#111" stroke-width="0.85"/>
<line x1="652.6" y1="622.8" x2="656.6" y2="622.8" stroke="#111" stroke-width="0.85"/>
<line x1="652.6" y1="619" x2="656.6" y2="619" stroke="#111" stroke-width="0.85"/>
<circle cx="651.4" cy="619" r="1.3" fill="#111"/>
<circle cx="657.8" cy="620.9" r="1.3" fill="#111"/>
<circle cx="654.6" cy="622.8" r="1.3" fill="#111"/>
<path d="M588.3 578.7 L588.3 576.5 L601 576.5 L601 578.7" fill="none" stroke="#333" stroke-width="0.6"/>
<text x="594.8" y="574.1" font-size="6.9" fill="#333" stroke="#333" stroke-width="0.15" transform="rotate(-43 594.8 574.1)"><tspan font-style="italic">P</tspan> = 3.4 x 10<tspan font-size="4.83" dy="-2.3">-4</tspan></text>
<path d="M615.7 579.6 L615.7 577.4 L627.9 577.4 L627.9 579.6" fill="none" stroke="#333" stroke-width="0.6"/>
<text x="622.2" y="575" font-size="6.9" fill="#333" stroke="#333" stroke-width="0.15" transform="rotate(-43 622.2 575)"><tspan font-style="italic">P</tspan> = 6.7 x 10<tspan font-size="4.83" dy="-2.3">-3</tspan></text>
<path d="M642.2 579.6 L642.2 577.4 L654.9 577.4 L654.9 579.6" fill="none" stroke="#333" stroke-width="0.6"/>
<text x="648.7" y="575" font-size="6.9" fill="#333" stroke="#333" stroke-width="0.15" transform="rotate(-43 648.7 575)"><tspan font-style="italic">P</tspan> = 0.71</text>
<rect x="663.3" y="584.2" width="7" height="4.7" fill="#517f97"/>
<text x="671.9" y="588.9" font-size="7" fill="#333" stroke="#333" stroke-width="0.15">WT</text>
<rect x="663.3" y="594" width="7" height="4.7" fill="#d6a27a"/>
<text x="671.9" y="598.7" font-size="7" fill="#333" stroke="#333" stroke-width="0.15">MT</text>
<text x="564.8" y="620" font-size="7.5" text-anchor="middle" fill="#333" stroke="#333" stroke-width="0.15" transform="rotate(-90 564.8 620)">SP1 ChIP-qPCR (% Input)</text>
<text x="597.3" y="679.5" font-size="7.2" text-anchor="end" fill="#333" stroke="#333" stroke-width="0.15" transform="rotate(-30 597.3 679.5)">CNDP2</text>
<text x="624.1" y="679.5" font-size="7.2" text-anchor="end" fill="#333" stroke="#333" stroke-width="0.15" transform="rotate(-30 624.1 679.5)">TUSC2</text>
<text x="650.9" y="679.5" font-size="7.2" text-anchor="end" fill="#333" stroke="#333" stroke-width="0.15" transform="rotate(-30 650.9 679.5)">MAZ</text>
<text x="0" y="701.8" font-size="13.5" font-weight="bold" stroke="#231f20" stroke-width="0.15">k</text>
<text x="23.2" y="730.7" font-size="7.2" text-anchor="middle" stroke="#231f20" stroke-width="0.15">H3K27ac</text>
<text x="23.2" y="737.7" font-size="7.2" text-anchor="middle" stroke="#231f20" stroke-width="0.15">HiChIP</text>
<text x="22.4" y="748.2" font-size="7.2" text-anchor="middle" stroke="#231f20" stroke-width="0.15">SP1</text>
<text x="36.8" y="755.3" font-size="7.2" text-anchor="end" stroke="#231f20" stroke-width="0.15">ChIP-seq</text>
<text x="36.8" y="770" font-size="7.2" text-anchor="end" stroke="#231f20" stroke-width="0.15">ssG4-seq</text>
<text x="35.9" y="785.5" font-size="7.2" text-anchor="end" stroke="#231f20" stroke-width="0.15">H3K27ac</text>
<path d="M49.2 739.4 A134 134 0 0 1 209.5 740" fill="none" stroke="#333" stroke-width="0.6"/>
<path d="M61 740 A123.5 123.5 0 0 1 209.5 740" fill="none" stroke="#333" stroke-width="0.6"/>
<path d="M171.2 737 L171.2 740.2 L193.6 740.2 L193.6 737" fill="none" stroke="#333" stroke-width="0.6"/>
<text x="182.4" y="738" font-size="7" text-anchor="middle" stroke="#231f20" stroke-width="0.15">10 kb</text>
<path d="M39.7 756.4L39.7 756.28L40.2 756.15L40.7 756.32L41.2 755.99L41.7 756.28L42.2 756.12L42.7 755.94L43.2 756.2L43.7 755.92L44.2 756.03L44.7 756.13L45.2 756.09L45.7 756.11L46.2 756.22L46.7 755.9L47.2 756.2L47.7 755.91L48.2 755.97L48.7 755.41L49.2 755.95L49.7 756.09L50.2 756.22L50.7 756.01L51.2 755.94L51.7 756.02L52.2 756.3L52.7 756.02L53.2 756.18L53.7 755.98L54.2 756.16L54.7 755.95L55.2 755.91L55.7 755.99L56.2 755.99L56.7 755.99L57.2 756.1L57.7 756.31L58.2 755.91L58.7 756.17L59.2 756.39L59.7 756.18L60.2 756.19L60.7 756.3L61.2 755.92L61.7 756.34L62.2 755.95L62.7 756.13L63.2 756.31L63.7 756.22L64.2 756.17L64.7 756.34L65.2 756.02L65.7 756.07L66.2 755.91L66.7 755.99L67.2 756.01L67.7 755.9L68.2 755.93L68.7 756.08L69.2 756.13L69.7 756.14L70.2 755.99L70.7 755.94L71.2 755.98L71.7 755.98L72.2 756.39L72.7 756.19L73.2 756.36L73.7 756.11L74.2 756.11L74.7 756.12L75.2 755.97L75.7 756.29L76.2 756.04L76.7 756.11L77.2 756.29L77.7 755.91L78.2 755.55L78.7 755.3L79.2 756L79.7 756.25L80.2 756.16L80.7 756.21L81.2 755.72L81.7 755.69L82.2 755.92L82.7 756.07L83.2 756.06L83.7 756.04L84.2 756.12L84.7 756.15L85.2 755.92L85.7 756.26L86.2 756.05L86.7 756.07L87.2 756.04L87.7 756.16L88.2 756.39L88.7 756.01L89.2 756.26L89.7 756.01L90.2 755.91L90.7 756.01L91.2 756.2L91.7 755.97L92.2 756.21L92.7 756.24L93.2 756.11L93.7 756.07L94.2 756.06L94.7 756.12L95.2 756.2L95.7 756.03L96.2 756.24L96.7 756.1L97.2 756.4L97.7 756.33L98.2 755.97L98.7 756.29L99.2 756.19L99.7 756.37L100.2 756.02L100.7 756.24L101.2 756.38L101.7 756.26L102.2 755.93L102.7 756.02L103.2 756.4L103.7 755.92L104.2 756.36L104.7 756.16L105.2 756.13L105.7 756.01L106.2 756.33L106.7 755.99L107.2 756.26L107.7 756.03L108.2 755.94L108.7 756.1L109.2 756.4L109.7 756.07L110.2 756.18L110.7 756.03L111.2 756.01L111.7 756.35L112.2 756.12L112.7 756.08L113.2 755.94L113.7 756.09L114.2 756.09L114.7 756.02L115.2 756.32L115.7 755.97L116.2 756.11L116.7 756.08L117.2 756.32L117.7 756.14L118.2 756.2L118.7 756.3L119.2 755.93L119.7 755.98L120.2 756.17L120.7 756.36L121.2 755.91L121.7 756.34L122.2 756.15L122.7 756.12L123.2 755.97L123.7 756.07L124.2 753.34L124.7 749.71L125.2 753.08L125.7 755.93L126.2 756.16L126.7 756.36L127.2 756.37L127.7 755.92L128.2 756.3L128.7 756L129.2 756.3L129.7 756.29L130.2 756.32L130.7 755.99L131.2 756.35L131.7 756.16L132.2 756L132.7 756.14L133.2 756.4L133.7 756.39L134.2 755.98L134.7 756.25L135.2 756.36L135.7 756.14L136.2 756.01L136.7 756.25L137.2 756.33L137.7 756.31L138.2 756.16L138.7 756.01L139.2 754.8L139.7 753L140.2 751.93L140.7 753.15L141.2 755.11L141.7 754.31L142.2 753.98L142.7 755.55L143.2 756.3L143.7 755.94L144.2 756.16L144.7 756.35L145.2 756.11L145.7 756.02L146.2 756.16L146.7 755.95L147.2 755.98L147.7 756.06L148.2 756.39L148.7 756.2L149.2 756.14L149.7 756.32L150.2 756.15L150.7 755.65L151.2 755.65L151.7 756.09L152.2 756.02L152.7 756.34L153.2 756.31L153.7 756.04L154.2 756.04L154.7 756.29L155.2 756.02L155.7 756.01L156.2 756.08L156.7 756.17L157.2 756.37L157.7 756.28L158.2 756.02L158.7 755.93L159.2 756.32L159.7 756.38L160.2 756.23L160.7 755.93L161.2 756.29L161.7 755.93L162.2 756.01L162.7 755.98L163.2 755.9L163.7 756.06L164.2 756.3L164.7 756.18L165.2 756.2L165.7 756.07L166.2 756.22L166.7 756.03L167.2 756.39L167.7 756.29L168.2 756.29L168.7 756.31L169.2 756.03L169.7 755.96L170.2 756.35L170.7 756.16L171.2 756.4L171.7 756.28L172.2 756.33L172.7 756.05L173.2 755.98L173.7 755.98L174.2 756.26L174.7 756.2L175.2 756.28L175.7 756.07L176.2 756.29L176.7 756.02L177.2 756.16L177.7 756.12L178.2 755.96L178.7 755.94L179.2 756.27L179.7 756.04L180.2 756.26L180.7 756.39L181.2 755.97L181.7 756.3L182.2 756.26L182.7 756.04L183.2 755.97L183.7 756.21L184.2 756.04L184.7 755.83L185.2 755.82L185.7 756.15L186.2 756.29L186.7 756.29L187.2 756.11L187.7 756.26L188.2 756.12L188.7 756.06L189.2 756.25L189.7 755.95L190.2 755.92L190.7 756.38L191.2 756.37L191.7 756.35L192.2 756.15L192.7 755L193.2 748.65L193.7 745.6L194.2 750.67L194.7 755.96L195.2 755.9L195.7 756.17L196.2 756.03L196.7 756.23L197.2 756.33L197.7 756.05L198.2 756.21L198.7 756.13L199.2 756.12L199.7 756.28L200.2 756.23L200.7 755.8L201.2 755.79L201.7 756.09L202.2 756.03L202.7 756.14L203.2 756.14L203.7 755.97L204.2 756.34L204.7 756.29L205.2 756.14L205.7 755.97L206.2 755.94L206.7 755.96L207.2 756.3L207.7 756.24L208.2 756.28L208.7 756.29L209.2 755.5L209.7 755.19L210.2 755.91L210.7 756.02L211.2 755.93L211.7 756.13L212.2 756.28L212.7 756.2L213.2 756.18L213.7 756.32L214.2 756.12L214.7 756.01L215.2 756.24L215.7 756.39L216.2 756.35L216.7 756.22L216.7 756.4Z" fill="#4d7d97"/>
<line x1="39.2" y1="756.2" x2="216.7" y2="756.2" stroke="#a6c0cf" stroke-width="0.6"/>
<path d="M41.4 743.3 L39.2 743.3 L39.2 756.4" fill="none" stroke="#333" stroke-width="0.7"/>
<path d="M39.7 773.3L39.7 772.81L40.2 773.25L40.7 772.91L41.2 773.02L41.7 772.82L42.2 773.06L42.7 772.83L43.2 773.19L43.7 772.8L44.2 773.05L44.7 773.17L45.2 773.09L45.7 772.95L46.2 773.27L46.7 773.07L47.2 773.29L47.7 773.24L48.2 769.1L48.7 769.79L49.2 772.86L49.7 772.84L50.2 772.84L50.7 772.82L51.2 772.98L51.7 772.94L52.2 772.85L52.7 772.99L53.2 773.19L53.7 773L54.2 773L54.7 773.17L55.2 773.23L55.7 773.17L56.2 772.93L56.7 772.88L57.2 772.94L57.7 773.05L58.2 773.27L58.7 773.29L59.2 772.94L59.7 773L60.2 773.03L60.7 773.18L61.2 773.21L61.7 773.17L62.2 773.2L62.7 772.97L63.2 773.11L63.7 772.99L64.2 773.05L64.7 772.99L65.2 772.91L65.7 772.89L66.2 773.19L66.7 772.82L67.2 772.86L67.7 772.87L68.2 773.03L68.7 772.82L69.2 772.88L69.7 773.14L70.2 772.93L70.7 772.86L71.2 772.9L71.7 772.84L72.2 773L72.7 772.94L73.2 773.24L73.7 772.94L74.2 773.19L74.7 772.91L75.2 772.84L75.7 773.07L76.2 773.24L76.7 773.26L77.2 773.01L77.7 773.19L78.2 771.49L78.7 769.61L79.2 772.72L79.7 773.26L80.2 772.99L80.7 772.88L81.2 773.19L81.7 772.93L82.2 772.27L82.7 772.27L83.2 773.23L83.7 773.13L84.2 772.9L84.7 772.85L85.2 772.86L85.7 773.17L86.2 772.99L86.7 773.1L87.2 772.85L87.7 773.11L88.2 773.18L88.7 773.06L89.2 773.23L89.7 773.15L90.2 772.92L90.7 773.1L91.2 773.17L91.7 772.83L92.2 773.13L92.7 772.88L93.2 772.93L93.7 772.99L94.2 772.95L94.7 772.98L95.2 772.86L95.7 772.93L96.2 773.13L96.7 772.94L97.2 773.01L97.7 772.83L98.2 773.21L98.7 773.04L99.2 772.81L99.7 773.24L100.2 772.91L100.7 772.84L101.2 772.96L101.7 773.25L102.2 772.89L102.7 773.13L103.2 773L103.7 772.87L104.2 773.1L104.7 773.14L105.2 773.21L105.7 773.09L106.2 773.22L106.7 772.93L107.2 772.87L107.7 773.25L108.2 773L108.7 772.89L109.2 772.89L109.7 773.13L110.2 773L110.7 772.93L111.2 773L111.7 772.8L112.2 772.84L112.7 772.81L113.2 773.21L113.7 773.27L114.2 772.97L114.7 772.98L115.2 773.13L115.7 773.14L116.2 772.89L116.7 772.88L117.2 773.28L117.7 773.21L118.2 772.92L118.7 773.05L119.2 773.19L119.7 772.82L120.2 773.09L120.7 773.24L121.2 773.05L121.7 773.06L122.2 772.95L122.7 772.9L123.2 773.23L123.7 773.03L124.2 769.71L124.7 765.24L125.2 769.54L125.7 773.21L126.2 772.81L126.7 773.11L127.2 773.11L127.7 773.01L128.2 773L128.7 772.89L129.2 772.99L129.7 772.83L130.2 772.89L130.7 772.95L131.2 773.12L131.7 772.95L132.2 773.01L132.7 772.9L133.2 773.12L133.7 772.88L134.2 772.92L134.7 773.17L135.2 772.82L135.7 773.02L136.2 773.04L136.7 773.09L137.2 773.07L137.7 772.88L138.2 772.83L138.7 773.03L139.2 773L139.7 773.03L140.2 773.21L140.7 769.55L141.2 763.88L141.7 763.57L142.2 771L142.7 772.84L143.2 773.11L143.7 772.83L144.2 773.29L144.7 773.23L145.2 773.16L145.7 773.06L146.2 773L146.7 773.09L147.2 772.81L147.7 772.82L148.2 772.98L148.7 772.81L149.2 772.86L149.7 772.81L150.2 772.97L150.7 772.15L151.2 770.38L151.7 772.21L152.2 772.93L152.7 772.82L153.2 772.92L153.7 773.07L154.2 773.01L154.7 773.21L155.2 772.89L155.7 772.95L156.2 773.1L156.7 773.04L157.2 772.86L157.7 773.26L158.2 773.15L158.7 772.96L159.2 772.89L159.7 772.99L160.2 772.95L160.7 773.29L161.2 772.98L161.7 772.99L162.2 773.24L162.7 773L163.2 773.13L163.7 773.09L164.2 772.89L164.7 772.87L165.2 773.29L165.7 773.23L166.2 772.95L166.7 772.83L167.2 772.95L167.7 773.09L168.2 772.9L168.7 772.84L169.2 773.24L169.7 773.26L170.2 773.04L170.7 772.92L171.2 773L171.7 773.02L172.2 773.19L172.7 773.18L173.2 773.26L173.7 773.03L174.2 773.13L174.7 772.98L175.2 773.03L175.7 773.1L176.2 772.9L176.7 773.09L177.2 773.03L177.7 773.03L178.2 772.92L178.7 772.81L179.2 772.91L179.7 773.3L180.2 772.9L180.7 773L181.2 772.95L181.7 773.27L182.2 773.28L182.7 771.14L183.2 770.19L183.7 772.83L184.2 773.15L184.7 773.04L185.2 773.21L185.7 773.14L186.2 773.04L186.7 772.84L187.2 772.91L187.7 773.21L188.2 772.88L188.7 772.81L189.2 772.85L189.7 773.18L190.2 772.97L190.7 772.82L191.2 773.13L191.7 772.98L192.2 772.41L192.7 770.6L193.2 770.46L193.7 772.22L194.2 772.94L194.7 773.2L195.2 772.91L195.7 772.88L196.2 773.21L196.7 773.06L197.2 773.18L197.7 773L198.2 773.14L198.7 772.83L199.2 772.87L199.7 773.25L200.2 773.14L200.7 771.63L201.2 770.9L201.7 772.92L202.2 773.18L202.7 773.03L203.2 772.86L203.7 773.23L204.2 773.15L204.7 773L205.2 773.01L205.7 773.16L206.2 772.9L206.7 772.81L207.2 773.02L207.7 772.8L208.2 772.82L208.7 772.9L209.2 768.72L209.7 767.34L210.2 772.47L210.7 773.13L211.2 773.06L211.7 772.88L212.2 773.05L212.7 773.01L213.2 773.16L213.7 773.04L214.2 773.19L214.7 773.26L215.2 773.16L215.7 772.99L216.2 772.94L216.7 772.9L216.7 773.3Z" fill="#b0608e"/>
<line x1="39.2" y1="773.1" x2="216.7" y2="773.1" stroke="#c98ab0" stroke-width="0.6"/>
<path d="M41.4 760.4 L39.2 760.4 L39.2 773.3" fill="none" stroke="#333" stroke-width="0.7"/>
<path d="M39.7 790.3L39.7 789.68L40.2 789.46L40.7 789.99L41.2 789.7L41.7 789.39L42.2 789.92L42.7 789.67L43.2 789.68L43.7 789.5L44.2 790.29L44.7 790.23L45.2 789.3L45.7 789.65L46.2 790.17L46.7 789.66L47.2 790.23L47.7 790.08L48.2 789.68L48.7 789.05L49.2 788.94L49.7 789.33L50.2 790.04L50.7 789.74L51.2 790.03L51.7 790.01L52.2 790.18L52.7 789.62L53.2 789.64L53.7 790L54.2 789.55L54.7 790.19L55.2 790.1L55.7 789.36L56.2 790.19L56.7 790.25L57.2 790.29L57.7 789.75L58.2 789.56L58.7 790.29L59.2 789.97L59.7 790.05L60.2 790.11L60.7 790.19L61.2 790.06L61.7 790.25L62.2 789.41L62.7 790.21L63.2 789.91L63.7 789.79L64.2 789.77L64.7 789.97L65.2 789.92L65.7 789.39L66.2 790.23L66.7 790.21L67.2 790.13L67.7 789.66L68.2 790.02L68.7 790.06L69.2 790.28L69.7 790.26L70.2 789.77L70.7 790.19L71.2 789.99L71.7 790.18L72.2 790.13L72.7 790.22L73.2 789.43L73.7 789.81L74.2 789.96L74.7 790.19L75.2 789.53L75.7 789.88L76.2 790.25L76.7 790.22L77.2 789.37L77.7 790.12L78.2 790.04L78.7 790.27L79.2 789.48L79.7 790.18L80.2 789.88L80.7 789.68L81.2 789.91L81.7 790.07L82.2 790.17L82.7 789.72L83.2 790.17L83.7 789.82L84.2 789.36L84.7 789.41L85.2 789.75L85.7 789.84L86.2 790.24L86.7 789.57L87.2 789.43L87.7 790.1L88.2 790.28L88.7 789.91L89.2 790.02L89.7 789.52L90.2 789.65L90.7 790.02L91.2 789.91L91.7 789.97L92.2 789.76L92.7 789.79L93.2 789.76L93.7 790.2L94.2 789.58L94.7 790.29L95.2 790.17L95.7 789.89L96.2 790.3L96.7 789.83L97.2 790.12L97.7 790.1L98.2 790.28L98.7 790.07L99.2 789.86L99.7 790.29L100.2 789.54L100.7 789.33L101.2 789.92L101.7 789.89L102.2 789.56L102.7 789.77L103.2 789.76L103.7 789.97L104.2 789.92L104.7 790.08L105.2 790.27L105.7 789.61L106.2 789.76L106.7 790.3L107.2 789.61L107.7 789.32L108.2 790.04L108.7 789.42L109.2 790.2L109.7 789.8L110.2 789.58L110.7 790.04L111.2 790.14L111.7 790.25L112.2 789.9L112.7 790.13L113.2 789.97L113.7 789.82L114.2 790.19L114.7 790.04L115.2 790.29L115.7 789.76L116.2 789.67L116.7 790.14L117.2 790.2L117.7 789.79L118.2 789.99L118.7 789.56L119.2 789.65L119.7 790L120.2 790.02L120.7 789.86L121.2 789.84L121.7 789.97L122.2 788.3L122.7 785.63L123.2 782.71L123.7 785.83L124.2 787.98L124.7 789.21L125.2 786.98L125.7 785.57L126.2 788.03L126.7 789.94L127.2 790.13L127.7 789.84L128.2 789.64L128.7 789.77L129.2 790.28L129.7 789.98L130.2 789.55L130.7 790.06L131.2 790.15L131.7 790.09L132.2 789.82L132.7 790.13L133.2 790.23L133.7 790.3L134.2 790.25L134.7 789.74L135.2 790.28L135.7 790.11L136.2 790.16L136.7 789.57L137.2 789.54L137.7 790.29L138.2 790.25L138.7 789.52L139.2 788.07L139.7 787.07L140.2 787.1L140.7 788.46L141.2 789.67L141.7 790.29L142.2 786.07L142.7 782.22L143.2 778.76L143.7 781.79L144.2 783.81L144.7 785.64L145.2 785.2L145.7 786.73L146.2 788.97L146.7 790.07L147.2 789.33L147.7 789.45L148.2 789.43L148.7 789.92L149.2 789.46L149.7 788.63L150.2 787.13L150.7 788.24L151.2 788.87L151.7 789.82L152.2 790.26L152.7 790.26L153.2 789.82L153.7 789.43L154.2 789.79L154.7 790.17L155.2 790.24L155.7 789.53L156.2 789.63L156.7 789.96L157.2 789.85L157.7 790.29L158.2 790.25L158.7 789.34L159.2 790.29L159.7 789.58L160.2 790.23L160.7 789.67L161.2 790.24L161.7 790.27L162.2 789.75L162.7 789.39L163.2 789.93L163.7 789.44L164.2 789.75L164.7 789.5L165.2 789.88L165.7 789.47L166.2 789.75L166.7 790.04L167.2 790.04L167.7 789.53L168.2 790.29L168.7 789.97L169.2 790.27L169.7 789.53L170.2 789.89L170.7 789.55L171.2 790.06L171.7 790.01L172.2 789.9L172.7 789.83L173.2 790.19L173.7 790.29L174.2 789.94L174.7 790.27L175.2 789.94L175.7 790.25L176.2 789.82L176.7 789.91L177.2 790.23L177.7 789.58L178.2 789.98L178.7 789.4L179.2 790.13L179.7 789.95L180.2 790.06L180.7 789.71L181.2 790.1L181.7 789.75L182.2 789.26L182.7 788.86L183.2 789.43L183.7 789.94L184.2 790.13L184.7 789.39L185.2 790.24L185.7 789.95L186.2 789.98L186.7 790.11L187.2 790.3L187.7 789.66L188.2 789.93L188.7 789.84L189.2 790L189.7 789.44L190.2 789.92L190.7 789.73L191.2 790.19L191.7 790.04L192.2 789.82L192.7 786.9L193.2 781.96L193.7 777.72L194.2 784.66L194.7 789.1L195.2 789.61L195.7 789.76L196.2 790.3L196.7 790.1L197.2 790.29L197.7 789.71L198.2 789.82L198.7 789.41L199.2 790.27L199.7 789.92L200.2 789.33L200.7 789.5L201.2 790.26L201.7 790.05L202.2 789.31L202.7 790.1L203.2 789.9L203.7 790.26L204.2 789.44L204.7 789.42L205.2 790.03L205.7 790.27L206.2 790.08L206.7 789.79L207.2 789.43L207.7 789.94L208.2 789.63L208.7 788.98L209.2 788.89L209.7 789.6L210.2 790.03L210.7 789.39L211.2 789.98L211.7 790.12L212.2 790.28L212.7 790.18L213.2 789.71L213.7 789.72L214.2 789.88L214.7 790.13L215.2 789.55L215.7 790.09L216.2 789.57L216.7 790.3L216.7 790.3Z" fill="#7f9a52"/>
<line x1="39.2" y1="790.1" x2="216.7" y2="790.1" stroke="#a9bd8a" stroke-width="0.6"/>
<path d="M41.4 777.5 L39.2 777.5 L39.2 790.3" fill="none" stroke="#333" stroke-width="0.7"/>
<text x="43.2" y="747.1" font-size="7.3" stroke="#231f20" stroke-width="0.15">3.6</text>
<text x="43.2" y="764.2" font-size="7.3" stroke="#231f20" stroke-width="0.15">181</text>
<text x="43.2" y="781.3" font-size="7.3" stroke="#231f20" stroke-width="0.15">52</text>
<rect x="48.7" y="793.7" width="31.4" height="3.9" fill="#7d8f52"/>
<text x="49" y="804.8" font-size="7.2" font-style="italic" stroke="#231f20" stroke-width="0.15">TE14707</text>
<line x1="62" y1="810.4" x2="90" y2="810.4" stroke="#222" stroke-width="0.5"/>
<line x1="92.9" y1="810.4" x2="172" y2="810.4" stroke="#222" stroke-width="0.5"/>
<line x1="184.5" y1="810.4" x2="197" y2="810.4" stroke="#222" stroke-width="0.5"/>
<rect x="39.4" y="807.9" width="1.2" height="5" fill="#111"/>
<rect x="41.5" y="807.9" width="1.1" height="5" fill="#111"/>
<rect x="44.1" y="808.7" width="2.3" height="3.4" fill="#111"/>
<rect x="63" y="808.9" width="0.8" height="3" fill="#111"/>
<rect x="69.2" y="807.9" width="1.8" height="5" fill="#111"/>
<rect x="72.5" y="807.9" width="1.3" height="5" fill="#111"/>
<rect x="75.5" y="807.9" width="1.3" height="5" fill="#111"/>
<rect x="78.8" y="807.9" width="9.7" height="5" fill="#111"/>
<rect x="92.9" y="808.9" width="0.5" height="3" fill="#111"/>
<rect x="110.4" y="807.9" width="9.5" height="5" fill="#111"/>
<rect x="122.8" y="807.9" width="3.2" height="5" fill="#111"/>
<rect x="127.5" y="807.9" width="5.7" height="5" fill="#111"/>
<rect x="134.2" y="807.9" width="5.8" height="5" fill="#111"/>
<rect x="141" y="807.9" width="5" height="5" fill="#111"/>
<rect x="147" y="808.4" width="4.2" height="4" fill="#111"/>
<rect x="184.5" y="807.9" width="1.5" height="5" fill="#111"/>
<rect x="187" y="807.9" width="4" height="5" fill="#111"/>
<rect x="192" y="808.9" width="1" height="3" fill="#111"/>
<rect x="195.5" y="808.9" width="1.3" height="3" fill="#111"/>
<rect x="201.5" y="808.9" width="2.5" height="3" fill="#111"/>
<rect x="204.5" y="807.9" width="3.5" height="5" fill="#111"/>
<rect x="208.5" y="808.9" width="1.5" height="3" fill="#111"/>
<rect x="212.9" y="808.9" width="0.9" height="3" fill="#111"/>
<rect x="214.5" y="807.9" width="3.2" height="5" fill="#111"/>
<line x1="99" y1="809.4" x2="99" y2="811.4" stroke="#222" stroke-width="0.4"/>
<line x1="104" y1="809.4" x2="104" y2="811.4" stroke="#222" stroke-width="0.4"/>
<line x1="108" y1="809.4" x2="108" y2="811.4" stroke="#222" stroke-width="0.4"/>
<line x1="153" y1="809.4" x2="153" y2="811.4" stroke="#222" stroke-width="0.4"/>
<line x1="157" y1="809.4" x2="157" y2="811.4" stroke="#222" stroke-width="0.4"/>
<line x1="161" y1="809.4" x2="161" y2="811.4" stroke="#222" stroke-width="0.4"/>
<line x1="165" y1="809.4" x2="165" y2="811.4" stroke="#222" stroke-width="0.4"/>
<line x1="169" y1="809.4" x2="169" y2="811.4" stroke="#222" stroke-width="0.4"/>
<line x1="172" y1="809.4" x2="172" y2="811.4" stroke="#222" stroke-width="0.4"/>
<text x="46" y="821.3" font-size="7.2" text-anchor="middle" font-style="italic" stroke="#231f20" stroke-width="0.15">GNAI2</text>
<text x="78" y="821.3" font-size="7.2" text-anchor="middle" font-style="italic" stroke="#231f20" stroke-width="0.15">SEMA3B</text>
<text x="115.2" y="821.3" font-size="7.2" text-anchor="middle" font-style="italic" stroke="#231f20" stroke-width="0.15">IFRD2</text>
<text x="150.9" y="821.3" font-size="7.2" text-anchor="middle" font-style="italic" stroke="#231f20" stroke-width="0.15">HYAL1</text>
<text x="181.6" y="821.3" font-size="7.2" text-anchor="middle" font-style="italic" stroke="#231f20" stroke-width="0.15">HYAL2</text>
<text x="208.6" y="821.3" font-size="7.2" text-anchor="middle" font-style="italic" stroke="#231f20" stroke-width="0.15">TUSC2</text>
<line x1="258.7" y1="708.6" x2="258.7" y2="805.2" stroke="#3a3a3a" stroke-width="0.7"/>
<line x1="256.5" y1="805.2" x2="258.7" y2="805.2" stroke="#3a3a3a" stroke-width="0.6"/>
<text x="254.1" y="807.7" font-size="6.9" text-anchor="end" fill="#333" stroke="#333" stroke-width="0.15">0.0</text>
<line x1="256.5" y1="773" x2="258.7" y2="773" stroke="#3a3a3a" stroke-width="0.6"/>
<text x="254.1" y="775.5" font-size="6.9" text-anchor="end" fill="#333" stroke="#333" stroke-width="0.15">0.5</text>
<line x1="256.5" y1="740.8" x2="258.7" y2="740.8" stroke="#3a3a3a" stroke-width="0.6"/>
<text x="254.1" y="743.3" font-size="6.9" text-anchor="end" fill="#333" stroke="#333" stroke-width="0.15">1.0</text>
<line x1="256.5" y1="708.6" x2="258.7" y2="708.6" stroke="#3a3a3a" stroke-width="0.6"/>
<text x="254.1" y="711.1" font-size="6.9" text-anchor="end" fill="#333" stroke="#333" stroke-width="0.15">1.5</text>
<line x1="258.7" y1="805.2" x2="322.8" y2="805.2" stroke="#3a3a3a" stroke-width="0.7"/>
<line x1="275.7" y1="805.2" x2="275.7" y2="807.8" stroke="#3a3a3a" stroke-width="0.6"/>
<line x1="303.3" y1="805.2" x2="303.3" y2="807.8" stroke="#3a3a3a" stroke-width="0.6"/>
<rect x="266.2" y="743.38" width="6.7" height="61.82" fill="#517f97"/>
<rect x="279.9" y="779.44" width="6.8" height="25.76" fill="#d6a27a"/>
<rect x="293.8" y="765.27" width="6.6" height="39.93" fill="#517f97"/>
<rect x="307.6" y="779.44" width="6.7" height="25.76" fill="#d6a27a"/>
<line x1="269.55" y1="744.02" x2="269.55" y2="740.8" stroke="#111" stroke-width="0.7"/>
<line x1="267.95" y1="744.02" x2="271.15" y2="744.02" stroke="#111" stroke-width="0.7"/>
<line x1="267.95" y1="740.8" x2="271.15" y2="740.8" stroke="#111" stroke-width="0.7"/>
<circle cx="266.5" cy="740.8" r="1.25" fill="#111"/>
<circle cx="272.6" cy="742.73" r="1.25" fill="#111"/>
<circle cx="269.55" cy="744.02" r="1.25" fill="#111"/>
<line x1="283.3" y1="779.44" x2="283.3" y2="779.44" stroke="#111" stroke-width="0.7"/>
<line x1="281.7" y1="779.44" x2="284.9" y2="779.44" stroke="#111" stroke-width="0.7"/>
<line x1="281.7" y1="779.44" x2="284.9" y2="779.44" stroke="#111" stroke-width="0.7"/>
<circle cx="280.2" cy="779.44" r="1.25" fill="#111"/>
<circle cx="286.4" cy="779.44" r="1.25" fill="#111"/>
<circle cx="283.3" cy="779.44" r="1.25" fill="#111"/>
<line x1="297.1" y1="766.56" x2="297.1" y2="763.34" stroke="#111" stroke-width="0.7"/>
<line x1="295.5" y1="766.56" x2="298.7" y2="766.56" stroke="#111" stroke-width="0.7"/>
<line x1="295.5" y1="763.34" x2="298.7" y2="763.34" stroke="#111" stroke-width="0.7"/>
<circle cx="294.1" cy="763.34" r="1.25" fill="#111"/>
<circle cx="300.1" cy="765.27" r="1.25" fill="#111"/>
<circle cx="297.1" cy="766.56" r="1.25" fill="#111"/>
<line x1="310.95" y1="779.44" x2="310.95" y2="778.15" stroke="#111" stroke-width="0.7"/>
<line x1="309.35" y1="779.44" x2="312.55" y2="779.44" stroke="#111" stroke-width="0.7"/>
<line x1="309.35" y1="778.15" x2="312.55" y2="778.15" stroke="#111" stroke-width="0.7"/>
<circle cx="307.9" cy="778.15" r="1.25" fill="#111"/>
<circle cx="314" cy="779.44" r="1.25" fill="#111"/>
<circle cx="310.95" cy="779.44" r="1.25" fill="#111"/>
<path d="M269.7 720.5 L269.7 718.5 L297.6 718.5 L297.6 720.5" fill="none" stroke="#333" stroke-width="0.6"/>
<text x="269" y="716.2" font-size="6.9" fill="#333" stroke="#333" stroke-width="0.15"><tspan font-style="italic">P</tspan> &lt; 1 x 10<tspan font-size="4.83" dy="-2.3">-6</tspan></text>
<path d="M269.7 733.2 L269.7 731.2 L283.7 731.2 L283.7 733.2" fill="none" stroke="#333" stroke-width="0.6"/>
<text x="260.2" y="729.9" font-size="6.9" fill="#333" stroke="#333" stroke-width="0.15"><tspan font-style="italic">P</tspan> = 1 x 10<tspan font-size="4.83" dy="-2.3">-6</tspan></text>
<path d="M283.7 745.5 L283.7 743.5 L310.8 743.5 L310.8 745.5" fill="none" stroke="#333" stroke-width="0.6"/>
<text x="285.2" y="742.8" font-size="6.9" fill="#333" stroke="#333" stroke-width="0.15"><tspan font-style="italic">P</tspan> = 0.72</text>
<path d="M297 757.5 L297 755.5 L310.8 755.5 L310.8 757.5" fill="none" stroke="#333" stroke-width="0.6"/>
<text x="289" y="754.5" font-size="6.9" fill="#333" stroke="#333" stroke-width="0.15"><tspan font-style="italic">P</tspan> = 9.9 x 10<tspan font-size="4.83" dy="-2.3">-5</tspan></text>
<rect x="314" y="715.6" width="9.6" height="4.8" fill="#517f97"/>
<text x="324.4" y="720.4" font-size="7" fill="#333" stroke="#333" stroke-width="0.15">shGFP</text>
<rect x="314" y="725.3" width="9.6" height="4.8" fill="#d6a27a"/>
<text x="324.4" y="730.1" font-size="7" fill="#333" stroke="#333" stroke-width="0.15">shSP1</text>
<text x="229.6" y="756.5" font-size="7.5" text-anchor="middle" fill="#333" stroke="#333" stroke-width="0.15" transform="rotate(-90 229.6 756.5)">Relative interaction frequency</text>
<text x="238.2" y="756.5" font-size="7.5" text-anchor="middle" fill="#333" stroke="#333" stroke-width="0.15" transform="rotate(-90 238.2 756.5)">(normalized to GAPDH)</text>
<text x="278.5" y="815.5" font-size="6.9" text-anchor="end" fill="#333" stroke="#333" stroke-width="0.15" transform="rotate(-31 278.5 815.5)">WT</text>
<text x="305.8" y="815.5" font-size="6.9" text-anchor="end" fill="#333" stroke="#333" stroke-width="0.15" transform="rotate(-31 305.8 815.5)">TUSC2 MT</text>
<text x="352.8" y="700.8" font-size="13.5" font-weight="bold" stroke="#231f20" stroke-width="0.15">l</text>
<text x="370" y="734.2" font-size="7.2" text-anchor="middle" stroke="#231f20" stroke-width="0.15">H3K27ac</text>
<text x="370.4" y="741.2" font-size="7.2" text-anchor="middle" stroke="#231f20" stroke-width="0.15">HiChIP</text>
<text x="368.8" y="750.5" font-size="7.2" text-anchor="middle" stroke="#231f20" stroke-width="0.15">SP1</text>
<text x="383.4" y="756.9" font-size="7.2" text-anchor="end" stroke="#231f20" stroke-width="0.15">ChIP-seq</text>
<text x="383.4" y="769.9" font-size="7.2" text-anchor="end" stroke="#231f20" stroke-width="0.15">ssG4-seq</text>
<text x="382.9" y="786.6" font-size="7.2" text-anchor="end" stroke="#231f20" stroke-width="0.15">H3K27ac</text>
<path d="M395.4 739.8 A117.5 117.5 0 0 1 536.4 739.8" fill="none" stroke="#333" stroke-width="0.6"/>
<path d="M488.4 735.4 L488.4 737.8 L518.6 737.8 L518.6 735.4" fill="none" stroke="#333" stroke-width="0.6"/>
<text x="503" y="736.3" font-size="6" text-anchor="middle" stroke="#231f20" stroke-width="0.15">50 kb</text>
<path d="M385.8 756.9L385.8 756.65L386.3 756.55L386.8 756.46L387.3 756.65L387.8 756.65L388.3 756.5L388.8 756.58L389.3 756.63L389.8 756.61L390.3 756.64L390.8 756.73L391.3 756.52L391.8 756.43L392.3 756.5L392.8 756.52L393.3 756.64L393.8 756.6L394.3 756.74L394.8 756.49L395.3 756.66L395.8 756.66L396.3 756.41L396.8 756.64L397.3 756.41L397.8 756.53L398.3 756.48L398.8 756.52L399.3 756.72L399.8 756.49L400.3 756.68L400.8 756.61L401.3 756.75L401.8 756.81L402.3 756.63L402.8 756.86L403.3 756.62L403.8 756.45L404.3 756.4L404.8 756.6L405.3 756.77L405.8 756.64L406.3 756.8L406.8 756.7L407.3 756.52L407.8 756.53L408.3 756.84L408.8 756.58L409.3 756.6L409.8 756.61L410.3 756.75L410.8 756.61L411.3 756.77L411.8 756.5L412.3 756.51L412.8 756.52L413.3 756.61L413.8 756.41L414.3 756.63L414.8 756.71L415.3 756.62L415.8 756.43L416.3 756.73L416.8 756.47L417.3 756.42L417.8 756.45L418.3 756.58L418.8 756.59L419.3 756.44L419.8 756.49L420.3 756.46L420.8 756.72L421.3 756.53L421.8 756.44L422.3 753.59L422.8 756.41L423.3 756.58L423.8 756.68L424.3 756.68L424.8 756.77L425.3 756.61L425.8 756.74L426.3 756.43L426.8 756.41L427.3 756.54L427.8 756.78L428.3 756.53L428.8 756.74L429.3 756.62L429.8 756.75L430.3 756.57L430.8 756.79L431.3 756.67L431.8 756.69L432.3 756.58L432.8 756.42L433.3 756.54L433.8 756.47L434.3 756.49L434.8 756.56L435.3 756.8L435.8 756.81L436.3 756.75L436.8 756.56L437.3 756.64L437.8 756.42L438.3 756.71L438.8 756.75L439.3 756.52L439.8 756.53L440.3 756.81L440.8 756.64L441.3 756.59L441.8 756.46L442.3 756.47L442.8 756.44L443.3 756.56L443.8 756.42L444.3 756.58L444.8 756.66L445.3 756.75L445.8 756.45L446.3 756.51L446.8 756.53L447.3 756.41L447.8 756.52L448.3 756.65L448.8 756.5L449.3 756.42L449.8 756.72L450.3 756.42L450.8 756.6L451.3 756.76L451.8 756.57L452.3 756.47L452.8 756.57L453.3 756.67L453.8 756.47L454.3 756.77L454.8 756.51L455.3 756.63L455.8 756.53L456.3 756.57L456.8 756.67L457.3 756.71L457.8 756.46L458.3 756.59L458.8 756.67L459.3 756.53L459.8 756.47L460.3 756.78L460.8 756.59L461.3 756.74L461.8 756.47L462.3 756.82L462.8 756.45L463.3 756.55L463.8 756.56L464.3 756.56L464.8 756.67L465.3 756.59L465.8 756.73L466.3 756.63L466.8 756.53L467.3 756.53L467.8 756.65L468.3 756.53L468.8 756.47L469.3 756.47L469.8 756.88L470.3 756.57L470.8 756.73L471.3 756.46L471.8 756.54L472.3 756.59L472.8 756.53L473.3 756.57L473.8 756.71L474.3 756.43L474.8 756.81L475.3 756.83L475.8 756.66L476.3 756.74L476.8 756.62L477.3 756.53L477.8 756.62L478.3 756.41L478.8 756.64L479.3 756.42L479.8 756.41L480.3 756.55L480.8 756.46L481.3 756.79L481.8 756.42L482.3 756.59L482.8 756.64L483.3 756.42L483.8 756.61L484.3 756.78L484.8 756.84L485.3 756.46L485.8 756.72L486.3 756.52L486.8 756.78L487.3 756.46L487.8 756.41L488.3 756.63L488.8 756.46L489.3 756.43L489.8 756.69L490.3 756.58L490.8 756.4L491.3 756.41L491.8 756.55L492.3 756.55L492.8 756.85L493.3 756.45L493.8 756.42L494.3 756.55L494.8 756.69L495.3 756.76L495.8 756.52L496.3 756.5L496.8 756.53L497.3 756.45L497.8 756.83L498.3 756.88L498.8 756.77L499.3 756.65L499.8 756.82L500.3 756.69L500.8 756.71L501.3 756.46L501.8 756.56L502.3 756.71L502.8 756.57L503.3 756.74L503.8 756.4L504.3 756.78L504.8 756.69L505.3 756.54L505.8 756.43L506.3 756.51L506.8 756.75L507.3 756.53L507.8 756.48L508.3 756.42L508.8 756.52L509.3 756.68L509.8 756.45L510.3 756.5L510.8 756.43L511.3 756.71L511.8 756.45L512.3 756.58L512.8 756.7L513.3 756.68L513.8 756.77L514.3 756.43L514.8 756.74L515.3 756.52L515.8 756.68L516.3 756.68L516.8 756.63L517.3 756.45L517.8 756.8L518.3 756.62L518.8 756.64L519.3 756.58L519.8 756.52L520.3 756.44L520.8 756.52L521.3 756.45L521.8 756.44L522.3 756.46L522.8 756.84L523.3 756.8L523.8 756.56L524.3 756.71L524.8 756.63L525.3 756.56L525.8 756.56L526.3 756.47L526.8 756.47L527.3 756.7L527.8 756.54L528.3 756.58L528.8 756.59L529.3 756.49L529.8 755.13L530.3 755.81L530.8 756.54L531.3 756.68L531.8 756.65L532.3 756.77L532.8 756.79L533.3 756.59L533.8 756.41L534.3 756.53L534.8 756.68L535.3 756.41L535.8 754.93L536.3 744.13L536.8 750.72L537.3 756.62L537.8 754.24L538.3 754.85L538.8 756.68L539.3 756.43L539.8 756.6L540.3 756.49L540.8 756.42L541.3 756.47L541.8 756.76L542.3 756.46L542.8 756.59L543.3 756.4L543.8 756.62L544.3 756.72L544.8 756.76L545.3 756.4L545.8 756.6L546.3 756.86L546.8 756.57L547.3 756.41L547.8 756.7L548.3 756.42L548.8 756.4L549.3 756.71L549.8 756.71L549.9 756.9Z" fill="#4d7d97"/>
<line x1="385.3" y1="756.7" x2="549.9" y2="756.7" stroke="#a6c0cf" stroke-width="0.6"/>
<path d="M387.5 744.2 L385.3 744.2 L385.3 756.9" fill="none" stroke="#333" stroke-width="0.7"/>
<path d="M385.8 773.6L385.8 773.14L386.3 773.43L386.8 773.11L387.3 773.39L387.8 773.28L388.3 773.13L388.8 773.33L389.3 773.27L389.8 773.43L390.3 773.11L390.8 773.1L391.3 773.43L391.8 773.46L392.3 773.28L392.8 773.26L393.3 773.17L393.8 773.34L394.3 773.24L394.8 773.43L395.3 770.98L395.8 773.25L396.3 773.25L396.8 773.23L397.3 773.12L397.8 773.35L398.3 773.34L398.8 773.28L399.3 773.12L399.8 773.35L400.3 773.36L400.8 773.3L401.3 773.2L401.8 773.37L402.3 773.43L402.8 773.19L403.3 773.24L403.8 773.24L404.3 773.56L404.8 773.38L405.3 773.47L405.8 773.33L406.3 773.13L406.8 773.1L407.3 773.15L407.8 773.32L408.3 773.24L408.8 773.13L409.3 773.34L409.8 773.31L410.3 773.19L410.8 773.34L411.3 773.28L411.8 773.33L412.3 773.16L412.8 773.26L413.3 773.48L413.8 773.56L414.3 773.22L414.8 773.46L415.3 773.21L415.8 773.4L416.3 773.26L416.8 773.34L417.3 773.21L417.8 773.45L418.3 773.31L418.8 773.21L419.3 773.38L419.8 773.1L420.3 773.1L420.8 773.11L421.3 773.12L421.8 773.12L422.3 772.94L422.8 771.51L423.3 773.12L423.8 773.12L424.3 773.38L424.8 773.32L425.3 773.39L425.8 773.19L426.3 773.43L426.8 773.16L427.3 773.53L427.8 773.31L428.3 773.17L428.8 773.28L429.3 773.45L429.8 773.54L430.3 773.2L430.8 773.49L431.3 773.37L431.8 773.23L432.3 773.35L432.8 773.53L433.3 773.16L433.8 773.19L434.3 773.23L434.8 773.47L435.3 773.28L435.8 773.11L436.3 773.27L436.8 773.38L437.3 773.12L437.8 773.34L438.3 773.26L438.8 773.43L439.3 773.14L439.8 773.2L440.3 773.26L440.8 773.27L441.3 773.34L441.8 773.29L442.3 773.27L442.8 773.55L443.3 773.19L443.8 773.18L444.3 773.54L444.8 773.45L445.3 773.19L445.8 773.34L446.3 773.45L446.8 773.2L447.3 773.11L447.8 773.33L448.3 773.24L448.8 773.25L449.3 773.25L449.8 773.23L450.3 773.13L450.8 773.14L451.3 773.13L451.8 773.2L452.3 773.18L452.8 773.18L453.3 773.18L453.8 773.2L454.3 773.18L454.8 773.51L455.3 773.43L455.8 773.21L456.3 773.3L456.8 773.39L457.3 773.22L457.8 773.41L458.3 773.18L458.8 773.35L459.3 773.13L459.8 773.35L460.3 773.11L460.8 773.34L461.3 773.17L461.8 773.45L462.3 773.27L462.8 773.33L463.3 773.14L463.8 773.19L464.3 773.24L464.8 773.46L465.3 773.26L465.8 773.39L466.3 773.47L466.8 773.2L467.3 773.25L467.8 773.1L468.3 773.15L468.8 773.52L469.3 773.12L469.8 773.26L470.3 773.1L470.8 773.35L471.3 773.28L471.8 773.2L472.3 773.38L472.8 773.31L473.3 773.34L473.8 773.34L474.3 773.25L474.8 773.27L475.3 773.14L475.8 773.38L476.3 773.39L476.8 773.36L477.3 773.58L477.8 773.34L478.3 773.33L478.8 773.48L479.3 773.26L479.8 773.48L480.3 773.16L480.8 773.12L481.3 773.23L481.8 773.41L482.3 773.44L482.8 773.51L483.3 773.42L483.8 773.15L484.3 773.17L484.8 773.14L485.3 773.33L485.8 773.25L486.3 773.19L486.8 773.21L487.3 773.21L487.8 773.54L488.3 773.1L488.8 773.24L489.3 773.37L489.8 773.34L490.3 773.18L490.8 773.12L491.3 773.53L491.8 773.4L492.3 773.52L492.8 773.22L493.3 773.23L493.8 773.22L494.3 773.42L494.8 773.3L495.3 773.14L495.8 773.35L496.3 773.41L496.8 773.4L497.3 773.16L497.8 773.39L498.3 773.19L498.8 773.23L499.3 773.16L499.8 773.51L500.3 773.36L500.8 773.11L501.3 773.27L501.8 773.49L502.3 773.47L502.8 773.42L503.3 773.21L503.8 773.35L504.3 773.48L504.8 773.38L505.3 773.16L505.8 773.19L506.3 773.28L506.8 773.37L507.3 773.48L507.8 773.47L508.3 773.14L508.8 773.23L509.3 773.57L509.8 773.17L510.3 773.12L510.8 773.31L511.3 773.13L511.8 773.34L512.3 773.34L512.8 773.31L513.3 773.27L513.8 773.32L514.3 773.39L514.8 773.49L515.3 773.36L515.8 773.24L516.3 773.14L516.8 773.2L517.3 773.27L517.8 773.31L518.3 773.43L518.8 773.2L519.3 773.16L519.8 773.33L520.3 773.18L520.8 773.15L521.3 773.33L521.8 773.58L522.3 773.15L522.8 773.27L523.3 773.49L523.8 773.23L524.3 773.22L524.8 773.22L525.3 773.21L525.8 773.25L526.3 773.53L526.8 773.13L527.3 773.21L527.8 773.14L528.3 773.26L528.8 773.2L529.3 773.28L529.8 773.18L530.3 773.48L530.8 773.34L531.3 773.17L531.8 773.33L532.3 773.26L532.8 773.33L533.3 773.17L533.8 773.46L534.3 773.36L534.8 773.5L535.3 773.5L535.8 773.31L536.3 764.6L536.8 769.31L537.3 773.19L537.8 771.88L538.3 772.22L538.8 773.17L539.3 773.21L539.8 773.11L540.3 773.31L540.8 773.16L541.3 773.44L541.8 773.37L542.3 773.32L542.8 773.33L543.3 773.25L543.8 773.37L544.3 773.46L544.8 773.28L545.3 773.27L545.8 773.16L546.3 773.24L546.8 773.29L547.3 773.4L547.8 773.19L548.3 773.14L548.8 773.5L549.3 773.37L549.8 773.18L549.9 773.6Z" fill="#b0608e"/>
<line x1="385.3" y1="773.4" x2="549.9" y2="773.4" stroke="#c98ab0" stroke-width="0.6"/>
<path d="M387.5 761.3 L385.3 761.3 L385.3 773.6" fill="none" stroke="#333" stroke-width="0.7"/>
<path d="M385.8 790.4L385.8 789.96L386.3 789.47L386.8 788.34L387.3 789.08L387.8 790L388.3 788.6L388.8 789.22L389.3 788.81L389.8 788.45L390.3 788.84L390.8 789.63L391.3 788.44L391.8 789.24L392.3 788.73L392.8 788.24L393.3 788.34L393.8 788.39L394.3 787.45L394.8 788.79L395.3 789.07L395.8 789.67L396.3 788.36L396.8 790.19L397.3 787.62L397.8 787.34L398.3 789.17L398.8 789.3L399.3 789.35L399.8 787.39L400.3 788.32L400.8 788.49L401.3 788.48L401.8 788.61L402.3 788.26L402.8 790.16L403.3 789.31L403.8 789.24L404.3 789.36L404.8 788.97L405.3 789.46L405.8 789.9L406.3 788.41L406.8 789.19L407.3 788.52L407.8 789.08L408.3 789.06L408.8 789.21L409.3 789.25L409.8 789.47L410.3 788.55L410.8 789.03L411.3 788.88L411.8 786.38L412.3 787.35L412.8 790L413.3 788.24L413.8 788.83L414.3 788.21L414.8 789.09L415.3 789.8L415.8 789.08L416.3 788.45L416.8 788.09L417.3 789.2L417.8 789.22L418.3 790.12L418.8 788.95L419.3 789.23L419.8 788.55L420.3 789.05L420.8 789.3L421.3 789.22L421.8 789.08L422.3 788.63L422.8 788.52L423.3 789.25L423.8 789.84L424.3 790.29L424.8 788.86L425.3 788.09L425.8 789.19L426.3 788.26L426.8 789.12L427.3 789.27L427.8 789.22L428.3 789.49L428.8 789.15L429.3 789.04L429.8 788.83L430.3 790.21L430.8 788.84L431.3 789.28L431.8 787.27L432.3 787.96L432.8 788.8L433.3 789.36L433.8 789.21L434.3 789.69L434.8 788.94L435.3 789.19L435.8 788.9L436.3 788.57L436.8 789.73L437.3 786.55L437.8 788.87L438.3 788.09L438.8 790.14L439.3 789.44L439.8 789.04L440.3 789.36L440.8 788.55L441.3 789.91L441.8 789.48L442.3 789.19L442.8 789.61L443.3 789.09L443.8 788.24L444.3 789.13L444.8 789.68L445.3 786.74L445.8 788.47L446.3 788.63L446.8 788.86L447.3 789.21L447.8 788.32L448.3 789.46L448.8 789.2L449.3 788.78L449.8 787.79L450.3 788.35L450.8 788.12L451.3 789.82L451.8 789.77L452.3 789.11L452.8 789.06L453.3 789.93L453.8 788.61L454.3 788.28L454.8 787.55L455.3 787.55L455.8 787.44L456.3 789.37L456.8 789.52L457.3 789.02L457.8 788.48L458.3 789.78L458.8 788.74L459.3 789.49L459.8 789.69L460.3 789.2L460.8 789.21L461.3 788.81L461.8 789.05L462.3 788.47L462.8 788.24L463.3 788.33L463.8 787.9L464.3 789.18L464.8 788.98L465.3 789.95L465.8 788.3L466.3 789.56L466.8 789.53L467.3 788.38L467.8 789.2L468.3 790.18L468.8 789.93L469.3 788.81L469.8 790.33L470.3 788.66L470.8 789.93L471.3 790.02L471.8 788.36L472.3 788.5L472.8 789.79L473.3 789.19L473.8 788.44L474.3 789.07L474.8 788.81L475.3 789.2L475.8 787.37L476.3 789.13L476.8 785.16L477.3 780.62L477.8 787.61L478.3 788.57L478.8 789.11L479.3 788.49L479.8 789.91L480.3 788.77L480.8 788.61L481.3 788.71L481.8 789.1L482.3 788.78L482.8 790.01L483.3 788.71L483.8 790.3L484.3 789.71L484.8 789.19L485.3 788.56L485.8 789.08L486.3 788.79L486.8 788.35L487.3 788.45L487.8 789.74L488.3 786.68L488.8 788.46L489.3 788.9L489.8 789.88L490.3 788.66L490.8 789.41L491.3 787.99L491.8 788.18L492.3 789.47L492.8 788.84L493.3 789.55L493.8 789.32L494.3 788.84L494.8 789.11L495.3 788.82L495.8 790.14L496.3 789.32L496.8 788.56L497.3 788.41L497.8 789.32L498.3 788.21L498.8 788.37L499.3 787.84L499.8 789.16L500.3 788.72L500.8 788.92L501.3 789.18L501.8 789.31L502.3 789.92L502.8 788.34L503.3 789.43L503.8 789.73L504.3 788.69L504.8 788.8L505.3 789.66L505.8 788.55L506.3 788.37L506.8 789.13L507.3 789.3L507.8 788.51L508.3 788.73L508.8 788.31L509.3 789.23L509.8 788.31L510.3 787.71L510.8 789.5L511.3 789.65L511.8 789.79L512.3 788.32L512.8 788.6L513.3 788.31L513.8 788.88L514.3 790.2L514.8 788.93L515.3 788.4L515.8 788.23L516.3 788.93L516.8 789.42L517.3 790.13L517.8 788.35L518.3 788.77L518.8 788.57L519.3 788L519.8 788.28L520.3 788.87L520.8 788.98L521.3 789.39L521.8 788.7L522.3 786.05L522.8 789.82L523.3 788.27L523.8 788.73L524.3 788.46L524.8 788.69L525.3 789.16L525.8 790.32L526.3 788.78L526.8 788.58L527.3 786.54L527.8 786.81L528.3 789.61L528.8 788.31L529.3 789.38L529.8 789.67L530.3 788.64L530.8 783.52L531.3 785.49L531.8 788.54L532.3 789.39L532.8 789.9L533.3 789.79L533.8 789.13L534.3 782.82L534.8 782.57L535.3 789.63L535.8 788.67L536.3 779.03L536.8 780.9L537.3 790.07L537.8 788.36L538.3 783.39L538.8 785.03L539.3 788.64L539.8 789.71L540.3 789.36L540.8 786.71L541.3 787.12L541.8 789.79L542.3 789.81L542.8 788.92L543.3 788.74L543.8 788.21L544.3 789.49L544.8 789.22L545.3 790.17L545.8 788.69L546.3 788.5L546.8 789.22L547.3 788.45L547.8 788.47L548.3 788.38L548.8 788.39L549.3 789.28L549.8 789.91L549.9 790.4Z" fill="#7f9a52"/>
<line x1="385.3" y1="790.2" x2="549.9" y2="790.2" stroke="#a9bd8a" stroke-width="0.6"/>
<path d="M387.5 777.9 L385.3 777.9 L385.3 790.4" fill="none" stroke="#333" stroke-width="0.7"/>
<text x="389.3" y="748" font-size="7.3" stroke="#231f20" stroke-width="0.15">3.6</text>
<text x="389.3" y="765.1" font-size="7.3" stroke="#231f20" stroke-width="0.15">102</text>
<text x="389.3" y="781.7" font-size="7.3" stroke="#231f20" stroke-width="0.15">15</text>
<rect x="385.2" y="794" width="25.4" height="3.8" fill="#7d8f52"/>
<text x="383.8" y="806" font-size="7.2" font-style="italic" stroke="#231f20" stroke-width="0.15">TE10132</text>
<line x1="399.8" y1="811" x2="422.3" y2="811" stroke="#222" stroke-width="0.5"/>
<line x1="436.7" y1="811" x2="460.2" y2="811" stroke="#222" stroke-width="0.5"/>
<line x1="502.9" y1="811" x2="514.6" y2="811" stroke="#222" stroke-width="0.5"/>
<line x1="537.4" y1="811" x2="549.9" y2="811" stroke="#222" stroke-width="0.5"/>
<rect x="399.8" y="809" width="1.7" height="4" fill="#111"/>
<rect x="402.2" y="808.5" width="0.8" height="5" fill="#111"/>
<rect x="403.8" y="808.5" width="0.8" height="5" fill="#111"/>
<rect x="405.2" y="809" width="0.8" height="4" fill="#111"/>
<rect x="421.8" y="809.5" width="0.5" height="3" fill="#111"/>
<rect x="436.7" y="809" width="0.6" height="4" fill="#111"/>
<rect x="438" y="808.5" width="1" height="5" fill="#111"/>
<rect x="441" y="808.5" width="1" height="5" fill="#111"/>
<rect x="444" y="808.5" width="1" height="5" fill="#111"/>
<rect x="447" y="808.5" width="0.8" height="5" fill="#111"/>
<rect x="451" y="808.5" width="1" height="5" fill="#111"/>
<rect x="454" y="808.5" width="1" height="5" fill="#111"/>
<rect x="457" y="808.5" width="3.2" height="5" fill="#111"/>
<rect x="489" y="809" width="1" height="4" fill="#111"/>
<rect x="502.9" y="809" width="0.6" height="4" fill="#111"/>
<rect x="506" y="809" width="1" height="4" fill="#111"/>
<rect x="509.5" y="809" width="1" height="4" fill="#111"/>
<rect x="514" y="809" width="0.6" height="4" fill="#111"/>
<rect x="537.4" y="808.5" width="1.6" height="5" fill="#111"/>
<rect x="540" y="808.5" width="1.5" height="5" fill="#111"/>
<rect x="542.5" y="808.5" width="1.5" height="5" fill="#111"/>
<rect x="545" y="808.5" width="1.5" height="5" fill="#111"/>
<rect x="547.5" y="808.5" width="2.4" height="5" fill="#111"/>
<text x="407.2" y="823.6" font-size="7.2" text-anchor="middle" font-style="italic" stroke="#231f20" stroke-width="0.15">CYB5A</text>
<text x="444.1" y="823.6" font-size="7.2" text-anchor="middle" font-style="italic" stroke="#231f20" stroke-width="0.15">C18orf63</text>
<text x="506.9" y="823.6" font-size="7.2" text-anchor="middle" font-style="italic" stroke="#231f20" stroke-width="0.15">DIPK1C</text>
<text x="540.5" y="823.6" font-size="7.2" text-anchor="middle" font-style="italic" stroke="#231f20" stroke-width="0.15">CNDP2</text>
<line x1="593.9" y1="707.8" x2="593.9" y2="804.4" stroke="#3a3a3a" stroke-width="0.7"/>
<line x1="591.7" y1="804.4" x2="593.9" y2="804.4" stroke="#3a3a3a" stroke-width="0.6"/>
<text x="589.3" y="806.9" font-size="6.9" text-anchor="end" fill="#333" stroke="#333" stroke-width="0.15">0.0</text>
<line x1="591.7" y1="772.2" x2="593.9" y2="772.2" stroke="#3a3a3a" stroke-width="0.6"/>
<text x="589.3" y="774.7" font-size="6.9" text-anchor="end" fill="#333" stroke="#333" stroke-width="0.15">0.5</text>
<line x1="591.7" y1="740" x2="593.9" y2="740" stroke="#3a3a3a" stroke-width="0.6"/>
<text x="589.3" y="742.5" font-size="6.9" text-anchor="end" fill="#333" stroke="#333" stroke-width="0.15">1.0</text>
<line x1="591.7" y1="707.8" x2="593.9" y2="707.8" stroke="#3a3a3a" stroke-width="0.6"/>
<text x="589.3" y="710.3" font-size="6.9" text-anchor="end" fill="#333" stroke="#333" stroke-width="0.15">1.5</text>
<line x1="593.9" y1="804.4" x2="662.8" y2="804.4" stroke="#3a3a3a" stroke-width="0.7"/>
<line x1="612" y1="804.4" x2="612" y2="807" stroke="#3a3a3a" stroke-width="0.6"/>
<line x1="644.2" y1="804.4" x2="644.2" y2="807" stroke="#3a3a3a" stroke-width="0.6"/>
<rect x="602.4" y="740" width="6.7" height="64.4" fill="#517f97"/>
<rect x="615.4" y="776.06" width="7" height="28.34" fill="#d6a27a"/>
<rect x="634.3" y="762.54" width="6.7" height="41.86" fill="#517f97"/>
<rect x="647.4" y="780.57" width="7.2" height="23.83" fill="#d6a27a"/>
<line x1="605.75" y1="741.29" x2="605.75" y2="737.42" stroke="#111" stroke-width="0.7"/>
<line x1="604.15" y1="741.29" x2="607.35" y2="741.29" stroke="#111" stroke-width="0.7"/>
<line x1="604.15" y1="737.42" x2="607.35" y2="737.42" stroke="#111" stroke-width="0.7"/>
<circle cx="602.7" cy="737.42" r="1.25" fill="#111"/>
<circle cx="608.8" cy="741.29" r="1.25" fill="#111"/>
<circle cx="605.75" cy="740.64" r="1.25" fill="#111"/>
<line x1="618.9" y1="776.71" x2="618.9" y2="774.78" stroke="#111" stroke-width="0.7"/>
<line x1="617.3" y1="776.71" x2="620.5" y2="776.71" stroke="#111" stroke-width="0.7"/>
<line x1="617.3" y1="774.78" x2="620.5" y2="774.78" stroke="#111" stroke-width="0.7"/>
<circle cx="615.7" cy="774.78" r="1.25" fill="#111"/>
<circle cx="622.1" cy="776.06" r="1.25" fill="#111"/>
<circle cx="618.9" cy="776.71" r="1.25" fill="#111"/>
<line x1="637.65" y1="762.54" x2="637.65" y2="760.61" stroke="#111" stroke-width="0.7"/>
<line x1="636.05" y1="762.54" x2="639.25" y2="762.54" stroke="#111" stroke-width="0.7"/>
<line x1="636.05" y1="760.61" x2="639.25" y2="760.61" stroke="#111" stroke-width="0.7"/>
<circle cx="634.6" cy="760.61" r="1.25" fill="#111"/>
<circle cx="640.7" cy="762.54" r="1.25" fill="#111"/>
<circle cx="637.65" cy="762.54" r="1.25" fill="#111"/>
<line x1="651" y1="780.57" x2="651" y2="778" stroke="#111" stroke-width="0.7"/>
<line x1="649.4" y1="780.57" x2="652.6" y2="780.57" stroke="#111" stroke-width="0.7"/>
<line x1="649.4" y1="778" x2="652.6" y2="778" stroke="#111" stroke-width="0.7"/>
<circle cx="647.7" cy="778" r="1.25" fill="#111"/>
<circle cx="654.3" cy="780.57" r="1.25" fill="#111"/>
<circle cx="651" cy="780.57" r="1.25" fill="#111"/>
<path d="M605.3 720 L605.3 718 L637.6 718 L637.6 720" fill="none" stroke="#333" stroke-width="0.6"/>
<text x="606.2" y="716.2" font-size="6.9" fill="#333" stroke="#333" stroke-width="0.15"><tspan font-style="italic">P</tspan> &lt; 1 x 10<tspan font-size="4.83" dy="-2.3">-6</tspan></text>
<path d="M605.3 732.8 L605.3 730.8 L619.5 730.8 L619.5 732.8" fill="none" stroke="#333" stroke-width="0.6"/>
<text x="596.4" y="730.2" font-size="6.9" fill="#333" stroke="#333" stroke-width="0.15"><tspan font-style="italic">P</tspan> = 2 x 10<tspan font-size="4.83" dy="-2.3">-6</tspan></text>
<path d="M619.1 743.6 L619.1 741.6 L651.4 741.6 L651.4 743.6" fill="none" stroke="#333" stroke-width="0.6"/>
<text x="622.4" y="740.9" font-size="6.9" fill="#333" stroke="#333" stroke-width="0.15"><tspan font-style="italic">P</tspan> = 0.14</text>
<path d="M637.2 757.1 L637.2 755.1 L651.8 755.1 L651.8 757.1" fill="none" stroke="#333" stroke-width="0.6"/>
<text x="626.7" y="753.2" font-size="6.9" fill="#333" stroke="#333" stroke-width="0.15"><tspan font-style="italic">P</tspan> = 1.5 x 10<tspan font-size="4.83" dy="-2.3">-5</tspan></text>
<rect x="653.3" y="715.6" width="9.5" height="4.8" fill="#517f97"/>
<text x="663.6" y="720.4" font-size="7" fill="#333" stroke="#333" stroke-width="0.15">shGFP</text>
<rect x="653.3" y="725.3" width="9.5" height="4.8" fill="#d6a27a"/>
<text x="663.6" y="730.1" font-size="7" fill="#333" stroke="#333" stroke-width="0.15">shSP1</text>
<text x="566" y="756.5" font-size="7.5" text-anchor="middle" fill="#333" stroke="#333" stroke-width="0.15" transform="rotate(-90 566 756.5)">Relative interaction frequency</text>
<text x="574.6" y="756.5" font-size="7.5" text-anchor="middle" fill="#333" stroke="#333" stroke-width="0.15" transform="rotate(-90 574.6 756.5)">(normalized to GAPDH)</text>
<text x="612.5" y="815.5" font-size="6.9" text-anchor="end" fill="#333" stroke="#333" stroke-width="0.15" transform="rotate(-31 612.5 815.5)">WT</text>
<text x="646.5" y="815.5" font-size="6.9" text-anchor="end" fill="#333" stroke="#333" stroke-width="0.15" transform="rotate(-31 646.5 815.5)">CNDP2 MT</text>
</svg></body></html>
